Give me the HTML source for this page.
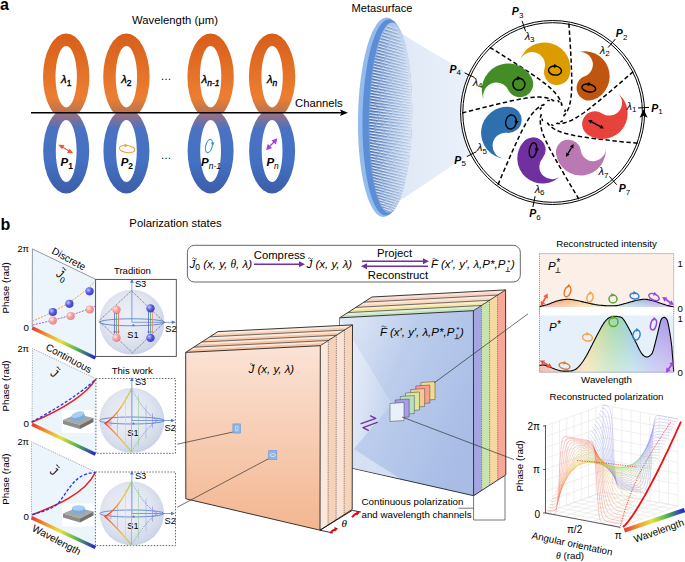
<!DOCTYPE html>
<html><head><meta charset="utf-8"><style>
html,body{margin:0;padding:0;background:#fff;width:685px;height:562px;overflow:hidden}
svg{display:block}
</style></head><body>
<svg width="685" height="562" viewBox="0 0 685 562">
<rect width="685" height="562" fill="#fff"/>

<defs>
 <linearGradient id="gOr" x1="0" y1="33" x2="0" y2="114" gradientUnits="userSpaceOnUse">
  <stop offset="0" stop-color="#d75e19"/><stop offset="0.8" stop-color="#ec7e31"/><stop offset="1" stop-color="#b77252"/>
 </linearGradient>
 <linearGradient id="gBl" x1="0" y1="112" x2="0" y2="195" gradientUnits="userSpaceOnUse">
  <stop offset="0" stop-color="#a6707a"/><stop offset="0.2" stop-color="#4a72c2"/><stop offset="0.6" stop-color="#4471c3"/><stop offset="1" stop-color="#3b5ca6"/>
 </linearGradient>
 <clipPath id="cTop"><rect x="0" y="0" width="685" height="113"/></clipPath>
 <clipPath id="cBot"><rect x="0" y="113" width="685" height="100"/></clipPath>
 <linearGradient id="gBeam" x1="400" y1="0" x2="470" y2="0" gradientUnits="userSpaceOnUse">
  <stop offset="0" stop-color="#dfe9f6"/><stop offset="1" stop-color="#ebf1fa"/>
 </linearGradient>
 <linearGradient id="gMeta" x1="367" y1="0" x2="411" y2="0" gradientUnits="userSpaceOnUse">
  <stop offset="0" stop-color="#6f98d6"/><stop offset="0.45" stop-color="#a6c1e8"/><stop offset="1" stop-color="#d8e4f4"/>
 </linearGradient>
 <linearGradient id="gRain" x1="0" y1="0" x2="1" y2="0">
  <stop offset="0" stop-color="#e8382c"/><stop offset="0.25" stop-color="#f0a030"/><stop offset="0.45" stop-color="#e8e040"/><stop offset="0.7" stop-color="#58b848"/><stop offset="1" stop-color="#2020d0"/>
 </linearGradient>
 <linearGradient id="gPanel" x1="0" y1="0" x2="1" y2="1">
  <stop offset="0" stop-color="#eef5fc"/><stop offset="1" stop-color="#e8f1fb"/>
 </linearGradient>
 <radialGradient id="gSph" cx="0.45" cy="0.42" r="0.58">
  <stop offset="0" stop-color="#eef0f6"/><stop offset="0.6" stop-color="#e2e6f0"/><stop offset="0.9" stop-color="#d2d9ea"/><stop offset="1" stop-color="#c9d2e8"/>
 </radialGradient>
 <linearGradient id="gOrSlab" x1="0" y1="0" x2="0" y2="1">
  <stop offset="0" stop-color="#fbe3d6"/><stop offset="1" stop-color="#f3b690"/>
 </linearGradient>
 <linearGradient id="gBlSlab" x1="0" y1="0" x2="1" y2="0.6">
  <stop offset="0" stop-color="#e4ebf8"/><stop offset="0.45" stop-color="#bccdec"/><stop offset="1" stop-color="#a8bce6"/>
 </linearGradient>
 <linearGradient id="gMW" x1="367" y1="0" x2="411" y2="0" gradientUnits="userSpaceOnUse">
  <stop offset="0" stop-color="#fff" stop-opacity="0.85"/><stop offset="0.5" stop-color="#fff" stop-opacity="0.55"/><stop offset="1" stop-color="#fff" stop-opacity="0.3"/>
 </linearGradient>
 <linearGradient id="gMG" x1="367" y1="0" x2="411" y2="0" gradientUnits="userSpaceOnUse">
  <stop offset="0" stop-color="#34466e" stop-opacity="0.85"/><stop offset="0.5" stop-color="#5a6e98" stop-opacity="0.5"/><stop offset="1" stop-color="#8090b0" stop-opacity="0.25"/>
 </linearGradient>
 <linearGradient id="gWedge" x1="340" y1="0" x2="392" y2="0" gradientUnits="userSpaceOnUse">
  <stop offset="0" stop-color="#eef2fb" stop-opacity="0.9"/><stop offset="1" stop-color="#e4eaf7" stop-opacity="0.2"/>
 </linearGradient>
 <linearGradient id="gSphL" x1="0" y1="0" x2="0" y2="1">
  <stop offset="0" stop-color="#b0d060"/><stop offset="0.25" stop-color="#f0c040"/><stop offset="0.42" stop-color="#f08030"/><stop offset="0.52" stop-color="#f02820"/><stop offset="0.65" stop-color="#f08050"/><stop offset="0.85" stop-color="#f0c050"/><stop offset="1" stop-color="#a8d070"/>
 </linearGradient>
 <linearGradient id="gSphR" x1="0" y1="0" x2="0" y2="1">
  <stop offset="0" stop-color="#90d090"/><stop offset="0.5" stop-color="#6060e0"/><stop offset="1" stop-color="#90d090"/>
 </linearGradient>
 <radialGradient id="gBall" cx="0.35" cy="0.35" r="0.7">
  <stop offset="0" stop-color="#c8c8ff"/><stop offset="0.5" stop-color="#5a5ae6"/><stop offset="1" stop-color="#3a3ac0"/>
 </radialGradient>
 <radialGradient id="gBallP" cx="0.35" cy="0.35" r="0.7">
  <stop offset="0" stop-color="#ffe8e8"/><stop offset="0.5" stop-color="#f5a0a0"/><stop offset="1" stop-color="#e88080"/>
 </radialGradient>
 <linearGradient id="gSpec" x1="539" y1="0" x2="674" y2="0" gradientUnits="userSpaceOnUse">
  <stop offset="0" stop-color="#f06050"/><stop offset="0.2" stop-color="#f5a060"/><stop offset="0.35" stop-color="#f0d070"/><stop offset="0.55" stop-color="#8ed090"/><stop offset="0.7" stop-color="#80c0d8"/><stop offset="0.85" stop-color="#9090e8"/><stop offset="1" stop-color="#a070e0"/>
 </linearGradient>
 <linearGradient id="gSpecFade" x1="0" y1="0" x2="0" y2="1">
  <stop offset="0" stop-color="#fff" stop-opacity="0"/><stop offset="1" stop-color="#fff" stop-opacity="0.55"/>
 </linearGradient>
</defs>
<text x="0" y="9.5" font-family="Liberation Sans, sans-serif" font-size="16" font-weight="bold">a</text>
<text x="0.5" y="229.7" font-family="Liberation Sans, sans-serif" font-size="16" font-weight="bold">b</text>
<text x="175" y="24" font-family="Liberation Sans, sans-serif" font-size="11.3" text-anchor="middle">Wavelength (μm)</text>
<text x="175.5" y="227.3" font-family="Liberation Sans, sans-serif" font-size="11.3" text-anchor="middle">Polarization states</text>
<text x="382" y="12" font-family="Liberation Sans, sans-serif" font-size="11.1" text-anchor="middle">Metasurface</text>
<path d="M43.0,76.7 a23.2,43.2 0 1,0 46.4,0 a23.2,43.2 0 1,0 -46.4,0 Z M55.5,76.7 a10.7,30.7 0 1,1 21.4,0 a10.7,30.7 0 1,1 -21.4,0 Z" fill="url(#gOr)" fill-rule="evenodd" clip-path="url(#cTop)"/>
<path d="M43.2,151.0 a23.0,42.5 0 1,0 46.0,0 a23.0,42.5 0 1,0 -46.0,0 Z M55.800000000000004,151.0 a10.4,31.0 0 1,1 20.8,0 a10.4,31.0 0 1,1 -20.8,0 Z" fill="url(#gBl)" fill-rule="evenodd" clip-path="url(#cBot)"/>
<path d="M103.2,76.7 a23.2,43.2 0 1,0 46.4,0 a23.2,43.2 0 1,0 -46.4,0 Z M115.7,76.7 a10.7,30.7 0 1,1 21.4,0 a10.7,30.7 0 1,1 -21.4,0 Z" fill="url(#gOr)" fill-rule="evenodd" clip-path="url(#cTop)"/>
<path d="M103.4,151.0 a23.0,42.5 0 1,0 46.0,0 a23.0,42.5 0 1,0 -46.0,0 Z M116.0,151.0 a10.4,31.0 0 1,1 20.8,0 a10.4,31.0 0 1,1 -20.8,0 Z" fill="url(#gBl)" fill-rule="evenodd" clip-path="url(#cBot)"/>
<path d="M187.4,76.7 a23.2,43.2 0 1,0 46.4,0 a23.2,43.2 0 1,0 -46.4,0 Z M199.9,76.7 a10.7,30.7 0 1,1 21.4,0 a10.7,30.7 0 1,1 -21.4,0 Z" fill="url(#gOr)" fill-rule="evenodd" clip-path="url(#cTop)"/>
<path d="M187.6,151.0 a23.0,42.5 0 1,0 46.0,0 a23.0,42.5 0 1,0 -46.0,0 Z M200.2,151.0 a10.4,31.0 0 1,1 20.8,0 a10.4,31.0 0 1,1 -20.8,0 Z" fill="url(#gBl)" fill-rule="evenodd" clip-path="url(#cBot)"/>
<path d="M248.90000000000003,76.7 a23.2,43.2 0 1,0 46.4,0 a23.2,43.2 0 1,0 -46.4,0 Z M261.40000000000003,76.7 a10.7,30.7 0 1,1 21.4,0 a10.7,30.7 0 1,1 -21.4,0 Z" fill="url(#gOr)" fill-rule="evenodd" clip-path="url(#cTop)"/>
<path d="M249.10000000000002,151.0 a23.0,42.5 0 1,0 46.0,0 a23.0,42.5 0 1,0 -46.0,0 Z M261.70000000000005,151.0 a10.4,31.0 0 1,1 20.8,0 a10.4,31.0 0 1,1 -20.8,0 Z" fill="url(#gBl)" fill-rule="evenodd" clip-path="url(#cBot)"/>
<line x1="31" y1="112.8" x2="343" y2="112.8" stroke="#000" stroke-width="1.4"/>
<path d="M348,112.8 L340,109.5 L341.5,112.8 L340,116.1 Z" fill="#000"/>
<text x="295" y="106.6" font-family="Liberation Sans, sans-serif" font-size="11.3">Channels</text>
<text x="66.2" y="82.5" font-family="Liberation Sans, sans-serif" font-style="italic" font-weight="normal" font-size="11.5" text-anchor="middle" stroke="#000" stroke-width="0.35">λ<tspan font-size="8.5" font-weight="normal" font-style="normal" dy="3">1</tspan></text>
<text x="66.7" y="166.3" font-family="Liberation Sans, sans-serif" font-style="italic" font-weight="bold" font-size="11.5" text-anchor="middle">P<tspan font-size="8.5" font-weight="bold" font-style="normal" dy="3">1</tspan></text>
<text x="126.4" y="82.5" font-family="Liberation Sans, sans-serif" font-style="italic" font-weight="normal" font-size="11.5" text-anchor="middle" stroke="#000" stroke-width="0.35">λ<tspan font-size="8.5" font-weight="normal" font-style="normal" dy="3">2</tspan></text>
<text x="126.9" y="166.3" font-family="Liberation Sans, sans-serif" font-style="italic" font-weight="bold" font-size="11.5" text-anchor="middle">P<tspan font-size="8.5" font-weight="bold" font-style="normal" dy="3">2</tspan></text>
<text x="210.6" y="82.5" font-family="Liberation Sans, sans-serif" font-style="italic" font-weight="normal" font-size="11.5" text-anchor="middle" stroke="#000" stroke-width="0.35">λ<tspan font-size="8.5" font-weight="normal" font-style="italic" dy="3">n-1</tspan></text>
<text x="211.1" y="166.3" font-family="Liberation Sans, sans-serif" font-style="italic" font-weight="bold" font-size="11.5" text-anchor="middle">P<tspan font-size="8.5" font-weight="normal" font-style="italic" dy="3">n-1</tspan></text>
<text x="272.1" y="82.5" font-family="Liberation Sans, sans-serif" font-style="italic" font-weight="normal" font-size="11.5" text-anchor="middle" stroke="#000" stroke-width="0.35">λ<tspan font-size="8.5" font-weight="normal" font-style="italic" dy="3">n</tspan></text>
<text x="272.6" y="166.3" font-family="Liberation Sans, sans-serif" font-style="italic" font-weight="bold" font-size="11.5" text-anchor="middle">P<tspan font-size="8.5" font-weight="normal" font-style="italic" dy="3">n</tspan></text>
<text x="166" y="80" font-family="Liberation Sans, sans-serif" font-size="11" text-anchor="middle">…</text>
<text x="166" y="159" font-family="Liberation Sans, sans-serif" font-size="11" text-anchor="middle">…</text>
<g stroke="#ea5a3c" stroke-width="1.2" fill="#ea5a3c"><line x1="61.5" y1="146.5" x2="70" y2="151.5"/><path d="M59.5,145.3 l4,0.2 l-1.6,2.7z"/><path d="M72,152.7 l-4,-0.2 l1.6,-2.7z"/></g>
<g fill="none" stroke="#f0a040" stroke-width="1.1"><ellipse cx="127.1" cy="149" rx="7.8" ry="3.6" transform="rotate(8 127.1 149)"/></g><path d="M124.5,143.6 l3.6,1.9 l-3.4,2z" fill="#f0a040"/>
<g fill="none" stroke="#3a8fd8" stroke-width="1.1"><ellipse cx="209" cy="146" rx="3.2" ry="6.8" transform="rotate(15 209 146)"/></g><path d="M210.8,142.5 l3.8,0 l-1.8,3.6z" fill="#3a8fd8"/>
<g stroke="#a040e0" stroke-width="1.2" fill="#a040e0"><line x1="269" y1="147" x2="274.5" y2="141.5"/><path d="M276.5,139.3 l-1,4 l-2.9,-2.6z"/><path d="M267,149.2 l1,-4 l2.9,2.6z"/></g>
<path d="M396,30 C420,45 445,60 470,74 L470,154 C445,170 420,188 396,203 Z" fill="url(#gBeam)"/>
<g transform="translate(1.5,0) rotate(1 384 117)">
<ellipse cx="383.5" cy="117.3" rx="27" ry="99.8" fill="#93bbeb"/>
<ellipse cx="385.8" cy="117.3" rx="24.8" ry="98.2" fill="#5c8ed7"/>
<ellipse cx="389" cy="117.5" rx="21.8" ry="95" fill="url(#gMeta)"/>
<clipPath id="cMeta"><ellipse cx="389" cy="117.5" rx="21.8" ry="95"/></clipPath>
<g clip-path="url(#cMeta)"><line x1="384.0" y1="25.9" x2="389.4" y2="27.6" stroke="url(#gMW)" stroke-width="1.0"/><line x1="384.0" y1="27.0" x2="389.4" y2="28.7" stroke="url(#gMG)" stroke-width="0.8"/><line x1="390.7" y1="28.0" x2="393.8" y2="28.9" stroke="url(#gMW)" stroke-width="1.0"/><line x1="390.7" y1="29.1" x2="393.8" y2="30.0" stroke="url(#gMG)" stroke-width="0.8"/><line x1="382.0" y1="28.8" x2="389.7" y2="31.2" stroke="url(#gMW)" stroke-width="1.0"/><line x1="382.0" y1="29.9" x2="389.7" y2="32.3" stroke="url(#gMG)" stroke-width="0.8"/><line x1="390.4" y1="31.4" x2="394.5" y2="32.6" stroke="url(#gMW)" stroke-width="1.0"/><line x1="390.4" y1="32.5" x2="394.5" y2="33.7" stroke="url(#gMG)" stroke-width="0.8"/><line x1="380.4" y1="31.7" x2="386.0" y2="33.4" stroke="url(#gMW)" stroke-width="1.0"/><line x1="380.4" y1="32.8" x2="386.0" y2="34.5" stroke="url(#gMG)" stroke-width="0.8"/><line x1="386.9" y1="33.6" x2="396.9" y2="36.6" stroke="url(#gMW)" stroke-width="1.0"/><line x1="386.9" y1="34.7" x2="396.9" y2="37.7" stroke="url(#gMG)" stroke-width="0.8"/><line x1="379.2" y1="34.6" x2="388.2" y2="37.2" stroke="url(#gMW)" stroke-width="1.0"/><line x1="379.2" y1="35.7" x2="388.2" y2="38.3" stroke="url(#gMG)" stroke-width="0.8"/><line x1="389.3" y1="37.6" x2="397.2" y2="39.9" stroke="url(#gMW)" stroke-width="1.0"/><line x1="389.3" y1="38.7" x2="397.2" y2="41.0" stroke="url(#gMG)" stroke-width="0.8"/><line x1="378.0" y1="37.5" x2="385.9" y2="39.7" stroke="url(#gMW)" stroke-width="1.0"/><line x1="378.0" y1="38.6" x2="385.9" y2="40.8" stroke="url(#gMG)" stroke-width="0.8"/><line x1="387.5" y1="40.2" x2="394.6" y2="42.2" stroke="url(#gMW)" stroke-width="1.0"/><line x1="387.5" y1="41.3" x2="394.6" y2="43.3" stroke="url(#gMG)" stroke-width="0.8"/><line x1="396.1" y1="42.7" x2="399.8" y2="43.7" stroke="url(#gMW)" stroke-width="1.0"/><line x1="396.1" y1="43.8" x2="399.8" y2="44.8" stroke="url(#gMG)" stroke-width="0.8"/><line x1="377.1" y1="40.4" x2="385.6" y2="42.8" stroke="url(#gMW)" stroke-width="1.0"/><line x1="377.1" y1="41.5" x2="385.6" y2="43.9" stroke="url(#gMG)" stroke-width="0.8"/><line x1="386.9" y1="43.1" x2="392.7" y2="44.8" stroke="url(#gMW)" stroke-width="1.0"/><line x1="386.9" y1="44.2" x2="392.7" y2="45.9" stroke="url(#gMG)" stroke-width="0.8"/><line x1="393.4" y1="44.9" x2="400.7" y2="47.0" stroke="url(#gMW)" stroke-width="1.0"/><line x1="393.4" y1="46.0" x2="400.7" y2="48.1" stroke="url(#gMG)" stroke-width="0.8"/><line x1="376.2" y1="43.3" x2="384.5" y2="45.6" stroke="url(#gMW)" stroke-width="1.0"/><line x1="376.2" y1="44.4" x2="384.5" y2="46.7" stroke="url(#gMG)" stroke-width="0.8"/><line x1="386.2" y1="46.0" x2="394.4" y2="48.3" stroke="url(#gMW)" stroke-width="1.0"/><line x1="386.2" y1="47.1" x2="394.4" y2="49.4" stroke="url(#gMG)" stroke-width="0.8"/><line x1="396.1" y1="48.7" x2="401.6" y2="50.2" stroke="url(#gMW)" stroke-width="1.0"/><line x1="396.1" y1="49.8" x2="401.6" y2="51.3" stroke="url(#gMG)" stroke-width="0.8"/><line x1="375.4" y1="46.2" x2="382.1" y2="48.0" stroke="url(#gMW)" stroke-width="1.0"/><line x1="375.4" y1="47.3" x2="382.1" y2="49.1" stroke="url(#gMG)" stroke-width="0.8"/><line x1="383.8" y1="48.4" x2="393.1" y2="50.9" stroke="url(#gMW)" stroke-width="1.0"/><line x1="383.8" y1="49.5" x2="393.1" y2="52.0" stroke="url(#gMG)" stroke-width="0.8"/><line x1="393.8" y1="51.1" x2="398.6" y2="52.3" stroke="url(#gMW)" stroke-width="1.0"/><line x1="393.8" y1="52.2" x2="398.6" y2="53.4" stroke="url(#gMG)" stroke-width="0.8"/><line x1="399.5" y1="52.6" x2="402.4" y2="53.4" stroke="url(#gMW)" stroke-width="1.0"/><line x1="399.5" y1="53.7" x2="402.4" y2="54.5" stroke="url(#gMG)" stroke-width="0.8"/><line x1="374.7" y1="49.1" x2="382.4" y2="51.1" stroke="url(#gMW)" stroke-width="1.0"/><line x1="374.7" y1="50.2" x2="382.4" y2="52.2" stroke="url(#gMG)" stroke-width="0.8"/><line x1="383.4" y1="51.4" x2="390.4" y2="53.2" stroke="url(#gMW)" stroke-width="1.0"/><line x1="383.4" y1="52.5" x2="390.4" y2="54.3" stroke="url(#gMG)" stroke-width="0.8"/><line x1="391.5" y1="53.4" x2="397.6" y2="55.0" stroke="url(#gMW)" stroke-width="1.0"/><line x1="391.5" y1="54.5" x2="397.6" y2="56.1" stroke="url(#gMG)" stroke-width="0.8"/><line x1="398.9" y1="55.4" x2="403.1" y2="56.5" stroke="url(#gMW)" stroke-width="1.0"/><line x1="398.9" y1="56.5" x2="403.1" y2="57.6" stroke="url(#gMG)" stroke-width="0.8"/><line x1="374.0" y1="52.0" x2="382.1" y2="54.0" stroke="url(#gMW)" stroke-width="1.0"/><line x1="374.0" y1="53.1" x2="382.1" y2="55.1" stroke="url(#gMG)" stroke-width="0.8"/><line x1="383.8" y1="54.5" x2="393.0" y2="56.8" stroke="url(#gMW)" stroke-width="1.0"/><line x1="383.8" y1="55.6" x2="393.0" y2="57.9" stroke="url(#gMG)" stroke-width="0.8"/><line x1="394.7" y1="57.2" x2="402.8" y2="59.2" stroke="url(#gMW)" stroke-width="1.0"/><line x1="394.7" y1="58.3" x2="402.8" y2="60.3" stroke="url(#gMG)" stroke-width="0.8"/><line x1="373.4" y1="54.9" x2="382.6" y2="57.1" stroke="url(#gMW)" stroke-width="1.0"/><line x1="373.4" y1="56.0" x2="382.6" y2="58.2" stroke="url(#gMG)" stroke-width="0.8"/><line x1="384.3" y1="57.6" x2="393.8" y2="59.9" stroke="url(#gMW)" stroke-width="1.0"/><line x1="384.3" y1="58.7" x2="393.8" y2="61.0" stroke="url(#gMG)" stroke-width="0.8"/><line x1="395.0" y1="60.2" x2="403.3" y2="62.2" stroke="url(#gMW)" stroke-width="1.0"/><line x1="395.0" y1="61.3" x2="403.3" y2="63.3" stroke="url(#gMG)" stroke-width="0.8"/><line x1="372.8" y1="57.8" x2="381.8" y2="59.9" stroke="url(#gMW)" stroke-width="1.0"/><line x1="372.8" y1="58.9" x2="381.8" y2="61.0" stroke="url(#gMG)" stroke-width="0.8"/><line x1="383.1" y1="60.2" x2="388.8" y2="61.6" stroke="url(#gMW)" stroke-width="1.0"/><line x1="383.1" y1="61.3" x2="388.8" y2="62.7" stroke="url(#gMG)" stroke-width="0.8"/><line x1="389.5" y1="61.8" x2="398.6" y2="63.9" stroke="url(#gMW)" stroke-width="1.0"/><line x1="389.5" y1="62.9" x2="398.6" y2="65.0" stroke="url(#gMG)" stroke-width="0.8"/><line x1="400.4" y1="64.4" x2="404.9" y2="65.4" stroke="url(#gMW)" stroke-width="1.0"/><line x1="400.4" y1="65.5" x2="404.9" y2="66.5" stroke="url(#gMG)" stroke-width="0.8"/><line x1="372.3" y1="60.7" x2="378.8" y2="62.2" stroke="url(#gMW)" stroke-width="1.0"/><line x1="372.3" y1="61.8" x2="378.8" y2="63.3" stroke="url(#gMG)" stroke-width="0.8"/><line x1="379.6" y1="62.4" x2="385.3" y2="63.7" stroke="url(#gMW)" stroke-width="1.0"/><line x1="379.6" y1="63.5" x2="385.3" y2="64.8" stroke="url(#gMG)" stroke-width="0.8"/><line x1="386.9" y1="64.1" x2="396.1" y2="66.2" stroke="url(#gMW)" stroke-width="1.0"/><line x1="386.9" y1="65.2" x2="396.1" y2="67.3" stroke="url(#gMG)" stroke-width="0.8"/><line x1="396.7" y1="66.4" x2="404.4" y2="68.1" stroke="url(#gMW)" stroke-width="1.0"/><line x1="396.7" y1="67.5" x2="404.4" y2="69.2" stroke="url(#gMG)" stroke-width="0.8"/><line x1="371.8" y1="63.6" x2="380.2" y2="65.5" stroke="url(#gMW)" stroke-width="1.0"/><line x1="371.8" y1="64.7" x2="380.2" y2="66.6" stroke="url(#gMG)" stroke-width="0.8"/><line x1="381.2" y1="65.7" x2="390.4" y2="67.8" stroke="url(#gMW)" stroke-width="1.0"/><line x1="381.2" y1="66.8" x2="390.4" y2="68.9" stroke="url(#gMG)" stroke-width="0.8"/><line x1="392.2" y1="68.2" x2="399.3" y2="69.8" stroke="url(#gMW)" stroke-width="1.0"/><line x1="392.2" y1="69.3" x2="399.3" y2="70.9" stroke="url(#gMG)" stroke-width="0.8"/><line x1="401.0" y1="70.2" x2="406.0" y2="71.3" stroke="url(#gMW)" stroke-width="1.0"/><line x1="401.0" y1="71.3" x2="406.0" y2="72.4" stroke="url(#gMG)" stroke-width="0.8"/><line x1="371.4" y1="66.5" x2="379.0" y2="68.2" stroke="url(#gMW)" stroke-width="1.0"/><line x1="371.4" y1="67.6" x2="379.0" y2="69.3" stroke="url(#gMG)" stroke-width="0.8"/><line x1="379.6" y1="68.3" x2="384.8" y2="69.4" stroke="url(#gMW)" stroke-width="1.0"/><line x1="379.6" y1="69.4" x2="384.8" y2="70.5" stroke="url(#gMG)" stroke-width="0.8"/><line x1="385.9" y1="69.7" x2="393.6" y2="71.3" stroke="url(#gMW)" stroke-width="1.0"/><line x1="385.9" y1="70.8" x2="393.6" y2="72.4" stroke="url(#gMG)" stroke-width="0.8"/><line x1="394.4" y1="71.5" x2="398.6" y2="72.4" stroke="url(#gMW)" stroke-width="1.0"/><line x1="394.4" y1="72.6" x2="398.6" y2="73.5" stroke="url(#gMG)" stroke-width="0.8"/><line x1="400.3" y1="72.8" x2="406.1" y2="74.1" stroke="url(#gMW)" stroke-width="1.0"/><line x1="400.3" y1="73.9" x2="406.1" y2="75.2" stroke="url(#gMG)" stroke-width="0.8"/><line x1="371.0" y1="69.4" x2="380.4" y2="71.4" stroke="url(#gMW)" stroke-width="1.0"/><line x1="371.0" y1="70.5" x2="380.4" y2="72.5" stroke="url(#gMG)" stroke-width="0.8"/><line x1="381.4" y1="71.6" x2="388.2" y2="73.0" stroke="url(#gMW)" stroke-width="1.0"/><line x1="381.4" y1="72.7" x2="388.2" y2="74.1" stroke="url(#gMG)" stroke-width="0.8"/><line x1="389.4" y1="73.3" x2="397.3" y2="75.0" stroke="url(#gMW)" stroke-width="1.0"/><line x1="389.4" y1="74.4" x2="397.3" y2="76.1" stroke="url(#gMG)" stroke-width="0.8"/><line x1="398.6" y1="75.2" x2="406.0" y2="76.8" stroke="url(#gMW)" stroke-width="1.0"/><line x1="398.6" y1="76.3" x2="406.0" y2="77.9" stroke="url(#gMG)" stroke-width="0.8"/><line x1="370.6" y1="72.3" x2="380.3" y2="74.3" stroke="url(#gMW)" stroke-width="1.0"/><line x1="370.6" y1="73.4" x2="380.3" y2="75.4" stroke="url(#gMG)" stroke-width="0.8"/><line x1="381.5" y1="74.5" x2="388.1" y2="75.9" stroke="url(#gMW)" stroke-width="1.0"/><line x1="381.5" y1="75.6" x2="388.1" y2="77.0" stroke="url(#gMG)" stroke-width="0.8"/><line x1="389.5" y1="76.2" x2="395.0" y2="77.3" stroke="url(#gMW)" stroke-width="1.0"/><line x1="389.5" y1="77.3" x2="395.0" y2="78.4" stroke="url(#gMG)" stroke-width="0.8"/><line x1="395.9" y1="77.5" x2="405.8" y2="79.5" stroke="url(#gMW)" stroke-width="1.0"/><line x1="395.9" y1="78.6" x2="405.8" y2="80.6" stroke="url(#gMG)" stroke-width="0.8"/><line x1="370.3" y1="75.2" x2="377.6" y2="76.6" stroke="url(#gMW)" stroke-width="1.0"/><line x1="370.3" y1="76.3" x2="377.6" y2="77.7" stroke="url(#gMG)" stroke-width="0.8"/><line x1="378.2" y1="76.8" x2="384.7" y2="78.0" stroke="url(#gMW)" stroke-width="1.0"/><line x1="378.2" y1="77.9" x2="384.7" y2="79.1" stroke="url(#gMG)" stroke-width="0.8"/><line x1="386.0" y1="78.3" x2="390.1" y2="79.1" stroke="url(#gMW)" stroke-width="1.0"/><line x1="386.0" y1="79.4" x2="390.1" y2="80.2" stroke="url(#gMG)" stroke-width="0.8"/><line x1="391.4" y1="79.4" x2="399.2" y2="80.9" stroke="url(#gMW)" stroke-width="1.0"/><line x1="391.4" y1="80.5" x2="399.2" y2="82.0" stroke="url(#gMG)" stroke-width="0.8"/><line x1="399.9" y1="81.1" x2="407.5" y2="82.6" stroke="url(#gMW)" stroke-width="1.0"/><line x1="399.9" y1="82.2" x2="407.5" y2="83.7" stroke="url(#gMG)" stroke-width="0.8"/><line x1="370.0" y1="78.1" x2="378.0" y2="79.6" stroke="url(#gMW)" stroke-width="1.0"/><line x1="370.0" y1="79.2" x2="378.0" y2="80.7" stroke="url(#gMG)" stroke-width="0.8"/><line x1="379.1" y1="79.8" x2="387.3" y2="81.4" stroke="url(#gMW)" stroke-width="1.0"/><line x1="379.1" y1="80.9" x2="387.3" y2="82.5" stroke="url(#gMG)" stroke-width="0.8"/><line x1="388.8" y1="81.7" x2="392.9" y2="82.5" stroke="url(#gMW)" stroke-width="1.0"/><line x1="388.8" y1="82.8" x2="392.9" y2="83.6" stroke="url(#gMG)" stroke-width="0.8"/><line x1="393.6" y1="82.6" x2="401.7" y2="84.2" stroke="url(#gMW)" stroke-width="1.0"/><line x1="393.6" y1="83.7" x2="401.7" y2="85.3" stroke="url(#gMG)" stroke-width="0.8"/><line x1="403.4" y1="84.5" x2="407.8" y2="85.3" stroke="url(#gMW)" stroke-width="1.0"/><line x1="403.4" y1="85.6" x2="407.8" y2="86.4" stroke="url(#gMG)" stroke-width="0.8"/><line x1="369.7" y1="81.0" x2="377.2" y2="82.4" stroke="url(#gMW)" stroke-width="1.0"/><line x1="369.7" y1="82.1" x2="377.2" y2="83.5" stroke="url(#gMG)" stroke-width="0.8"/><line x1="378.2" y1="82.6" x2="384.4" y2="83.7" stroke="url(#gMW)" stroke-width="1.0"/><line x1="378.2" y1="83.7" x2="384.4" y2="84.8" stroke="url(#gMG)" stroke-width="0.8"/><line x1="385.4" y1="83.9" x2="391.6" y2="85.0" stroke="url(#gMW)" stroke-width="1.0"/><line x1="385.4" y1="85.0" x2="391.6" y2="86.1" stroke="url(#gMG)" stroke-width="0.8"/><line x1="392.9" y1="85.3" x2="398.7" y2="86.4" stroke="url(#gMW)" stroke-width="1.0"/><line x1="392.9" y1="86.4" x2="398.7" y2="87.5" stroke="url(#gMG)" stroke-width="0.8"/><line x1="399.8" y1="86.6" x2="408.1" y2="88.1" stroke="url(#gMW)" stroke-width="1.0"/><line x1="399.8" y1="87.7" x2="408.1" y2="89.2" stroke="url(#gMG)" stroke-width="0.8"/><line x1="369.4" y1="83.9" x2="376.8" y2="85.2" stroke="url(#gMW)" stroke-width="1.0"/><line x1="369.4" y1="85.0" x2="376.8" y2="86.3" stroke="url(#gMG)" stroke-width="0.8"/><line x1="378.3" y1="85.5" x2="384.2" y2="86.5" stroke="url(#gMW)" stroke-width="1.0"/><line x1="378.3" y1="86.6" x2="384.2" y2="87.6" stroke="url(#gMG)" stroke-width="0.8"/><line x1="385.0" y1="86.7" x2="393.9" y2="88.2" stroke="url(#gMW)" stroke-width="1.0"/><line x1="385.0" y1="87.8" x2="393.9" y2="89.3" stroke="url(#gMG)" stroke-width="0.8"/><line x1="394.7" y1="88.4" x2="399.9" y2="89.3" stroke="url(#gMW)" stroke-width="1.0"/><line x1="394.7" y1="89.5" x2="399.9" y2="90.4" stroke="url(#gMG)" stroke-width="0.8"/><line x1="401.0" y1="89.5" x2="408.4" y2="90.8" stroke="url(#gMW)" stroke-width="1.0"/><line x1="401.0" y1="90.6" x2="408.4" y2="91.9" stroke="url(#gMG)" stroke-width="0.8"/><line x1="369.2" y1="86.8" x2="375.1" y2="87.8" stroke="url(#gMW)" stroke-width="1.0"/><line x1="369.2" y1="87.9" x2="375.1" y2="88.9" stroke="url(#gMG)" stroke-width="0.8"/><line x1="376.1" y1="88.0" x2="385.1" y2="89.5" stroke="url(#gMW)" stroke-width="1.0"/><line x1="376.1" y1="89.1" x2="385.1" y2="90.6" stroke="url(#gMG)" stroke-width="0.8"/><line x1="386.2" y1="89.7" x2="395.4" y2="91.3" stroke="url(#gMW)" stroke-width="1.0"/><line x1="386.2" y1="90.8" x2="395.4" y2="92.4" stroke="url(#gMG)" stroke-width="0.8"/><line x1="396.2" y1="91.4" x2="402.2" y2="92.4" stroke="url(#gMW)" stroke-width="1.0"/><line x1="396.2" y1="92.5" x2="402.2" y2="93.5" stroke="url(#gMG)" stroke-width="0.8"/><line x1="403.6" y1="92.7" x2="408.6" y2="93.6" stroke="url(#gMW)" stroke-width="1.0"/><line x1="403.6" y1="93.8" x2="408.6" y2="94.7" stroke="url(#gMG)" stroke-width="0.8"/><line x1="369.0" y1="89.7" x2="374.3" y2="90.6" stroke="url(#gMW)" stroke-width="1.0"/><line x1="369.0" y1="90.8" x2="374.3" y2="91.7" stroke="url(#gMG)" stroke-width="0.8"/><line x1="375.0" y1="90.7" x2="382.2" y2="91.9" stroke="url(#gMW)" stroke-width="1.0"/><line x1="375.0" y1="91.8" x2="382.2" y2="93.0" stroke="url(#gMG)" stroke-width="0.8"/><line x1="383.1" y1="92.0" x2="391.9" y2="93.5" stroke="url(#gMW)" stroke-width="1.0"/><line x1="383.1" y1="93.1" x2="391.9" y2="94.6" stroke="url(#gMG)" stroke-width="0.8"/><line x1="393.5" y1="93.7" x2="398.6" y2="94.6" stroke="url(#gMW)" stroke-width="1.0"/><line x1="393.5" y1="94.8" x2="398.6" y2="95.7" stroke="url(#gMG)" stroke-width="0.8"/><line x1="399.5" y1="94.7" x2="408.4" y2="96.2" stroke="url(#gMW)" stroke-width="1.0"/><line x1="399.5" y1="95.8" x2="408.4" y2="97.3" stroke="url(#gMG)" stroke-width="0.8"/><line x1="368.8" y1="92.6" x2="377.6" y2="94.0" stroke="url(#gMW)" stroke-width="1.0"/><line x1="368.8" y1="93.7" x2="377.6" y2="95.1" stroke="url(#gMG)" stroke-width="0.8"/><line x1="378.6" y1="94.2" x2="383.4" y2="94.9" stroke="url(#gMW)" stroke-width="1.0"/><line x1="378.6" y1="95.3" x2="383.4" y2="96.0" stroke="url(#gMG)" stroke-width="0.8"/><line x1="384.3" y1="95.1" x2="393.1" y2="96.4" stroke="url(#gMW)" stroke-width="1.0"/><line x1="384.3" y1="96.2" x2="393.1" y2="97.5" stroke="url(#gMG)" stroke-width="0.8"/><line x1="394.0" y1="96.6" x2="400.1" y2="97.5" stroke="url(#gMW)" stroke-width="1.0"/><line x1="394.0" y1="97.7" x2="400.1" y2="98.6" stroke="url(#gMG)" stroke-width="0.8"/><line x1="401.2" y1="97.7" x2="407.7" y2="98.7" stroke="url(#gMW)" stroke-width="1.0"/><line x1="401.2" y1="98.8" x2="407.7" y2="99.8" stroke="url(#gMG)" stroke-width="0.8"/><line x1="368.6" y1="95.5" x2="378.1" y2="96.9" stroke="url(#gMW)" stroke-width="1.0"/><line x1="368.6" y1="96.6" x2="378.1" y2="98.0" stroke="url(#gMG)" stroke-width="0.8"/><line x1="378.9" y1="97.1" x2="382.9" y2="97.7" stroke="url(#gMW)" stroke-width="1.0"/><line x1="378.9" y1="98.2" x2="382.9" y2="98.8" stroke="url(#gMG)" stroke-width="0.8"/><line x1="384.7" y1="97.9" x2="393.9" y2="99.3" stroke="url(#gMW)" stroke-width="1.0"/><line x1="384.7" y1="99.0" x2="393.9" y2="100.4" stroke="url(#gMG)" stroke-width="0.8"/><line x1="395.7" y1="99.6" x2="402.3" y2="100.6" stroke="url(#gMW)" stroke-width="1.0"/><line x1="395.7" y1="100.7" x2="402.3" y2="101.7" stroke="url(#gMG)" stroke-width="0.8"/><line x1="404.1" y1="100.9" x2="409.2" y2="101.6" stroke="url(#gMW)" stroke-width="1.0"/><line x1="404.1" y1="102.0" x2="409.2" y2="102.7" stroke="url(#gMG)" stroke-width="0.8"/><line x1="368.4" y1="98.4" x2="376.9" y2="99.6" stroke="url(#gMW)" stroke-width="1.0"/><line x1="368.4" y1="99.5" x2="376.9" y2="100.7" stroke="url(#gMG)" stroke-width="0.8"/><line x1="378.5" y1="99.9" x2="386.5" y2="101.0" stroke="url(#gMW)" stroke-width="1.0"/><line x1="378.5" y1="101.0" x2="386.5" y2="102.1" stroke="url(#gMG)" stroke-width="0.8"/><line x1="387.7" y1="101.2" x2="393.5" y2="102.0" stroke="url(#gMW)" stroke-width="1.0"/><line x1="387.7" y1="102.3" x2="393.5" y2="103.1" stroke="url(#gMG)" stroke-width="0.8"/><line x1="394.5" y1="102.2" x2="399.8" y2="102.9" stroke="url(#gMW)" stroke-width="1.0"/><line x1="394.5" y1="103.3" x2="399.8" y2="104.0" stroke="url(#gMG)" stroke-width="0.8"/><line x1="400.5" y1="103.0" x2="408.0" y2="104.1" stroke="url(#gMW)" stroke-width="1.0"/><line x1="400.5" y1="104.1" x2="408.0" y2="105.2" stroke="url(#gMG)" stroke-width="0.8"/><line x1="368.3" y1="101.3" x2="377.2" y2="102.5" stroke="url(#gMW)" stroke-width="1.0"/><line x1="368.3" y1="102.4" x2="377.2" y2="103.6" stroke="url(#gMG)" stroke-width="0.8"/><line x1="377.8" y1="102.6" x2="387.3" y2="103.9" stroke="url(#gMW)" stroke-width="1.0"/><line x1="377.8" y1="103.7" x2="387.3" y2="105.0" stroke="url(#gMG)" stroke-width="0.8"/><line x1="388.7" y1="104.1" x2="398.2" y2="105.4" stroke="url(#gMW)" stroke-width="1.0"/><line x1="388.7" y1="105.2" x2="398.2" y2="106.5" stroke="url(#gMG)" stroke-width="0.8"/><line x1="399.9" y1="105.6" x2="409.3" y2="106.9" stroke="url(#gMW)" stroke-width="1.0"/><line x1="399.9" y1="106.7" x2="409.3" y2="108.0" stroke="url(#gMG)" stroke-width="0.8"/><line x1="368.2" y1="104.2" x2="372.3" y2="104.7" stroke="url(#gMW)" stroke-width="1.0"/><line x1="368.2" y1="105.3" x2="372.3" y2="105.8" stroke="url(#gMG)" stroke-width="0.8"/><line x1="373.8" y1="104.9" x2="378.8" y2="105.6" stroke="url(#gMW)" stroke-width="1.0"/><line x1="373.8" y1="106.0" x2="378.8" y2="106.7" stroke="url(#gMG)" stroke-width="0.8"/><line x1="379.8" y1="105.7" x2="387.8" y2="106.8" stroke="url(#gMW)" stroke-width="1.0"/><line x1="379.8" y1="106.8" x2="387.8" y2="107.9" stroke="url(#gMG)" stroke-width="0.8"/><line x1="389.0" y1="106.9" x2="395.5" y2="107.8" stroke="url(#gMW)" stroke-width="1.0"/><line x1="389.0" y1="108.0" x2="395.5" y2="108.9" stroke="url(#gMG)" stroke-width="0.8"/><line x1="397.2" y1="108.0" x2="404.9" y2="109.0" stroke="url(#gMW)" stroke-width="1.0"/><line x1="397.2" y1="109.1" x2="404.9" y2="110.1" stroke="url(#gMG)" stroke-width="0.8"/><line x1="405.9" y1="109.1" x2="409.6" y2="109.6" stroke="url(#gMW)" stroke-width="1.0"/><line x1="405.9" y1="110.2" x2="409.6" y2="110.7" stroke="url(#gMG)" stroke-width="0.8"/><line x1="368.1" y1="107.1" x2="375.0" y2="108.0" stroke="url(#gMW)" stroke-width="1.0"/><line x1="368.1" y1="108.2" x2="375.0" y2="109.1" stroke="url(#gMG)" stroke-width="0.8"/><line x1="376.5" y1="108.1" x2="382.6" y2="108.9" stroke="url(#gMW)" stroke-width="1.0"/><line x1="376.5" y1="109.2" x2="382.6" y2="110.0" stroke="url(#gMG)" stroke-width="0.8"/><line x1="383.5" y1="109.0" x2="390.7" y2="109.9" stroke="url(#gMW)" stroke-width="1.0"/><line x1="383.5" y1="110.1" x2="390.7" y2="111.0" stroke="url(#gMG)" stroke-width="0.8"/><line x1="392.3" y1="110.1" x2="397.3" y2="110.7" stroke="url(#gMW)" stroke-width="1.0"/><line x1="392.3" y1="111.2" x2="397.3" y2="111.8" stroke="url(#gMG)" stroke-width="0.8"/><line x1="398.8" y1="110.9" x2="408.4" y2="112.1" stroke="url(#gMW)" stroke-width="1.0"/><line x1="398.8" y1="112.0" x2="408.4" y2="113.2" stroke="url(#gMG)" stroke-width="0.8"/><line x1="368.1" y1="110.0" x2="377.0" y2="111.0" stroke="url(#gMW)" stroke-width="1.0"/><line x1="368.1" y1="111.1" x2="377.0" y2="112.1" stroke="url(#gMG)" stroke-width="0.8"/><line x1="377.6" y1="111.1" x2="385.4" y2="112.0" stroke="url(#gMW)" stroke-width="1.0"/><line x1="377.6" y1="112.2" x2="385.4" y2="113.1" stroke="url(#gMG)" stroke-width="0.8"/><line x1="387.0" y1="112.2" x2="391.3" y2="112.7" stroke="url(#gMW)" stroke-width="1.0"/><line x1="387.0" y1="113.3" x2="391.3" y2="113.8" stroke="url(#gMG)" stroke-width="0.8"/><line x1="392.3" y1="112.8" x2="397.9" y2="113.5" stroke="url(#gMW)" stroke-width="1.0"/><line x1="392.3" y1="113.9" x2="397.9" y2="114.6" stroke="url(#gMG)" stroke-width="0.8"/><line x1="399.1" y1="113.6" x2="405.6" y2="114.4" stroke="url(#gMW)" stroke-width="1.0"/><line x1="399.1" y1="114.7" x2="405.6" y2="115.5" stroke="url(#gMG)" stroke-width="0.8"/><line x1="406.8" y1="114.5" x2="409.7" y2="114.9" stroke="url(#gMW)" stroke-width="1.0"/><line x1="406.8" y1="115.6" x2="409.7" y2="116.0" stroke="url(#gMG)" stroke-width="0.8"/><line x1="368.0" y1="112.9" x2="372.4" y2="113.4" stroke="url(#gMW)" stroke-width="1.0"/><line x1="368.0" y1="114.0" x2="372.4" y2="114.5" stroke="url(#gMG)" stroke-width="0.8"/><line x1="373.1" y1="113.5" x2="377.9" y2="114.0" stroke="url(#gMW)" stroke-width="1.0"/><line x1="373.1" y1="114.6" x2="377.9" y2="115.1" stroke="url(#gMG)" stroke-width="0.8"/><line x1="378.5" y1="114.1" x2="388.4" y2="115.2" stroke="url(#gMW)" stroke-width="1.0"/><line x1="378.5" y1="115.2" x2="388.4" y2="116.3" stroke="url(#gMG)" stroke-width="0.8"/><line x1="390.0" y1="115.3" x2="394.5" y2="115.8" stroke="url(#gMW)" stroke-width="1.0"/><line x1="390.0" y1="116.4" x2="394.5" y2="116.9" stroke="url(#gMG)" stroke-width="0.8"/><line x1="395.7" y1="116.0" x2="401.6" y2="116.6" stroke="url(#gMW)" stroke-width="1.0"/><line x1="395.7" y1="117.1" x2="401.6" y2="117.7" stroke="url(#gMG)" stroke-width="0.8"/><line x1="402.6" y1="116.7" x2="408.7" y2="117.4" stroke="url(#gMW)" stroke-width="1.0"/><line x1="402.6" y1="117.8" x2="408.7" y2="118.5" stroke="url(#gMG)" stroke-width="0.8"/><line x1="368.0" y1="115.8" x2="375.5" y2="116.6" stroke="url(#gMW)" stroke-width="1.0"/><line x1="368.0" y1="116.9" x2="375.5" y2="117.7" stroke="url(#gMG)" stroke-width="0.8"/><line x1="376.6" y1="116.7" x2="381.7" y2="117.2" stroke="url(#gMW)" stroke-width="1.0"/><line x1="376.6" y1="117.8" x2="381.7" y2="118.3" stroke="url(#gMG)" stroke-width="0.8"/><line x1="382.7" y1="117.3" x2="387.4" y2="117.8" stroke="url(#gMW)" stroke-width="1.0"/><line x1="382.7" y1="118.4" x2="387.4" y2="118.9" stroke="url(#gMG)" stroke-width="0.8"/><line x1="388.7" y1="118.0" x2="397.0" y2="118.8" stroke="url(#gMW)" stroke-width="1.0"/><line x1="388.7" y1="119.1" x2="397.0" y2="119.9" stroke="url(#gMG)" stroke-width="0.8"/><line x1="398.1" y1="118.9" x2="402.5" y2="119.4" stroke="url(#gMW)" stroke-width="1.0"/><line x1="398.1" y1="120.0" x2="402.5" y2="120.5" stroke="url(#gMG)" stroke-width="0.8"/><line x1="403.4" y1="119.5" x2="409.6" y2="120.1" stroke="url(#gMW)" stroke-width="1.0"/><line x1="403.4" y1="120.6" x2="409.6" y2="121.2" stroke="url(#gMG)" stroke-width="0.8"/><line x1="368.0" y1="118.7" x2="376.7" y2="119.6" stroke="url(#gMW)" stroke-width="1.0"/><line x1="368.0" y1="119.8" x2="376.7" y2="120.7" stroke="url(#gMG)" stroke-width="0.8"/><line x1="377.8" y1="119.7" x2="386.6" y2="120.6" stroke="url(#gMW)" stroke-width="1.0"/><line x1="377.8" y1="120.8" x2="386.6" y2="121.7" stroke="url(#gMG)" stroke-width="0.8"/><line x1="387.9" y1="120.7" x2="394.5" y2="121.4" stroke="url(#gMW)" stroke-width="1.0"/><line x1="387.9" y1="121.8" x2="394.5" y2="122.5" stroke="url(#gMG)" stroke-width="0.8"/><line x1="395.5" y1="121.5" x2="402.5" y2="122.2" stroke="url(#gMW)" stroke-width="1.0"/><line x1="395.5" y1="122.6" x2="402.5" y2="123.3" stroke="url(#gMG)" stroke-width="0.8"/><line x1="404.0" y1="122.4" x2="409.8" y2="123.0" stroke="url(#gMW)" stroke-width="1.0"/><line x1="404.0" y1="123.5" x2="409.8" y2="124.1" stroke="url(#gMG)" stroke-width="0.8"/><line x1="368.0" y1="121.6" x2="374.8" y2="122.3" stroke="url(#gMW)" stroke-width="1.0"/><line x1="368.0" y1="122.7" x2="374.8" y2="123.4" stroke="url(#gMG)" stroke-width="0.8"/><line x1="375.7" y1="122.4" x2="382.9" y2="123.2" stroke="url(#gMW)" stroke-width="1.0"/><line x1="375.7" y1="123.5" x2="382.9" y2="124.3" stroke="url(#gMG)" stroke-width="0.8"/><line x1="384.3" y1="123.4" x2="388.8" y2="123.9" stroke="url(#gMW)" stroke-width="1.0"/><line x1="384.3" y1="124.5" x2="388.8" y2="125.0" stroke="url(#gMG)" stroke-width="0.8"/><line x1="389.9" y1="124.0" x2="396.4" y2="124.7" stroke="url(#gMW)" stroke-width="1.0"/><line x1="389.9" y1="125.1" x2="396.4" y2="125.8" stroke="url(#gMG)" stroke-width="0.8"/><line x1="398.1" y1="124.9" x2="407.7" y2="125.9" stroke="url(#gMW)" stroke-width="1.0"/><line x1="398.1" y1="126.0" x2="407.7" y2="127.0" stroke="url(#gMG)" stroke-width="0.8"/><line x1="408.7" y1="126.1" x2="409.8" y2="126.2" stroke="url(#gMW)" stroke-width="1.0"/><line x1="408.7" y1="127.2" x2="409.8" y2="127.3" stroke="url(#gMG)" stroke-width="0.8"/><line x1="368.1" y1="124.5" x2="373.6" y2="125.1" stroke="url(#gMW)" stroke-width="1.0"/><line x1="368.1" y1="125.6" x2="373.6" y2="126.2" stroke="url(#gMG)" stroke-width="0.8"/><line x1="374.8" y1="125.3" x2="379.5" y2="125.8" stroke="url(#gMW)" stroke-width="1.0"/><line x1="374.8" y1="126.4" x2="379.5" y2="126.9" stroke="url(#gMG)" stroke-width="0.8"/><line x1="381.1" y1="126.0" x2="389.1" y2="126.9" stroke="url(#gMW)" stroke-width="1.0"/><line x1="381.1" y1="127.1" x2="389.1" y2="128.0" stroke="url(#gMG)" stroke-width="0.8"/><line x1="390.7" y1="127.1" x2="399.5" y2="128.2" stroke="url(#gMW)" stroke-width="1.0"/><line x1="390.7" y1="128.2" x2="399.5" y2="129.3" stroke="url(#gMG)" stroke-width="0.8"/><line x1="400.9" y1="128.3" x2="409.3" y2="129.3" stroke="url(#gMW)" stroke-width="1.0"/><line x1="400.9" y1="129.4" x2="409.3" y2="130.4" stroke="url(#gMG)" stroke-width="0.8"/><line x1="368.1" y1="127.4" x2="372.7" y2="128.0" stroke="url(#gMW)" stroke-width="1.0"/><line x1="368.1" y1="128.5" x2="372.7" y2="129.1" stroke="url(#gMG)" stroke-width="0.8"/><line x1="374.0" y1="128.1" x2="378.1" y2="128.6" stroke="url(#gMW)" stroke-width="1.0"/><line x1="374.0" y1="129.2" x2="378.1" y2="129.7" stroke="url(#gMG)" stroke-width="0.8"/><line x1="378.8" y1="128.7" x2="387.5" y2="129.8" stroke="url(#gMW)" stroke-width="1.0"/><line x1="378.8" y1="129.8" x2="387.5" y2="130.9" stroke="url(#gMG)" stroke-width="0.8"/><line x1="388.1" y1="129.9" x2="392.7" y2="130.4" stroke="url(#gMW)" stroke-width="1.0"/><line x1="388.1" y1="131.0" x2="392.7" y2="131.5" stroke="url(#gMG)" stroke-width="0.8"/><line x1="393.4" y1="130.5" x2="402.7" y2="131.7" stroke="url(#gMW)" stroke-width="1.0"/><line x1="393.4" y1="131.6" x2="402.7" y2="132.8" stroke="url(#gMG)" stroke-width="0.8"/><line x1="403.5" y1="131.8" x2="407.7" y2="132.3" stroke="url(#gMW)" stroke-width="1.0"/><line x1="403.5" y1="132.9" x2="407.7" y2="133.4" stroke="url(#gMG)" stroke-width="0.8"/><line x1="368.2" y1="130.3" x2="372.9" y2="130.9" stroke="url(#gMW)" stroke-width="1.0"/><line x1="368.2" y1="131.4" x2="372.9" y2="132.0" stroke="url(#gMG)" stroke-width="0.8"/><line x1="374.5" y1="131.1" x2="382.6" y2="132.2" stroke="url(#gMW)" stroke-width="1.0"/><line x1="374.5" y1="132.2" x2="382.6" y2="133.3" stroke="url(#gMG)" stroke-width="0.8"/><line x1="384.2" y1="132.4" x2="393.9" y2="133.6" stroke="url(#gMW)" stroke-width="1.0"/><line x1="384.2" y1="133.5" x2="393.9" y2="134.7" stroke="url(#gMG)" stroke-width="0.8"/><line x1="395.2" y1="133.8" x2="404.0" y2="134.9" stroke="url(#gMW)" stroke-width="1.0"/><line x1="395.2" y1="134.9" x2="404.0" y2="136.0" stroke="url(#gMG)" stroke-width="0.8"/><line x1="404.6" y1="135.0" x2="409.6" y2="135.7" stroke="url(#gMW)" stroke-width="1.0"/><line x1="404.6" y1="136.1" x2="409.6" y2="136.8" stroke="url(#gMG)" stroke-width="0.8"/><line x1="368.3" y1="133.2" x2="376.6" y2="134.3" stroke="url(#gMW)" stroke-width="1.0"/><line x1="368.3" y1="134.3" x2="376.6" y2="135.4" stroke="url(#gMG)" stroke-width="0.8"/><line x1="377.3" y1="134.4" x2="385.8" y2="135.6" stroke="url(#gMW)" stroke-width="1.0"/><line x1="377.3" y1="135.5" x2="385.8" y2="136.7" stroke="url(#gMG)" stroke-width="0.8"/><line x1="387.5" y1="135.8" x2="391.9" y2="136.4" stroke="url(#gMW)" stroke-width="1.0"/><line x1="387.5" y1="136.9" x2="391.9" y2="137.5" stroke="url(#gMG)" stroke-width="0.8"/><line x1="392.9" y1="136.6" x2="400.3" y2="137.6" stroke="url(#gMW)" stroke-width="1.0"/><line x1="392.9" y1="137.7" x2="400.3" y2="138.7" stroke="url(#gMG)" stroke-width="0.8"/><line x1="401.9" y1="137.8" x2="407.3" y2="138.5" stroke="url(#gMW)" stroke-width="1.0"/><line x1="401.9" y1="138.9" x2="407.3" y2="139.6" stroke="url(#gMG)" stroke-width="0.8"/><line x1="408.1" y1="138.6" x2="409.5" y2="138.8" stroke="url(#gMW)" stroke-width="1.0"/><line x1="408.1" y1="139.7" x2="409.5" y2="139.9" stroke="url(#gMG)" stroke-width="0.8"/><line x1="368.4" y1="136.1" x2="376.9" y2="137.3" stroke="url(#gMW)" stroke-width="1.0"/><line x1="368.4" y1="137.2" x2="376.9" y2="138.4" stroke="url(#gMG)" stroke-width="0.8"/><line x1="378.0" y1="137.5" x2="384.2" y2="138.4" stroke="url(#gMW)" stroke-width="1.0"/><line x1="378.0" y1="138.6" x2="384.2" y2="139.5" stroke="url(#gMG)" stroke-width="0.8"/><line x1="385.3" y1="138.5" x2="391.4" y2="139.4" stroke="url(#gMW)" stroke-width="1.0"/><line x1="385.3" y1="139.6" x2="391.4" y2="140.5" stroke="url(#gMG)" stroke-width="0.8"/><line x1="392.5" y1="139.5" x2="397.0" y2="140.2" stroke="url(#gMW)" stroke-width="1.0"/><line x1="392.5" y1="140.6" x2="397.0" y2="141.3" stroke="url(#gMG)" stroke-width="0.8"/><line x1="398.2" y1="140.4" x2="408.0" y2="141.8" stroke="url(#gMW)" stroke-width="1.0"/><line x1="398.2" y1="141.5" x2="408.0" y2="142.9" stroke="url(#gMG)" stroke-width="0.8"/><line x1="368.6" y1="139.0" x2="377.1" y2="140.3" stroke="url(#gMW)" stroke-width="1.0"/><line x1="368.6" y1="140.1" x2="377.1" y2="141.4" stroke="url(#gMG)" stroke-width="0.8"/><line x1="377.8" y1="140.4" x2="386.0" y2="141.6" stroke="url(#gMW)" stroke-width="1.0"/><line x1="377.8" y1="141.5" x2="386.0" y2="142.7" stroke="url(#gMG)" stroke-width="0.8"/><line x1="387.5" y1="141.8" x2="395.5" y2="143.0" stroke="url(#gMW)" stroke-width="1.0"/><line x1="387.5" y1="142.9" x2="395.5" y2="144.1" stroke="url(#gMG)" stroke-width="0.8"/><line x1="396.8" y1="143.2" x2="403.7" y2="144.3" stroke="url(#gMW)" stroke-width="1.0"/><line x1="396.8" y1="144.3" x2="403.7" y2="145.4" stroke="url(#gMG)" stroke-width="0.8"/><line x1="405.0" y1="144.5" x2="409.2" y2="145.1" stroke="url(#gMW)" stroke-width="1.0"/><line x1="405.0" y1="145.6" x2="409.2" y2="146.2" stroke="url(#gMG)" stroke-width="0.8"/><line x1="368.7" y1="141.9" x2="373.3" y2="142.6" stroke="url(#gMW)" stroke-width="1.0"/><line x1="368.7" y1="143.0" x2="373.3" y2="143.7" stroke="url(#gMG)" stroke-width="0.8"/><line x1="374.8" y1="142.9" x2="384.3" y2="144.3" stroke="url(#gMW)" stroke-width="1.0"/><line x1="374.8" y1="144.0" x2="384.3" y2="145.4" stroke="url(#gMG)" stroke-width="0.8"/><line x1="385.5" y1="144.5" x2="392.2" y2="145.6" stroke="url(#gMW)" stroke-width="1.0"/><line x1="385.5" y1="145.6" x2="392.2" y2="146.7" stroke="url(#gMG)" stroke-width="0.8"/><line x1="393.6" y1="145.8" x2="398.8" y2="146.6" stroke="url(#gMW)" stroke-width="1.0"/><line x1="393.6" y1="146.9" x2="398.8" y2="147.7" stroke="url(#gMG)" stroke-width="0.8"/><line x1="399.7" y1="146.7" x2="404.9" y2="147.6" stroke="url(#gMW)" stroke-width="1.0"/><line x1="399.7" y1="147.8" x2="404.9" y2="148.7" stroke="url(#gMG)" stroke-width="0.8"/><line x1="406.2" y1="147.8" x2="409.1" y2="148.2" stroke="url(#gMW)" stroke-width="1.0"/><line x1="406.2" y1="148.9" x2="409.1" y2="149.3" stroke="url(#gMG)" stroke-width="0.8"/><line x1="368.9" y1="144.8" x2="377.1" y2="146.1" stroke="url(#gMW)" stroke-width="1.0"/><line x1="368.9" y1="145.9" x2="377.1" y2="147.2" stroke="url(#gMG)" stroke-width="0.8"/><line x1="378.8" y1="146.4" x2="384.6" y2="147.4" stroke="url(#gMW)" stroke-width="1.0"/><line x1="378.8" y1="147.5" x2="384.6" y2="148.5" stroke="url(#gMG)" stroke-width="0.8"/><line x1="386.0" y1="147.6" x2="392.5" y2="148.7" stroke="url(#gMW)" stroke-width="1.0"/><line x1="386.0" y1="148.7" x2="392.5" y2="149.8" stroke="url(#gMG)" stroke-width="0.8"/><line x1="394.1" y1="148.9" x2="401.6" y2="150.1" stroke="url(#gMW)" stroke-width="1.0"/><line x1="394.1" y1="150.0" x2="401.6" y2="151.2" stroke="url(#gMG)" stroke-width="0.8"/><line x1="402.6" y1="150.3" x2="407.9" y2="151.2" stroke="url(#gMW)" stroke-width="1.0"/><line x1="402.6" y1="151.4" x2="407.9" y2="152.3" stroke="url(#gMG)" stroke-width="0.8"/><line x1="369.1" y1="147.7" x2="376.0" y2="148.9" stroke="url(#gMW)" stroke-width="1.0"/><line x1="369.1" y1="148.8" x2="376.0" y2="150.0" stroke="url(#gMG)" stroke-width="0.8"/><line x1="377.1" y1="149.0" x2="382.1" y2="149.9" stroke="url(#gMW)" stroke-width="1.0"/><line x1="377.1" y1="150.1" x2="382.1" y2="151.0" stroke="url(#gMG)" stroke-width="0.8"/><line x1="383.1" y1="150.1" x2="389.1" y2="151.1" stroke="url(#gMW)" stroke-width="1.0"/><line x1="383.1" y1="151.2" x2="389.1" y2="152.2" stroke="url(#gMG)" stroke-width="0.8"/><line x1="390.6" y1="151.3" x2="395.5" y2="152.2" stroke="url(#gMW)" stroke-width="1.0"/><line x1="390.6" y1="152.4" x2="395.5" y2="153.3" stroke="url(#gMG)" stroke-width="0.8"/><line x1="397.2" y1="152.5" x2="404.1" y2="153.6" stroke="url(#gMW)" stroke-width="1.0"/><line x1="397.2" y1="153.6" x2="404.1" y2="154.7" stroke="url(#gMG)" stroke-width="0.8"/><line x1="405.4" y1="153.9" x2="408.7" y2="154.4" stroke="url(#gMW)" stroke-width="1.0"/><line x1="405.4" y1="155.0" x2="408.7" y2="155.5" stroke="url(#gMG)" stroke-width="0.8"/><line x1="369.4" y1="150.6" x2="378.3" y2="152.2" stroke="url(#gMW)" stroke-width="1.0"/><line x1="369.4" y1="151.7" x2="378.3" y2="153.3" stroke="url(#gMG)" stroke-width="0.8"/><line x1="379.6" y1="152.4" x2="386.5" y2="153.6" stroke="url(#gMW)" stroke-width="1.0"/><line x1="379.6" y1="153.5" x2="386.5" y2="154.7" stroke="url(#gMG)" stroke-width="0.8"/><line x1="387.9" y1="153.9" x2="397.1" y2="155.5" stroke="url(#gMW)" stroke-width="1.0"/><line x1="387.9" y1="155.0" x2="397.1" y2="156.6" stroke="url(#gMG)" stroke-width="0.8"/><line x1="398.1" y1="155.7" x2="406.5" y2="157.2" stroke="url(#gMW)" stroke-width="1.0"/><line x1="398.1" y1="156.8" x2="406.5" y2="158.3" stroke="url(#gMG)" stroke-width="0.8"/><line x1="369.6" y1="153.5" x2="376.4" y2="154.7" stroke="url(#gMW)" stroke-width="1.0"/><line x1="369.6" y1="154.6" x2="376.4" y2="155.8" stroke="url(#gMG)" stroke-width="0.8"/><line x1="377.3" y1="154.9" x2="382.7" y2="155.9" stroke="url(#gMW)" stroke-width="1.0"/><line x1="377.3" y1="156.0" x2="382.7" y2="157.0" stroke="url(#gMG)" stroke-width="0.8"/><line x1="384.2" y1="156.2" x2="392.2" y2="157.6" stroke="url(#gMW)" stroke-width="1.0"/><line x1="384.2" y1="157.3" x2="392.2" y2="158.7" stroke="url(#gMG)" stroke-width="0.8"/><line x1="394.0" y1="158.0" x2="403.1" y2="159.6" stroke="url(#gMW)" stroke-width="1.0"/><line x1="394.0" y1="159.1" x2="403.1" y2="160.7" stroke="url(#gMG)" stroke-width="0.8"/><line x1="404.0" y1="159.8" x2="408.2" y2="160.6" stroke="url(#gMW)" stroke-width="1.0"/><line x1="404.0" y1="160.9" x2="408.2" y2="161.7" stroke="url(#gMG)" stroke-width="0.8"/><line x1="369.9" y1="156.4" x2="375.0" y2="157.4" stroke="url(#gMW)" stroke-width="1.0"/><line x1="369.9" y1="157.5" x2="375.0" y2="158.5" stroke="url(#gMG)" stroke-width="0.8"/><line x1="376.5" y1="157.6" x2="385.6" y2="159.4" stroke="url(#gMW)" stroke-width="1.0"/><line x1="376.5" y1="158.7" x2="385.6" y2="160.5" stroke="url(#gMG)" stroke-width="0.8"/><line x1="387.3" y1="159.7" x2="392.8" y2="160.8" stroke="url(#gMW)" stroke-width="1.0"/><line x1="387.3" y1="160.8" x2="392.8" y2="161.9" stroke="url(#gMG)" stroke-width="0.8"/><line x1="394.5" y1="161.1" x2="400.4" y2="162.2" stroke="url(#gMW)" stroke-width="1.0"/><line x1="394.5" y1="162.2" x2="400.4" y2="163.3" stroke="url(#gMG)" stroke-width="0.8"/><line x1="401.5" y1="162.4" x2="407.9" y2="163.6" stroke="url(#gMW)" stroke-width="1.0"/><line x1="401.5" y1="163.5" x2="407.9" y2="164.7" stroke="url(#gMG)" stroke-width="0.8"/><line x1="370.2" y1="159.3" x2="374.8" y2="160.2" stroke="url(#gMW)" stroke-width="1.0"/><line x1="370.2" y1="160.4" x2="374.8" y2="161.3" stroke="url(#gMG)" stroke-width="0.8"/><line x1="376.4" y1="160.5" x2="382.1" y2="161.6" stroke="url(#gMW)" stroke-width="1.0"/><line x1="376.4" y1="161.6" x2="382.1" y2="162.7" stroke="url(#gMG)" stroke-width="0.8"/><line x1="383.2" y1="161.8" x2="390.6" y2="163.3" stroke="url(#gMW)" stroke-width="1.0"/><line x1="383.2" y1="162.9" x2="390.6" y2="164.4" stroke="url(#gMG)" stroke-width="0.8"/><line x1="392.1" y1="163.6" x2="396.1" y2="164.4" stroke="url(#gMW)" stroke-width="1.0"/><line x1="392.1" y1="164.7" x2="396.1" y2="165.5" stroke="url(#gMG)" stroke-width="0.8"/><line x1="397.1" y1="164.6" x2="403.7" y2="165.9" stroke="url(#gMW)" stroke-width="1.0"/><line x1="397.1" y1="165.7" x2="403.7" y2="167.0" stroke="url(#gMG)" stroke-width="0.8"/><line x1="404.9" y1="166.1" x2="407.6" y2="166.7" stroke="url(#gMW)" stroke-width="1.0"/><line x1="404.9" y1="167.2" x2="407.6" y2="167.8" stroke="url(#gMG)" stroke-width="0.8"/><line x1="370.6" y1="162.2" x2="380.3" y2="164.2" stroke="url(#gMW)" stroke-width="1.0"/><line x1="370.6" y1="163.3" x2="380.3" y2="165.3" stroke="url(#gMG)" stroke-width="0.8"/><line x1="381.4" y1="164.4" x2="388.6" y2="165.9" stroke="url(#gMW)" stroke-width="1.0"/><line x1="381.4" y1="165.5" x2="388.6" y2="167.0" stroke="url(#gMG)" stroke-width="0.8"/><line x1="389.4" y1="166.0" x2="395.0" y2="167.2" stroke="url(#gMW)" stroke-width="1.0"/><line x1="389.4" y1="167.1" x2="395.0" y2="168.3" stroke="url(#gMG)" stroke-width="0.8"/><line x1="396.4" y1="167.5" x2="401.1" y2="168.4" stroke="url(#gMW)" stroke-width="1.0"/><line x1="396.4" y1="168.6" x2="401.1" y2="169.5" stroke="url(#gMG)" stroke-width="0.8"/><line x1="402.8" y1="168.8" x2="407.2" y2="169.7" stroke="url(#gMW)" stroke-width="1.0"/><line x1="402.8" y1="169.9" x2="407.2" y2="170.8" stroke="url(#gMG)" stroke-width="0.8"/><line x1="370.9" y1="165.1" x2="380.6" y2="167.1" stroke="url(#gMW)" stroke-width="1.0"/><line x1="370.9" y1="166.2" x2="380.6" y2="168.2" stroke="url(#gMG)" stroke-width="0.8"/><line x1="381.6" y1="167.3" x2="390.3" y2="169.2" stroke="url(#gMW)" stroke-width="1.0"/><line x1="381.6" y1="168.4" x2="390.3" y2="170.3" stroke="url(#gMG)" stroke-width="0.8"/><line x1="391.8" y1="169.5" x2="397.5" y2="170.7" stroke="url(#gMW)" stroke-width="1.0"/><line x1="391.8" y1="170.6" x2="397.5" y2="171.8" stroke="url(#gMG)" stroke-width="0.8"/><line x1="399.0" y1="171.0" x2="406.9" y2="172.7" stroke="url(#gMW)" stroke-width="1.0"/><line x1="399.0" y1="172.1" x2="406.9" y2="173.8" stroke="url(#gMG)" stroke-width="0.8"/><line x1="371.3" y1="168.0" x2="376.9" y2="169.2" stroke="url(#gMW)" stroke-width="1.0"/><line x1="371.3" y1="169.1" x2="376.9" y2="170.3" stroke="url(#gMG)" stroke-width="0.8"/><line x1="378.4" y1="169.5" x2="388.2" y2="171.7" stroke="url(#gMW)" stroke-width="1.0"/><line x1="378.4" y1="170.6" x2="388.2" y2="172.8" stroke="url(#gMG)" stroke-width="0.8"/><line x1="389.6" y1="172.0" x2="396.8" y2="173.5" stroke="url(#gMW)" stroke-width="1.0"/><line x1="389.6" y1="173.1" x2="396.8" y2="174.6" stroke="url(#gMG)" stroke-width="0.8"/><line x1="397.6" y1="173.7" x2="404.5" y2="175.2" stroke="url(#gMW)" stroke-width="1.0"/><line x1="397.6" y1="174.8" x2="404.5" y2="176.3" stroke="url(#gMG)" stroke-width="0.8"/><line x1="371.8" y1="170.9" x2="380.1" y2="172.8" stroke="url(#gMW)" stroke-width="1.0"/><line x1="371.8" y1="172.0" x2="380.1" y2="173.9" stroke="url(#gMG)" stroke-width="0.8"/><line x1="381.5" y1="173.1" x2="388.9" y2="174.7" stroke="url(#gMW)" stroke-width="1.0"/><line x1="381.5" y1="174.2" x2="388.9" y2="175.8" stroke="url(#gMG)" stroke-width="0.8"/><line x1="389.7" y1="174.9" x2="397.6" y2="176.7" stroke="url(#gMW)" stroke-width="1.0"/><line x1="389.7" y1="176.0" x2="397.6" y2="177.8" stroke="url(#gMG)" stroke-width="0.8"/><line x1="398.9" y1="177.0" x2="404.0" y2="178.1" stroke="url(#gMW)" stroke-width="1.0"/><line x1="398.9" y1="178.1" x2="404.0" y2="179.2" stroke="url(#gMG)" stroke-width="0.8"/><line x1="372.2" y1="173.8" x2="380.2" y2="175.6" stroke="url(#gMW)" stroke-width="1.0"/><line x1="372.2" y1="174.9" x2="380.2" y2="176.7" stroke="url(#gMG)" stroke-width="0.8"/><line x1="380.9" y1="175.8" x2="390.5" y2="178.0" stroke="url(#gMW)" stroke-width="1.0"/><line x1="380.9" y1="176.9" x2="390.5" y2="179.1" stroke="url(#gMG)" stroke-width="0.8"/><line x1="391.3" y1="178.2" x2="397.3" y2="179.6" stroke="url(#gMW)" stroke-width="1.0"/><line x1="391.3" y1="179.3" x2="397.3" y2="180.7" stroke="url(#gMG)" stroke-width="0.8"/><line x1="398.7" y1="179.9" x2="405.6" y2="181.5" stroke="url(#gMW)" stroke-width="1.0"/><line x1="398.7" y1="181.0" x2="405.6" y2="182.6" stroke="url(#gMG)" stroke-width="0.8"/><line x1="372.8" y1="176.7" x2="380.6" y2="178.6" stroke="url(#gMW)" stroke-width="1.0"/><line x1="372.8" y1="177.8" x2="380.6" y2="179.7" stroke="url(#gMG)" stroke-width="0.8"/><line x1="381.8" y1="178.8" x2="387.7" y2="180.2" stroke="url(#gMW)" stroke-width="1.0"/><line x1="381.8" y1="179.9" x2="387.7" y2="181.3" stroke="url(#gMG)" stroke-width="0.8"/><line x1="388.5" y1="180.4" x2="392.9" y2="181.5" stroke="url(#gMW)" stroke-width="1.0"/><line x1="388.5" y1="181.5" x2="392.9" y2="182.6" stroke="url(#gMG)" stroke-width="0.8"/><line x1="394.3" y1="181.8" x2="402.9" y2="183.8" stroke="url(#gMW)" stroke-width="1.0"/><line x1="394.3" y1="182.9" x2="402.9" y2="184.9" stroke="url(#gMG)" stroke-width="0.8"/><line x1="373.3" y1="179.6" x2="381.7" y2="181.7" stroke="url(#gMW)" stroke-width="1.0"/><line x1="373.3" y1="180.7" x2="381.7" y2="182.8" stroke="url(#gMG)" stroke-width="0.8"/><line x1="382.8" y1="181.9" x2="388.4" y2="183.3" stroke="url(#gMW)" stroke-width="1.0"/><line x1="382.8" y1="183.0" x2="388.4" y2="184.4" stroke="url(#gMG)" stroke-width="0.8"/><line x1="389.4" y1="183.5" x2="398.7" y2="185.8" stroke="url(#gMW)" stroke-width="1.0"/><line x1="389.4" y1="184.6" x2="398.7" y2="186.9" stroke="url(#gMG)" stroke-width="0.8"/><line x1="399.3" y1="185.9" x2="404.5" y2="187.2" stroke="url(#gMW)" stroke-width="1.0"/><line x1="399.3" y1="187.0" x2="404.5" y2="188.3" stroke="url(#gMG)" stroke-width="0.8"/><line x1="373.9" y1="182.5" x2="382.5" y2="184.7" stroke="url(#gMW)" stroke-width="1.0"/><line x1="373.9" y1="183.6" x2="382.5" y2="185.8" stroke="url(#gMG)" stroke-width="0.8"/><line x1="383.5" y1="184.9" x2="389.5" y2="186.4" stroke="url(#gMW)" stroke-width="1.0"/><line x1="383.5" y1="186.0" x2="389.5" y2="187.5" stroke="url(#gMG)" stroke-width="0.8"/><line x1="390.6" y1="186.7" x2="397.9" y2="188.5" stroke="url(#gMW)" stroke-width="1.0"/><line x1="390.6" y1="187.8" x2="397.9" y2="189.6" stroke="url(#gMG)" stroke-width="0.8"/><line x1="399.4" y1="188.9" x2="403.9" y2="190.0" stroke="url(#gMW)" stroke-width="1.0"/><line x1="399.4" y1="190.0" x2="403.9" y2="191.1" stroke="url(#gMG)" stroke-width="0.8"/><line x1="374.6" y1="185.4" x2="379.2" y2="186.6" stroke="url(#gMW)" stroke-width="1.0"/><line x1="374.6" y1="186.5" x2="379.2" y2="187.7" stroke="url(#gMG)" stroke-width="0.8"/><line x1="380.2" y1="186.8" x2="384.7" y2="188.0" stroke="url(#gMW)" stroke-width="1.0"/><line x1="380.2" y1="187.9" x2="384.7" y2="189.1" stroke="url(#gMG)" stroke-width="0.8"/><line x1="385.5" y1="188.2" x2="394.2" y2="190.4" stroke="url(#gMW)" stroke-width="1.0"/><line x1="385.5" y1="189.3" x2="394.2" y2="191.5" stroke="url(#gMG)" stroke-width="0.8"/><line x1="395.6" y1="190.8" x2="400.7" y2="192.1" stroke="url(#gMW)" stroke-width="1.0"/><line x1="395.6" y1="191.9" x2="400.7" y2="193.2" stroke="url(#gMG)" stroke-width="0.8"/><line x1="401.6" y1="192.3" x2="403.2" y2="192.8" stroke="url(#gMW)" stroke-width="1.0"/><line x1="401.6" y1="193.4" x2="403.2" y2="193.9" stroke="url(#gMG)" stroke-width="0.8"/><line x1="375.3" y1="188.3" x2="384.2" y2="190.6" stroke="url(#gMW)" stroke-width="1.0"/><line x1="375.3" y1="189.4" x2="384.2" y2="191.7" stroke="url(#gMG)" stroke-width="0.8"/><line x1="385.7" y1="191.0" x2="393.2" y2="193.0" stroke="url(#gMW)" stroke-width="1.0"/><line x1="385.7" y1="192.1" x2="393.2" y2="194.1" stroke="url(#gMG)" stroke-width="0.8"/><line x1="394.0" y1="193.2" x2="400.4" y2="194.9" stroke="url(#gMW)" stroke-width="1.0"/><line x1="394.0" y1="194.3" x2="400.4" y2="196.0" stroke="url(#gMG)" stroke-width="0.8"/><line x1="401.2" y1="195.1" x2="402.5" y2="195.5" stroke="url(#gMW)" stroke-width="1.0"/><line x1="401.2" y1="196.2" x2="402.5" y2="196.6" stroke="url(#gMG)" stroke-width="0.8"/><line x1="376.0" y1="191.2" x2="381.3" y2="192.6" stroke="url(#gMW)" stroke-width="1.0"/><line x1="376.0" y1="192.3" x2="381.3" y2="193.7" stroke="url(#gMG)" stroke-width="0.8"/><line x1="382.2" y1="192.9" x2="390.8" y2="195.2" stroke="url(#gMW)" stroke-width="1.0"/><line x1="382.2" y1="194.0" x2="390.8" y2="196.3" stroke="url(#gMG)" stroke-width="0.8"/><line x1="391.5" y1="195.4" x2="400.3" y2="197.8" stroke="url(#gMW)" stroke-width="1.0"/><line x1="391.5" y1="196.5" x2="400.3" y2="198.9" stroke="url(#gMG)" stroke-width="0.8"/><line x1="376.9" y1="194.1" x2="386.6" y2="196.8" stroke="url(#gMW)" stroke-width="1.0"/><line x1="376.9" y1="195.2" x2="386.6" y2="197.9" stroke="url(#gMG)" stroke-width="0.8"/><line x1="387.7" y1="197.1" x2="395.0" y2="199.1" stroke="url(#gMW)" stroke-width="1.0"/><line x1="387.7" y1="198.2" x2="395.0" y2="200.2" stroke="url(#gMG)" stroke-width="0.8"/><line x1="396.3" y1="199.5" x2="400.9" y2="200.8" stroke="url(#gMW)" stroke-width="1.0"/><line x1="396.3" y1="200.6" x2="400.9" y2="201.9" stroke="url(#gMG)" stroke-width="0.8"/><line x1="377.9" y1="197.0" x2="386.0" y2="199.3" stroke="url(#gMW)" stroke-width="1.0"/><line x1="377.9" y1="198.1" x2="386.0" y2="200.4" stroke="url(#gMG)" stroke-width="0.8"/><line x1="386.9" y1="199.6" x2="396.1" y2="202.2" stroke="url(#gMW)" stroke-width="1.0"/><line x1="386.9" y1="200.7" x2="396.1" y2="203.3" stroke="url(#gMG)" stroke-width="0.8"/><line x1="397.3" y1="202.5" x2="399.9" y2="203.3" stroke="url(#gMW)" stroke-width="1.0"/><line x1="397.3" y1="203.6" x2="399.9" y2="204.4" stroke="url(#gMG)" stroke-width="0.8"/><line x1="379.0" y1="199.9" x2="383.0" y2="201.1" stroke="url(#gMW)" stroke-width="1.0"/><line x1="379.0" y1="201.0" x2="383.0" y2="202.2" stroke="url(#gMG)" stroke-width="0.8"/><line x1="384.5" y1="201.5" x2="392.5" y2="203.8" stroke="url(#gMW)" stroke-width="1.0"/><line x1="384.5" y1="202.6" x2="392.5" y2="204.9" stroke="url(#gMG)" stroke-width="0.8"/><line x1="393.7" y1="204.2" x2="398.8" y2="205.7" stroke="url(#gMW)" stroke-width="1.0"/><line x1="393.7" y1="205.3" x2="398.8" y2="206.8" stroke="url(#gMG)" stroke-width="0.8"/><line x1="380.2" y1="202.8" x2="385.4" y2="204.3" stroke="url(#gMW)" stroke-width="1.0"/><line x1="380.2" y1="203.9" x2="385.4" y2="205.4" stroke="url(#gMG)" stroke-width="0.8"/><line x1="386.6" y1="204.7" x2="390.8" y2="206.0" stroke="url(#gMW)" stroke-width="1.0"/><line x1="386.6" y1="205.8" x2="390.8" y2="207.1" stroke="url(#gMG)" stroke-width="0.8"/><line x1="392.0" y1="206.3" x2="397.6" y2="208.0" stroke="url(#gMW)" stroke-width="1.0"/><line x1="392.0" y1="207.4" x2="397.6" y2="209.1" stroke="url(#gMG)" stroke-width="0.8"/><line x1="381.7" y1="205.7" x2="389.1" y2="208.0" stroke="url(#gMW)" stroke-width="1.0"/><line x1="381.7" y1="206.8" x2="389.1" y2="209.1" stroke="url(#gMG)" stroke-width="0.8"/><line x1="390.8" y1="208.5" x2="396.1" y2="210.1" stroke="url(#gMW)" stroke-width="1.0"/><line x1="390.8" y1="209.6" x2="396.1" y2="211.2" stroke="url(#gMG)" stroke-width="0.8"/><line x1="383.6" y1="208.6" x2="392.4" y2="211.3" stroke="url(#gMW)" stroke-width="1.0"/><line x1="383.6" y1="209.7" x2="392.4" y2="212.4" stroke="url(#gMG)" stroke-width="0.8"/></g>
</g>
<circle cx="552.6" cy="112.5" r="92" fill="#fff" stroke="#000" stroke-width="1"/>
<circle cx="552.6" cy="112.5" r="89.8" fill="none" stroke="#000" stroke-width="1"/>
<path d="M633.3,71.6 L625.0,78.8 L618.3,84.5 L612.9,89.2 L608.3,93.1 L604.4,96.3 L601.1,99.1 L598.1,101.6 L595.5,103.7 L593.1,105.6 L591.0,107.3 L589.1,108.8 L587.3,110.1 L585.7,111.4 L584.2,112.5 L582.7,113.5 L581.4,114.4 L580.2,115.2 L579.0,116.0 L577.9,116.7 L576.8,117.4 L575.8,118.0 L574.8,118.6 L573.9,119.1 L573.0,119.5 L572.1,120.0 L571.3,120.4 L570.4,120.8 L569.7,121.1 L568.9,121.4 L568.2,121.7 L567.5,122.0 L566.8,122.2 L566.1,122.4 L565.4,122.6 L564.8,122.8 L564.2,123.0 L563.6,123.1 L563.0,123.2 L562.4,123.3 L561.8,123.4 L561.3,123.5 L560.7,123.5 L560.2,123.6 L559.7,123.6 L559.2,123.6 L558.7,123.6 L558.2,123.6 L557.8,123.6 L557.3,123.6 L556.8,123.5 L562.8,120.8" fill="none" stroke="#000" stroke-width="1.5" stroke-dasharray="4.4,2.6" stroke-linejoin="round"/>
<path d="M568.9,23.5 L569.6,34.5 L570.2,43.3 L570.6,50.4 L570.9,56.4 L571.2,61.5 L571.3,65.9 L571.5,69.7 L571.6,73.1 L571.7,76.1 L571.7,78.8 L571.8,81.2 L571.8,83.4 L571.7,85.5 L571.7,87.4 L571.6,89.1 L571.6,90.7 L571.5,92.2 L571.4,93.6 L571.3,95.0 L571.1,96.2 L571.0,97.4 L570.9,98.5 L570.7,99.6 L570.5,100.6 L570.4,101.5 L570.2,102.4 L570.0,103.3 L569.8,104.1 L569.6,104.9 L569.4,105.7 L569.1,106.4 L568.9,107.1 L568.7,107.8 L568.4,108.4 L568.2,109.0 L567.9,109.6 L567.7,110.2 L567.4,110.7 L567.1,111.3 L566.9,111.8 L566.6,112.2 L566.3,112.7 L566.0,113.2 L565.7,113.6 L565.4,114.0 L565.1,114.4 L564.8,114.8 L564.5,115.1 L564.2,115.5 L563.9,115.8 L565.4,109.5" fill="none" stroke="#000" stroke-width="1.5" stroke-dasharray="4.4,2.6" stroke-linejoin="round"/>
<path d="M489.8,47.3 L499.2,53.1 L506.6,57.8 L512.7,61.7 L517.7,64.9 L522.0,67.7 L525.7,70.1 L528.9,72.2 L531.7,74.1 L534.1,75.7 L536.4,77.3 L538.4,78.7 L540.2,80.0 L541.8,81.2 L543.3,82.3 L544.7,83.4 L546.0,84.4 L547.2,85.3 L548.2,86.2 L549.3,87.1 L550.2,87.9 L551.1,88.7 L551.9,89.5 L552.7,90.3 L553.4,91.0 L554.1,91.7 L554.7,92.4 L555.3,93.0 L555.8,93.7 L556.4,94.3 L556.8,94.9 L557.3,95.5 L557.7,96.1 L558.1,96.7 L558.5,97.3 L558.9,97.8 L559.2,98.4 L559.5,98.9 L559.8,99.4 L560.1,100.0 L560.3,100.5 L560.6,101.0 L560.8,101.5 L561.0,102.0 L561.1,102.5 L561.3,102.9 L561.4,103.4 L561.6,103.9 L561.7,104.3 L561.8,104.8 L561.9,105.2 L557.6,100.3" fill="none" stroke="#000" stroke-width="1.5" stroke-dasharray="4.4,2.6" stroke-linejoin="round"/>
<path d="M462.1,113.0 L472.8,110.2 L481.3,108.1 L488.3,106.4 L494.1,104.9 L499.0,103.7 L503.3,102.7 L507.0,101.9 L510.3,101.1 L513.3,100.5 L515.9,100.0 L518.3,99.5 L520.5,99.1 L522.5,98.7 L524.4,98.4 L526.1,98.1 L527.7,97.9 L529.2,97.7 L530.6,97.5 L531.9,97.4 L533.2,97.3 L534.3,97.2 L535.5,97.2 L536.5,97.1 L537.6,97.1 L538.5,97.1 L539.5,97.1 L540.3,97.1 L541.2,97.2 L542.0,97.2 L542.8,97.3 L543.5,97.4 L544.3,97.5 L545.0,97.6 L545.7,97.7 L546.3,97.8 L546.9,98.0 L547.5,98.1 L548.1,98.3 L548.7,98.4 L549.2,98.6 L549.8,98.8 L550.3,99.0 L550.8,99.2 L551.2,99.4 L551.7,99.6 L552.1,99.8 L552.5,100.1 L553.0,100.3 L553.4,100.5 L553.7,100.8 L547.2,100.5" fill="none" stroke="#000" stroke-width="1.5" stroke-dasharray="4.4,2.6" stroke-linejoin="round"/>
<path d="M498.0,184.7 L502.3,174.5 L505.8,166.5 L508.6,159.9 L511.0,154.4 L513.1,149.7 L514.9,145.7 L516.5,142.3 L517.9,139.2 L519.2,136.5 L520.4,134.0 L521.4,131.8 L522.4,129.9 L523.4,128.0 L524.3,126.4 L525.1,124.8 L525.9,123.4 L526.6,122.1 L527.4,120.9 L528.0,119.8 L528.7,118.7 L529.4,117.7 L530.0,116.8 L530.6,115.9 L531.2,115.1 L531.8,114.3 L532.4,113.6 L532.9,112.9 L533.5,112.2 L534.0,111.6 L534.6,111.1 L535.1,110.5 L535.6,110.0 L536.1,109.5 L536.6,109.0 L537.1,108.6 L537.6,108.2 L538.1,107.8 L538.6,107.4 L539.1,107.1 L539.5,106.7 L540.0,106.4 L540.4,106.2 L540.9,105.9 L541.4,105.6 L541.8,105.4 L542.2,105.2 L542.7,105.0 L543.1,104.8 L543.5,104.6 L544.0,104.5 L539.8,109.5" fill="none" stroke="#000" stroke-width="1.5" stroke-dasharray="4.4,2.6" stroke-linejoin="round"/>
<path d="M578.9,199.1 L573.2,189.6 L568.8,182.1 L565.1,175.9 L562.1,170.7 L559.5,166.3 L557.3,162.5 L555.4,159.2 L553.8,156.3 L552.4,153.6 L551.1,151.2 L549.9,149.1 L548.9,147.1 L548.0,145.3 L547.2,143.6 L546.4,142.0 L545.7,140.5 L545.1,139.2 L544.6,137.9 L544.1,136.6 L543.6,135.5 L543.2,134.4 L542.8,133.3 L542.4,132.3 L542.1,131.3 L541.8,130.4 L541.6,129.5 L541.4,128.6 L541.2,127.8 L541.0,127.0 L540.8,126.2 L540.7,125.5 L540.6,124.8 L540.5,124.1 L540.4,123.4 L540.3,122.7 L540.3,122.1 L540.3,121.5 L540.3,120.9 L540.2,120.3 L540.3,119.7 L540.3,119.1 L540.3,118.6 L540.4,118.1 L540.4,117.6 L540.5,117.1 L540.6,116.6 L540.7,116.1 L540.8,115.6 L540.9,115.2 L541.0,114.8 L542.6,121.1" fill="none" stroke="#000" stroke-width="1.5" stroke-dasharray="4.4,2.6" stroke-linejoin="round"/>
<path d="M637.7,143.3 L626.7,142.2 L618.0,141.3 L610.9,140.5 L604.9,139.8 L599.9,139.2 L595.5,138.7 L591.7,138.2 L588.4,137.8 L585.4,137.3 L582.7,136.9 L580.3,136.6 L578.1,136.2 L576.1,135.8 L574.2,135.5 L572.5,135.1 L570.9,134.8 L569.5,134.5 L568.1,134.1 L566.8,133.8 L565.6,133.5 L564.5,133.1 L563.4,132.8 L562.4,132.5 L561.4,132.2 L560.5,131.8 L559.6,131.5 L558.8,131.2 L558.0,130.8 L557.3,130.5 L556.6,130.2 L555.9,129.8 L555.2,129.5 L554.6,129.1 L554.0,128.8 L553.4,128.4 L552.9,128.1 L552.4,127.7 L551.9,127.4 L551.4,127.0 L551.0,126.7 L550.5,126.3 L550.1,126.0 L549.7,125.6 L549.4,125.3 L549.0,124.9 L548.7,124.6 L548.4,124.2 L548.0,123.8 L547.8,123.5 L547.5,123.1 L553.5,125.6" fill="none" stroke="#000" stroke-width="1.5" stroke-dasharray="4.4,2.6" stroke-linejoin="round"/>
<path d="M0,-25.6 A25.6,25.6 0 0,1 25.6,0 A25.6,25.6 0 0,1 0,25.6 A12.8,12.8 0 0,1 0,0 A12.8,12.8 0 0,0 0,-25.6 Z" fill="#e8423c" transform="translate(602.1,113.4) rotate(33.9)"/>
<path d="M0,-25 A25,25 0 0,1 25,0 A25,25 0 0,1 0,25 A12.5,12.5 0 0,1 0,0 A12.5,12.5 0 0,0 0,-25 Z" fill="#c0550f" transform="translate(584.7,76.3) rotate(-20.3)"/>
<path d="M0,-26 A26,26 0 0,1 26,0 A26,26 0 0,1 0,26 A13.0,13.0 0 0,1 0,0 A13.0,13.0 0 0,0 0,-26 Z" fill="#dc9c00" transform="translate(544.5,68.5) rotate(-74.4)"/>
<path d="M0,-26.4 A26.4,26.4 0 0,1 26.4,0 A26.4,26.4 0 0,1 0,26.4 A13.2,13.2 0 0,1 0,0 A13.2,13.2 0 0,0 0,-26.4 Z" fill="#438c26" transform="translate(508.2,89.9) rotate(-116.7)"/>
<path d="M0,-26 A26,26 0 0,1 26,0 A26,26 0 0,1 0,26 A13.0,13.0 0 0,1 0,0 A13.0,13.0 0 0,0 0,-26 Z" fill="#2e70ae" transform="translate(507.1,132.8) rotate(-173.3)"/>
<path d="M0,-25.2 A25.2,25.2 0 0,1 25.2,0 A25.2,25.2 0 0,1 0,25.2 A12.6,12.6 0 0,1 0,0 A12.6,12.6 0 0,0 0,-25.2 Z" fill="#7030a0" transform="translate(542.5,158.3) rotate(131.4)"/>
<path d="M0,-25 A25,25 0 0,1 25,0 A25,25 0 0,1 0,25 A12.5,12.5 0 0,1 0,0 A12.5,12.5 0 0,0 0,-25 Z" fill="#bb79b3" transform="translate(580.8,150.4) rotate(81.8)"/>
<g fill="#000" stroke="none"><path d="M591.59,121.85 L600.41,126.55" stroke="#000" stroke-width="1.4"/><path d="M603.95,128.43 L599.48,128.31 L601.35,124.78 Z"/><path d="M588.05,119.97 L590.65,123.62 L592.52,120.09 Z"/></g>
<g transform="rotate(12 588.8 88)"><ellipse cx="588.8" cy="88" rx="7" ry="3.8" fill="none" stroke="#000" stroke-width="1.4"/><path d="M590.80,84.20 l-3.6,-2.2 l0,4.4 z" fill="#000"/></g>
<g transform="rotate(8 555 70.6)"><ellipse cx="555" cy="70.6" rx="6.5" ry="4.5" fill="none" stroke="#000" stroke-width="1.4"/><path d="M557.00,66.10 l-3.6,-2.2 l0,4.4 z" fill="#000"/></g>
<g transform="rotate(0 518.9 84.3)"><ellipse cx="518.9" cy="84.3" rx="6" ry="6" fill="none" stroke="#000" stroke-width="1.4"/><path d="M520.90,78.30 l-3.6,-2.2 l0,4.4 z" fill="#000"/></g>
<g transform="rotate(10 511 122)"><ellipse cx="511" cy="122" rx="5.3" ry="7" fill="none" stroke="#000" stroke-width="1.4"/><path d="M516.30,123.50 l-2.2,-3.6 l4.4,0 z" fill="#000"/></g>
<g transform="rotate(10 533 150.1)"><ellipse cx="533" cy="150.1" rx="3.6" ry="7.5" fill="none" stroke="#000" stroke-width="1.4"/><path d="M536.60,151.60 l-2.2,-3.6 l4.4,0 z" fill="#000"/></g>
<g fill="#000" stroke="none"><path d="M568.00,153.50 L571.60,147.50" stroke="#000" stroke-width="1.4"/><path d="M573.66,144.07 L573.32,148.53 L569.89,146.47 Z"/><path d="M565.94,156.93 L569.71,154.53 L566.28,152.47 Z"/></g>
<path d="M643.6,109.3 L639.6,117.8 L643.6,115.8 L647.6,117.8 Z" fill="#000"/>
<text x="656.9" y="111.5" font-family="Liberation Sans, sans-serif" font-style="italic" font-weight="bold" font-size="10.5" text-anchor="middle">P<tspan font-size="8" font-weight="normal" font-style="normal" dy="2.8">1</tspan></text>
<text x="621.6" y="36.8" font-family="Liberation Sans, sans-serif" font-style="italic" font-weight="bold" font-size="10.5" text-anchor="middle">P<tspan font-size="8" font-weight="normal" font-style="normal" dy="2.8">2</tspan></text>
<text x="517.6" y="14.8" font-family="Liberation Sans, sans-serif" font-style="italic" font-weight="bold" font-size="10.5" text-anchor="middle">P<tspan font-size="8" font-weight="normal" font-style="normal" dy="2.8">3</tspan></text>
<text x="455.2" y="72.6" font-family="Liberation Sans, sans-serif" font-style="italic" font-weight="bold" font-size="10.5" text-anchor="middle">P<tspan font-size="8" font-weight="normal" font-style="normal" dy="2.8">4</tspan></text>
<text x="460.1" y="163.5" font-family="Liberation Sans, sans-serif" font-style="italic" font-weight="bold" font-size="10.5" text-anchor="middle">P<tspan font-size="8" font-weight="normal" font-style="normal" dy="2.8">5</tspan></text>
<text x="535" y="217.3" font-family="Liberation Sans, sans-serif" font-style="italic" font-weight="bold" font-size="10.5" text-anchor="middle">P<tspan font-size="8" font-weight="normal" font-style="normal" dy="2.8">6</tspan></text>
<text x="624.4" y="191.8" font-family="Liberation Sans, sans-serif" font-style="italic" font-weight="bold" font-size="10.5" text-anchor="middle">P<tspan font-size="8" font-weight="normal" font-style="normal" dy="2.8">7</tspan></text>
<text x="631.4" y="109.8" font-family="Liberation Sans, sans-serif" font-style="italic" font-size="11" text-anchor="middle">λ<tspan font-size="8" font-style="normal" dy="2.6">1</tspan></text>
<text x="604.8" y="53.7" font-family="Liberation Sans, sans-serif" font-style="italic" font-size="11" text-anchor="middle">λ<tspan font-size="8" font-style="normal" dy="2.6">2</tspan></text>
<text x="529.6" y="39.6" font-family="Liberation Sans, sans-serif" font-style="italic" font-size="11" text-anchor="middle">λ<tspan font-size="8" font-style="normal" dy="2.6">3</tspan></text>
<text x="477.6" y="85.8" font-family="Liberation Sans, sans-serif" font-style="italic" font-size="11" text-anchor="middle">λ<tspan font-size="8" font-style="normal" dy="2.6">4</tspan></text>
<text x="482" y="151.4" font-family="Liberation Sans, sans-serif" font-style="italic" font-size="11" text-anchor="middle">λ<tspan font-size="8" font-style="normal" dy="2.6">5</tspan></text>
<text x="539.6" y="192.8" font-family="Liberation Sans, sans-serif" font-style="italic" font-size="11" text-anchor="middle">λ<tspan font-size="8" font-style="normal" dy="2.6">6</tspan></text>
<text x="603.4" y="175.3" font-family="Liberation Sans, sans-serif" font-style="italic" font-size="11" text-anchor="middle">λ<tspan font-size="8" font-style="normal" dy="2.6">7</tspan></text>
<line x1="638.0" y1="108.0" x2="649.0" y2="107.4" stroke="#000" stroke-width="1"/>
<line x1="608.1" y1="47.5" x2="615.3" y2="39.1" stroke="#000" stroke-width="1"/>
<line x1="525.6" y1="31.4" x2="522.1" y2="20.9" stroke="#000" stroke-width="1"/>
<line x1="474.6" y1="77.5" x2="464.6" y2="72.9" stroke="#000" stroke-width="1"/>
<line x1="476.6" y1="151.6" x2="466.8" y2="156.6" stroke="#000" stroke-width="1"/>
<line x1="535.1" y1="196.2" x2="532.9" y2="207.0" stroke="#000" stroke-width="1"/>
<line x1="609.4" y1="176.4" x2="616.7" y2="184.7" stroke="#000" stroke-width="1"/>
<path d="M32.4,248.9 L95.5,279.2 L95.5,357.2 L32.2,327.0 Z" fill="#edf5fc"/>
<path d="M32.2,327.0 L32.4,248.9 L95.5,279.2" fill="none" stroke="#7a7f88" stroke-width="0.8"/>
<rect x="0" y="-1.6" width="70.1" height="3.4" fill="url(#gRain)" transform="translate(32.2,327.8) rotate(25.51)"/>
<text x="29" y="252.20000000000002" font-family="Liberation Sans, sans-serif" font-size="9.3" text-anchor="end">2π</text>
<text x="29" y="330.5" font-family="Liberation Sans, sans-serif" font-size="9.8" text-anchor="end">0</text>
<text transform="translate(8.5,287.9) rotate(-90)" font-family="Liberation Sans, sans-serif" font-size="9.8" text-anchor="middle">Phase (rad)</text>
<rect x="95.6" y="279.4" width="80.70000000000002" height="77.0" fill="#fff" stroke="#444" stroke-width="0.9"/>
<circle cx="131.9" cy="322.3" r="32.5" fill="url(#gSph)"/>
<ellipse cx="131.9" cy="322.3" rx="32.5" ry="3.5" fill="none" stroke="#4a78c8" stroke-width="0.8"/>
<line x1="131.9" y1="322.3" x2="131.9" y2="281.8" stroke="#5a85d0" stroke-width="0.75"/>
<path d="M131.9,278.8 l-1.8,4 l3.6,0 z" fill="#4a78c8"/>
<line x1="131.9" y1="322.3" x2="173.3" y2="322.3" stroke="#5a85d0" stroke-width="0.75"/>
<path d="M175.8,322.3 l-4,-1.8 l0,3.6 z" fill="#4a78c8"/>
<circle cx="133.4" cy="325.3" r="1.1" fill="#4a78c8"/>
<text x="134.9" y="286.8" font-family="Liberation Sans, sans-serif" font-size="9.3">S3</text>
<text x="165.3" y="332.3" font-family="Liberation Sans, sans-serif" font-size="9.3">S2</text>
<text x="132.9" y="337.8" font-family="Liberation Sans, sans-serif" font-size="9.3" text-anchor="middle">S1</text>
<text x="132.4" y="274.4" font-family="Liberation Sans, sans-serif" font-size="9.6" text-anchor="middle">Tradition</text>
<text transform="translate(66.0,264.1) rotate(28.6)" x="0" y="-2.5" font-family="Liberation Sans, sans-serif" font-size="10" text-anchor="middle">Discrete</text>
<path d="M32.5,348.5 L95.5,378.5 L95.5,453.3 L32.0,423.5 Z" fill="#edf5fc"/>
<path d="M32.0,423.5 L32.5,348.5 L95.5,378.5" fill="none" stroke="#8a8f98" stroke-width="0.8" stroke-dasharray="1.2,1.2"/>
<rect x="0" y="-1.6" width="70.1" height="3.4" fill="url(#gRain)" transform="translate(32.0,424.3) rotate(25.14)"/>
<text x="29" y="351.8" font-family="Liberation Sans, sans-serif" font-size="9.3" text-anchor="end">2π</text>
<text x="29" y="427.0" font-family="Liberation Sans, sans-serif" font-size="9.8" text-anchor="end">0</text>
<text transform="translate(8.5,386.0) rotate(-90)" font-family="Liberation Sans, sans-serif" font-size="9.8" text-anchor="middle">Phase (rad)</text>
<rect x="95.9" y="378.5" width="79.5" height="74.80000000000001" fill="#fff" stroke="#555" stroke-width="0.9" stroke-dasharray="1.5,1.5"/>
<circle cx="131.9" cy="420.5" r="32.5" fill="url(#gSph)"/>
<ellipse cx="131.9" cy="420.5" rx="32.5" ry="3.5" fill="none" stroke="#4a78c8" stroke-width="0.8"/>
<line x1="131.9" y1="420.5" x2="131.9" y2="380.0" stroke="#5a85d0" stroke-width="0.75"/>
<path d="M131.9,377.0 l-1.8,4 l3.6,0 z" fill="#4a78c8"/>
<line x1="131.9" y1="420.5" x2="172.4" y2="420.5" stroke="#5a85d0" stroke-width="0.75"/>
<path d="M174.9,420.5 l-4,-1.8 l0,3.6 z" fill="#4a78c8"/>
<circle cx="133.4" cy="423.5" r="1.1" fill="#4a78c8"/>
<text x="134.9" y="385.0" font-family="Liberation Sans, sans-serif" font-size="9.3">S3</text>
<text x="164.4" y="430.5" font-family="Liberation Sans, sans-serif" font-size="9.3">S2</text>
<text x="132.9" y="436.0" font-family="Liberation Sans, sans-serif" font-size="9.3" text-anchor="middle">S1</text>
<text x="132.2" y="373.5" font-family="Liberation Sans, sans-serif" font-size="9.6" text-anchor="middle">This work</text>
<text transform="translate(66.0,363.5) rotate(28.5)" x="0" y="-2.5" font-family="Liberation Sans, sans-serif" font-size="10" text-anchor="middle">Continuous</text>
<path d="M31.5,441.8 L95.5,472.0 L95.5,546.6 L31.5,516.7 Z" fill="#edf5fc"/>
<path d="M31.5,516.7 L31.5,441.8 L95.5,472.0" fill="none" stroke="#8a8f98" stroke-width="0.8" stroke-dasharray="1.2,1.2"/>
<rect x="0" y="-1.6" width="70.6" height="3.4" fill="url(#gRain)" transform="translate(31.5,517.5) rotate(25.04)"/>
<text x="29" y="445.1" font-family="Liberation Sans, sans-serif" font-size="9.3" text-anchor="end">2π</text>
<text x="29" y="520.2" font-family="Liberation Sans, sans-serif" font-size="9.8" text-anchor="end">0</text>
<text transform="translate(8.5,479.2) rotate(-90)" font-family="Liberation Sans, sans-serif" font-size="9.8" text-anchor="middle">Phase (rad)</text>
<rect x="95.4" y="472.0" width="80.1" height="73.60000000000002" fill="#fff" stroke="#555" stroke-width="0.9" stroke-dasharray="1.5,1.5"/>
<circle cx="131.9" cy="513.5" r="32" fill="url(#gSph)"/>
<ellipse cx="131.9" cy="513.5" rx="32" ry="3.5" fill="none" stroke="#4a78c8" stroke-width="0.8"/>
<line x1="131.9" y1="513.5" x2="131.9" y2="473.5" stroke="#5a85d0" stroke-width="0.75"/>
<path d="M131.9,470.5 l-1.8,4 l3.6,0 z" fill="#4a78c8"/>
<line x1="131.9" y1="513.5" x2="172.5" y2="513.5" stroke="#5a85d0" stroke-width="0.75"/>
<path d="M175.0,513.5 l-4,-1.8 l0,3.6 z" fill="#4a78c8"/>
<circle cx="133.4" cy="516.5" r="1.1" fill="#4a78c8"/>
<text x="134.9" y="478.5" font-family="Liberation Sans, sans-serif" font-size="9.3">S3</text>
<text x="164.5" y="523.5" font-family="Liberation Sans, sans-serif" font-size="9.3">S2</text>
<text x="132.9" y="529.0" font-family="Liberation Sans, sans-serif" font-size="9.3" text-anchor="middle">S1</text>
<text transform="translate(60.0,533.2) rotate(28.0)" y="11" font-family="Liberation Sans, sans-serif" font-size="10.2" text-anchor="middle">Wavelength</text>
<g transform="translate(60,278.3) rotate(30)"><text font-family="Liberation Sans, sans-serif" font-style="italic" font-size="11.5" text-anchor="middle">J<tspan font-size="8" font-style="normal" dy="3">0</tspan></text><path d="M-3.2,-10.3 q1.1,-1.3 2.2,0 q1.1,1.3 2.2,0" fill="none" stroke="#000" stroke-width="0.7"/></g>
<g transform="translate(52.3,376.5) rotate(32)"><text font-family="Liberation Sans, sans-serif" font-style="italic" font-size="11.5" text-anchor="middle">J</text><path d="M-1.2,-10.3 q1.1,-1.3 2.2,0 q1.1,1.3 2.2,0" fill="none" stroke="#000" stroke-width="0.7"/></g>
<g transform="translate(51.6,474.4) rotate(32)"><text font-family="Liberation Sans, sans-serif" font-style="italic" font-size="11.5" text-anchor="middle">J</text><path d="M-1.2,-10.3 q1.1,-1.3 2.2,0 q1.1,1.3 2.2,0" fill="none" stroke="#000" stroke-width="0.7"/></g>
<rect x="62" y="410" width="32" height="23" fill="#fff"/><g transform="translate(62,410)"><path d="M1,10 L15,4 L31.5,8 L18,15 Z" fill="#a8a8a8"/><path d="M1,10 L18,15 L18,19 L1,14 Z" fill="#8c8c8c"/><path d="M18,15 L31.5,8 L31.5,12 L18,19 Z" fill="#707070"/><g transform="rotate(-20 16.5 7)"><rect x="10" y="4.5" width="13" height="3.5" fill="#7aaee0"/><ellipse cx="16.5" cy="8" rx="6.5" ry="2.8" fill="#7aaee0"/><ellipse cx="16.5" cy="4.5" rx="6.5" ry="2.8" fill="#a8cdf0"/></g></g>
<rect x="62" y="503.5" width="32" height="23" fill="#fff"/><g transform="translate(62,503.5)"><path d="M1,10 L15,4 L31.5,8 L18,15 Z" fill="#a8a8a8"/><path d="M1,10 L18,15 L18,19 L1,14 Z" fill="#8c8c8c"/><path d="M18,15 L31.5,8 L31.5,12 L18,19 Z" fill="#707070"/><g transform="rotate(0 16.5 7)"><rect x="10" y="4.5" width="13" height="3.5" fill="#7aaee0"/><ellipse cx="16.5" cy="8" rx="6.5" ry="2.8" fill="#7aaee0"/><ellipse cx="16.5" cy="4.5" rx="6.5" ry="2.8" fill="#a8cdf0"/></g></g>
<path d="M32.5,321 C50,314 75,302 95.5,281" fill="none" stroke="#f0a040" stroke-width="1" stroke-dasharray="2,1.2"/>
<path d="M32.5,325 C55,320 75,315 95.5,306" fill="none" stroke="#9a60e0" stroke-width="1" stroke-dasharray="2,1.2"/>
<circle cx="52.8" cy="312" r="4.1" fill="url(#gBall)"/>
<circle cx="69.4" cy="303.8" r="4.1" fill="url(#gBall)"/>
<circle cx="89.6" cy="291.3" r="4.1" fill="url(#gBall)"/>
<circle cx="52.8" cy="320.6" r="4.1" fill="url(#gBallP)"/>
<circle cx="70.6" cy="316" r="4.1" fill="url(#gBallP)"/>
<circle cx="89.8" cy="309.5" r="4.1" fill="url(#gBallP)"/>
<path d="M31.7,422.4 C55,412.5 85,396.5 95.8,379.1" fill="none" stroke="#f01818" stroke-width="1.5"/>
<path d="M31.7,422 C52,411 78,396 95.8,379.1" fill="none" stroke="#2030f0" stroke-width="1.3" stroke-dasharray="3,1.8"/>
<path d="M32.3,514.7 C55,506 85,494 95.3,472.5" fill="none" stroke="#f01818" stroke-width="1.5"/>
<path d="M32.3,514.7 C44,511 52,509 58,503.5 C66,494 72,480 84,475 C89,473 93,472.5 95.3,472.5" fill="none" stroke="#2030f0" stroke-width="1.3" stroke-dasharray="3,1.8"/>
<path d="M131.4,290.8 L98.9,320.8 L132.4,352.8 L164.4,322.3 Z" fill="none" stroke="#333" stroke-width="0.6" stroke-dasharray="1.2,1"/>
<circle cx="116.5" cy="309.7" r="4.2" fill="url(#gBallP)"/>
<circle cx="116.5" cy="337.9" r="4.2" fill="url(#gBallP)"/>
<circle cx="150.5" cy="308.4" r="4.2" fill="url(#gBall)"/>
<circle cx="150.5" cy="337.9" r="4.2" fill="url(#gBall)"/>
<line x1="114.5" y1="313" x2="114.5" y2="332" stroke="#6060e0" stroke-width="0.8"/><path d="M113.3,331.5 l1.2,2.5 l1.2,-2.5z" fill="#6060e0"/>
<line x1="116.5" y1="313" x2="116.5" y2="332" stroke="#40b060" stroke-width="0.8"/><path d="M115.3,331.5 l1.2,2.5 l1.2,-2.5z" fill="#40b060"/>
<line x1="118.5" y1="313" x2="118.5" y2="332" stroke="#e86060" stroke-width="0.8"/><path d="M117.3,331.5 l1.2,2.5 l1.2,-2.5z" fill="#e86060"/>
<line x1="148.5" y1="312" x2="148.5" y2="332" stroke="#6060e0" stroke-width="0.8"/><path d="M147.3,331.5 l1.2,2.5 l1.2,-2.5z" fill="#6060e0"/>
<line x1="150.5" y1="312" x2="150.5" y2="332" stroke="#40b060" stroke-width="0.8"/><path d="M149.3,331.5 l1.2,2.5 l1.2,-2.5z" fill="#40b060"/>
<line x1="152.5" y1="312" x2="152.5" y2="332" stroke="#e88080" stroke-width="0.8"/><path d="M151.3,331.5 l1.2,2.5 l1.2,-2.5z" fill="#e88080"/>
<path d="M131.5,388.8 Q118.0,416.3 105.0,423.3 Q117.0,434.3 131.5,451.8" fill="none" stroke="url(#gSphL)" stroke-width="1.3"/>
<path d="M106.0,423.3 l5,-2.5 l0,5 z" fill="none" stroke="#f06040" stroke-width="0.6" opacity="0.7"/>
<line x1="131.5" y1="388.8" x2="131.5" y2="451.8" stroke="#9ac878" stroke-width="0.9"/>
<line x1="125.5" y1="396.3" x2="125.5" y2="446.3" stroke="#f0d070" stroke-width="0.6"/>
<line x1="117.5" y1="410.8" x2="117.5" y2="436.3" stroke="#f0a050" stroke-width="0.6"/>
<path d="M131.5,388.8 Q145.5,414.3 157.5,420.3 Q145.5,428.3 131.5,451.8" fill="none" stroke="url(#gSphR)" stroke-width="1" stroke-dasharray="1.2,1.1"/>
<line x1="138.5" y1="395.3" x2="138.5" y2="446.3" stroke="#90d090" stroke-width="0.6"/>
<line x1="146.0" y1="405.3" x2="146.0" y2="438.3" stroke="#90b0e0" stroke-width="0.6"/>
<line x1="152.5" y1="413.3" x2="152.5" y2="428.3" stroke="#9080e0" stroke-width="0.6"/>
<path d="M131.5,482.0 Q118.0,509.5 105.0,516.5 Q117.0,527.5 131.5,545.0" fill="none" stroke="url(#gSphL)" stroke-width="1.3"/>
<path d="M106.0,516.5 l5,-2.5 l0,5 z" fill="none" stroke="#f06040" stroke-width="0.6" opacity="0.7"/>
<line x1="131.5" y1="482.0" x2="131.5" y2="545.0" stroke="#9ac878" stroke-width="0.9"/>
<line x1="125.5" y1="489.5" x2="125.5" y2="539.5" stroke="#f0d070" stroke-width="0.6"/>
<line x1="117.5" y1="504.0" x2="117.5" y2="529.5" stroke="#f0a050" stroke-width="0.6"/>
<path d="M131.5,482.0 Q145.5,507.5 157.5,513.5 Q145.5,521.5 131.5,545.0" fill="none" stroke="url(#gSphR)" stroke-width="1" stroke-dasharray="1.2,1.1"/>
<line x1="138.5" y1="488.5" x2="138.5" y2="539.5" stroke="#90d090" stroke-width="0.6"/>
<line x1="146.0" y1="498.5" x2="146.0" y2="531.5" stroke="#90b0e0" stroke-width="0.6"/>
<line x1="152.5" y1="506.5" x2="152.5" y2="521.5" stroke="#9080e0" stroke-width="0.6"/>
<rect x="187.4" y="245.3" width="332.9" height="36.7" rx="7" fill="#fff" stroke="#555" stroke-width="0.9"/>
<text x="189.5" y="267.6" font-family="Liberation Sans, sans-serif" font-style="italic" font-size="11.5">J<tspan font-size="8.5" font-style="normal" dy="2.5">0</tspan><tspan dy="-2.5"> (x, y, </tspan><tspan font-family="Liberation Serif, serif">θ</tspan>, λ)</text>
<path d="M192.3,258.5 q1.2,-1.4 2.4,0 q1.2,1.4 2.4,0" fill="none" stroke="#000" stroke-width="0.6"/>
<text x="279.5" y="259" font-family="Liberation Sans, sans-serif" font-size="11.3" text-anchor="middle">Compress</text>
<line x1="254" y1="264.2" x2="300" y2="264.2" stroke="#7030a0" stroke-width="1.6"/>
<path d="M305,264.2 l-6,-3 l0,6 z" fill="#7030a0"/>
<text x="306.5" y="267.6" font-family="Liberation Sans, sans-serif" font-style="italic" font-size="11.5">J (x, y, λ)</text>
<path d="M308,258.5 q1.2,-1.4 2.4,0 q1.2,1.4 2.4,0" fill="none" stroke="#000" stroke-width="0.6"/>
<text x="394.5" y="256.5" font-family="Liberation Sans, sans-serif" font-size="11.3" text-anchor="middle">Project</text>
<text x="398" y="279" font-family="Liberation Sans, sans-serif" font-size="11.3" text-anchor="middle">Reconstruct</text>
<line x1="362" y1="261.3" x2="424" y2="261.3" stroke="#7030a0" stroke-width="1.6"/>
<path d="M429,261.3 l-6,-3 l0,6 z" fill="#7030a0"/>
<line x1="366" y1="266.3" x2="428" y2="266.3" stroke="#7030a0" stroke-width="1.6"/>
<path d="M361,266.3 l6,-3 l0,6 z" fill="#7030a0"/>
<text x="431" y="268.3" font-family="Liberation Sans, sans-serif" font-style="italic" font-size="11.5">F (x′, y′, λ,P*,P</text>
<path d="M505.6,271.5 h4.6 M507.9,271.5 v-4.6" stroke="#000" stroke-width="0.7" fill="none"/>
<text x="507" y="264.5" font-family="Liberation Sans, sans-serif" font-style="italic" font-size="8">*</text>
<text x="511" y="268.3" font-family="Liberation Sans, sans-serif" font-style="italic" font-size="11.5">)</text>
<path d="M432.5,259 q1.2,-1.4 2.4,0 q1.2,1.4 2.4,0" fill="none" stroke="#000" stroke-width="0.6"/>
<path d="M339.70,317.80 L473.40,310.70 L477.83,307.84 L344.13,314.94 Z" fill="#c4e2c0"/><path d="M344.13,314.94 L477.83,307.84 L481.45,305.50 L347.75,312.60 Z" fill="#dcefd6"/><path d="M473.40,310.70 L473.60,495.70 L481.65,490.50 L481.45,305.50 Z" fill="#a4a6e2"/><path d="M347.75,312.60 L481.45,305.50 L485.88,302.64 L352.18,309.74 Z" fill="#f2e2a0"/><path d="M352.18,309.74 L485.88,302.64 L489.50,300.30 L355.80,307.40 Z" fill="#f8eec4"/><path d="M481.45,305.50 L481.65,490.50 L489.70,485.30 L489.50,300.30 Z" fill="#c8e4ae"/><path d="M355.80,307.40 L489.50,300.30 L493.93,297.44 L360.23,304.54 Z" fill="#f9d8bc"/><path d="M360.23,304.54 L493.93,297.44 L497.55,295.10 L363.85,302.20 Z" fill="#fce8d8"/><path d="M489.50,300.30 L489.70,485.30 L497.75,480.10 L497.55,295.10 Z" fill="#f7d8a0"/><path d="M363.85,302.20 L497.55,295.10 L501.98,292.24 L368.28,299.34 Z" fill="#f8cfc0"/><path d="M368.28,299.34 L501.98,292.24 L505.60,289.90 L371.90,297.00 Z" fill="#fbe2d8"/><path d="M497.55,295.10 L497.75,480.10 L505.80,474.90 L505.60,289.90 Z" fill="#f7a898"/><path d="M347.75,312.60 L481.45,305.50" fill="none" stroke="#333" stroke-width="0.7"/><path d="M481.45,305.50 L481.65,490.50" fill="none" stroke="#333" stroke-width="0.6" stroke-dasharray="1,0.8"/><path d="M355.80,307.40 L489.50,300.30" fill="none" stroke="#333" stroke-width="0.7"/><path d="M489.50,300.30 L489.70,485.30" fill="none" stroke="#333" stroke-width="0.6" stroke-dasharray="1,0.8"/><path d="M363.85,302.20 L497.55,295.10" fill="none" stroke="#333" stroke-width="0.7"/><path d="M497.55,295.10 L497.75,480.10" fill="none" stroke="#333" stroke-width="0.6" stroke-dasharray="1,0.8"/><path d="M339.70,317.80 L371.90,297.00 L505.60,289.90 L505.80,474.90 L473.60,495.70" fill="none" stroke="#222" stroke-width="0.9"/><path d="M473.40,310.70 L505.60,289.90" fill="none" stroke="#222" stroke-width="0.8"/><path d="M339.70,317.80 L473.40,310.70 L473.60,495.70 L339.70,465.40 Z" fill="url(#gBlSlab)" stroke="#222" stroke-width="0.9"/>
<path d="M339.7,317.8 L392,404 L339.7,465.4 Z" fill="url(#gWedge)"/>
<path d="M339.7,440 L339.7,465.4 L400,478.5 Z" fill="#e8eef9" opacity="0.6"/>
<text x="380" y="335.5" font-family="Liberation Sans, sans-serif" font-style="italic" font-size="11.5">F (x′, y′, λ,P*,P</text>
<path d="M454.6,338.7 h4.6 M456.9,338.7 v-4.6" stroke="#000" stroke-width="0.7" fill="none"/>
<text x="456" y="331.7" font-family="Liberation Sans, sans-serif" font-style="italic" font-size="8">*</text>
<text x="460" y="335.5" font-family="Liberation Sans, sans-serif" font-style="italic" font-size="11.5">)</text>
<path d="M381.5,326.5 q1.2,-1.4 2.4,0 q1.2,1.4 2.4,0" fill="none" stroke="#000" stroke-width="0.6"/>
<path d="M421.00,382.50 L435.00,381.50 L435.00,399.50 L421.00,400.50 Z" fill="#f5d98e" stroke="#444" stroke-width="0.5"/>
<path d="M415.83,386.00 L429.83,385.00 L429.83,403.00 L415.83,404.00 Z" fill="#f7a08c" stroke="#444" stroke-width="0.5"/>
<path d="M410.67,389.50 L424.67,388.50 L424.67,406.50 L410.67,407.50 Z" fill="#f7c890" stroke="#444" stroke-width="0.5"/>
<path d="M405.50,393.00 L419.50,392.00 L419.50,410.00 L405.50,411.00 Z" fill="#d8e6a0" stroke="#444" stroke-width="0.5"/>
<path d="M400.33,396.50 L414.33,395.50 L414.33,413.50 L400.33,414.50 Z" fill="#b8e0c0" stroke="#444" stroke-width="0.5"/>
<path d="M395.17,400.00 L409.17,399.00 L409.17,417.00 L395.17,418.00 Z" fill="#a89ce8" stroke="#444" stroke-width="0.5"/>
<path d="M390.00,403.50 L404.00,402.50 L404.00,420.50 L390.00,421.50 Z" fill="#e8f0fa" stroke="#444" stroke-width="0.5"/>
<path d="M473.6,495.7 L473.6,520 L505,520 L505,476" fill="none" stroke="#555" stroke-width="0.8"/>
<text x="361.5" y="505" font-family="Liberation Sans, sans-serif" font-size="9.75">Continuous polarization</text>
<text x="361.5" y="518" font-family="Liberation Sans, sans-serif" font-size="9.75">and wavelength channels</text>
<line x1="458.5" y1="508.2" x2="473.6" y2="508.2" stroke="#555" stroke-width="0.8"/>
<path d="M185.70,352.40 L320.30,345.70 L324.73,342.84 L190.13,349.54 Z" fill="#f6c4a2"/><path d="M190.13,349.54 L324.73,342.84 L328.35,340.50 L193.75,347.20 Z" fill="#fde6da"/><path d="M320.30,345.70 L320.00,530.20 L328.05,525.00 L328.35,340.50 Z" fill="#fce7dc"/><path d="M193.75,347.20 L328.35,340.50 L332.78,337.64 L198.18,344.34 Z" fill="#f6c6a4"/><path d="M198.18,344.34 L332.78,337.64 L336.40,335.30 L201.80,342.00 Z" fill="#fde8dc"/><path d="M328.35,340.50 L328.05,525.00 L336.10,519.80 L336.40,335.30 Z" fill="#f8d2b8"/><path d="M201.80,342.00 L336.40,335.30 L340.83,332.44 L206.23,339.14 Z" fill="#f7c9a8"/><path d="M206.23,339.14 L340.83,332.44 L344.45,330.10 L209.85,336.80 Z" fill="#fde9de"/><path d="M336.40,335.30 L336.10,519.80 L344.15,514.60 L344.45,330.10 Z" fill="#fbe2d4"/><path d="M209.85,336.80 L344.45,330.10 L348.88,327.24 L214.28,333.94 Z" fill="#f8cfb2"/><path d="M214.28,333.94 L348.88,327.24 L352.50,324.90 L217.90,331.60 Z" fill="#fdebe1"/><path d="M344.45,330.10 L344.15,514.60 L352.20,509.40 L352.50,324.90 Z" fill="#f8d4ba"/><path d="M193.75,347.20 L328.35,340.50" fill="none" stroke="#333" stroke-width="0.7"/><path d="M328.35,340.50 L328.05,525.00" fill="none" stroke="#333" stroke-width="0.6" stroke-dasharray="1,0.8"/><path d="M201.80,342.00 L336.40,335.30" fill="none" stroke="#333" stroke-width="0.7"/><path d="M336.40,335.30 L336.10,519.80" fill="none" stroke="#333" stroke-width="0.6" stroke-dasharray="1,0.8"/><path d="M209.85,336.80 L344.45,330.10" fill="none" stroke="#333" stroke-width="0.7"/><path d="M344.45,330.10 L344.15,514.60" fill="none" stroke="#333" stroke-width="0.6" stroke-dasharray="1,0.8"/><path d="M185.70,352.40 L217.90,331.60 L352.50,324.90 L352.20,509.40 L320.00,530.20" fill="none" stroke="#222" stroke-width="0.9"/><path d="M320.30,345.70 L352.50,324.90" fill="none" stroke="#222" stroke-width="0.8"/><path d="M185.70,352.40 L320.30,345.70 L320.00,530.20 L185.80,498.80 Z" fill="url(#gOrSlab)" stroke="#222" stroke-width="0.9"/>
<text x="248.5" y="373.3" font-family="Liberation Sans, sans-serif" font-style="italic" font-size="11.5">J (x, y, λ)</text>
<path d="M250,364.3 q1.2,-1.4 2.4,0 q1.2,1.4 2.4,0" fill="none" stroke="#000" stroke-width="0.6"/>
<line x1="177.3" y1="444.2" x2="233" y2="432" stroke="#333" stroke-width="0.7"/>
<line x1="177.3" y1="507.2" x2="268.8" y2="458.6" stroke="#333" stroke-width="0.7"/>
<rect x="232.9" y="423.9" width="7.6" height="9.2" fill="#8cb4e6" stroke="#6a98dc" stroke-width="0.6"/>
<ellipse cx="236.7" cy="428.5" rx="1.4" ry="2.6" fill="none" stroke="#e8f0ff" stroke-width="0.7"/>
<rect x="268.7" y="450.5" width="8.1" height="9.2" fill="#8cb4e6" stroke="#6a98dc" stroke-width="0.6"/>
<ellipse cx="272.8" cy="455.1" rx="2.6" ry="1.5" fill="none" stroke="#e8f0ff" stroke-width="0.7"/>
<path d="M320,530.2 L333,533 M352.3,510.4 L361,512 M320,530.2 L352.3,510.4" fill="none" stroke="#000" stroke-width="0.8"/>
<path d="M330.2,533.2 q2.2,-3.2 5,-3.6" fill="none" stroke="#e00" stroke-width="2"/>
<path d="M338.0,528.6 l-3.6,-1.6 l0.6,4.6 z" fill="#e00"/>
<path d="M352.1,517.2 q2.2,-3.2 5,-3.6" fill="none" stroke="#e00" stroke-width="2"/>
<path d="M359.90000000000003,512.6 l-3.6,-1.6 l0.6,4.6 z" fill="#e00"/>
<text x="344.3" y="527" font-family="Liberation Serif, serif" font-style="italic" font-size="11" text-anchor="middle">θ</text>
<g stroke="#7030a0" stroke-width="1.3" fill="none" stroke-linecap="round" stroke-linejoin="round"><path d="M361.1,423.7 L375.8,418.3 L370.5,415.9"/><path d="M377.2,422.4 L363,427.7 L368.3,430.4"/></g>
<line x1="434" y1="383" x2="528" y2="313.8" stroke="#333" stroke-width="0.7"/>
<line x1="402" y1="417" x2="514" y2="459.6" stroke="#333" stroke-width="0.7"/>
<rect x="539.5" y="253.6" width="134.2" height="53.6" fill="#fcefe8"/>
<rect x="539.5" y="315.2" width="134.2" height="57" fill="#e5f0fb"/>
<path d="M539.5,306.6 L540.2,306.4 L541.0,306.2 L542.1,305.9 L543.2,305.7 L544.5,305.3 L545.7,305.0 L547.0,304.7 L548.1,304.3 L549.2,303.9 L550.3,303.5 L551.4,303.1 L552.4,302.6 L553.5,302.2 L554.7,301.7 L555.8,301.3 L557.0,301.0 L558.2,300.7 L559.5,300.4 L560.8,300.1 L562.1,299.9 L563.4,299.7 L564.7,299.5 L566.0,299.4 L567.3,299.3 L568.5,299.3 L569.8,299.4 L571.0,299.5 L572.2,299.7 L573.4,299.8 L574.6,300.1 L575.8,300.3 L577.0,300.5 L578.2,300.7 L579.4,301.0 L580.7,301.3 L581.9,301.6 L583.1,301.9 L584.3,302.2 L585.5,302.4 L586.6,302.7 L587.7,302.9 L588.8,303.2 L589.8,303.4 L590.8,303.7 L591.8,303.9 L592.8,304.1 L593.9,304.3 L595.0,304.5 L596.1,304.7 L597.3,304.9 L598.5,305.0 L599.7,305.2 L600.9,305.3 L602.1,305.4 L603.4,305.5 L604.7,305.6 L606.1,305.7 L607.5,305.7 L609.0,305.8 L610.5,305.8 L611.9,305.8 L613.4,305.8 L614.7,305.7 L616.0,305.6 L617.2,305.5 L618.2,305.3 L619.3,305.1 L620.2,304.8 L621.2,304.6 L622.1,304.3 L623.0,304.1 L624.0,303.8 L625.0,303.5 L626.0,303.3 L627.0,303.0 L628.0,302.7 L629.0,302.4 L630.0,302.1 L630.9,301.8 L631.8,301.6 L632.6,301.4 L633.4,301.1 L634.2,300.9 L634.9,300.7 L635.7,300.5 L636.4,300.3 L637.2,300.2 L638.0,300.0 L638.9,299.9 L639.8,299.7 L640.7,299.6 L641.7,299.5 L642.6,299.4 L643.6,299.3 L644.5,299.3 L645.4,299.3 L646.3,299.4 L647.1,299.4 L647.9,299.6 L648.7,299.7 L649.5,299.9 L650.3,300.1 L651.2,300.3 L652.0,300.5 L652.9,300.7 L653.7,301.0 L654.6,301.2 L655.5,301.5 L656.4,301.8 L657.2,302.1 L658.1,302.4 L659.0,302.7 L659.9,303.0 L660.7,303.3 L661.6,303.6 L662.5,303.9 L663.3,304.2 L664.2,304.4 L665.1,304.7 L666.0,305.0 L667.0,305.3 L668.1,305.6 L669.2,305.9 L670.3,306.1 L671.3,306.4 L672.3,306.6 L673.1,306.8 L673.7,307.0 L673.7,307.2 L539.5,307.2 Z" fill="url(#gSpec)" opacity="0.75"/>
<path d="M539.5,306.6 L540.2,306.4 L541.0,306.2 L542.1,305.9 L543.2,305.7 L544.5,305.3 L545.7,305.0 L547.0,304.7 L548.1,304.3 L549.2,303.9 L550.3,303.5 L551.4,303.1 L552.4,302.6 L553.5,302.2 L554.7,301.7 L555.8,301.3 L557.0,301.0 L558.2,300.7 L559.5,300.4 L560.8,300.1 L562.1,299.9 L563.4,299.7 L564.7,299.5 L566.0,299.4 L567.3,299.3 L568.5,299.3 L569.8,299.4 L571.0,299.5 L572.2,299.7 L573.4,299.8 L574.6,300.1 L575.8,300.3 L577.0,300.5 L578.2,300.7 L579.4,301.0 L580.7,301.3 L581.9,301.6 L583.1,301.9 L584.3,302.2 L585.5,302.4 L586.6,302.7 L587.7,302.9 L588.8,303.2 L589.8,303.4 L590.8,303.7 L591.8,303.9 L592.8,304.1 L593.9,304.3 L595.0,304.5 L596.1,304.7 L597.3,304.9 L598.5,305.0 L599.7,305.2 L600.9,305.3 L602.1,305.4 L603.4,305.5 L604.7,305.6 L606.1,305.7 L607.5,305.7 L609.0,305.8 L610.5,305.8 L611.9,305.8 L613.4,305.8 L614.7,305.7 L616.0,305.6 L617.2,305.5 L618.2,305.3 L619.3,305.1 L620.2,304.8 L621.2,304.6 L622.1,304.3 L623.0,304.1 L624.0,303.8 L625.0,303.5 L626.0,303.3 L627.0,303.0 L628.0,302.7 L629.0,302.4 L630.0,302.1 L630.9,301.8 L631.8,301.6 L632.6,301.4 L633.4,301.1 L634.2,300.9 L634.9,300.7 L635.7,300.5 L636.4,300.3 L637.2,300.2 L638.0,300.0 L638.9,299.9 L639.8,299.7 L640.7,299.6 L641.7,299.5 L642.6,299.4 L643.6,299.3 L644.5,299.3 L645.4,299.3 L646.3,299.4 L647.1,299.4 L647.9,299.6 L648.7,299.7 L649.5,299.9 L650.3,300.1 L651.2,300.3 L652.0,300.5 L652.9,300.7 L653.7,301.0 L654.6,301.2 L655.5,301.5 L656.4,301.8 L657.2,302.1 L658.1,302.4 L659.0,302.7 L659.9,303.0 L660.7,303.3 L661.6,303.6 L662.5,303.9 L663.3,304.2 L664.2,304.4 L665.1,304.7 L666.0,305.0 L667.0,305.3 L668.1,305.6 L669.2,305.9 L670.3,306.1 L671.3,306.4 L672.3,306.6 L673.1,306.8 L673.7,307.0 L673.7,307.2 L539.5,307.2 Z" fill="url(#gSpecFade)" opacity="0.9"/>
<path d="M539.5,306.6 L540.2,306.4 L541.0,306.2 L542.1,305.9 L543.2,305.7 L544.5,305.3 L545.7,305.0 L547.0,304.7 L548.1,304.3 L549.2,303.9 L550.3,303.5 L551.4,303.1 L552.4,302.6 L553.5,302.2 L554.7,301.7 L555.8,301.3 L557.0,301.0 L558.2,300.7 L559.5,300.4 L560.8,300.1 L562.1,299.9 L563.4,299.7 L564.7,299.5 L566.0,299.4 L567.3,299.3 L568.5,299.3 L569.8,299.4 L571.0,299.5 L572.2,299.7 L573.4,299.8 L574.6,300.1 L575.8,300.3 L577.0,300.5 L578.2,300.7 L579.4,301.0 L580.7,301.3 L581.9,301.6 L583.1,301.9 L584.3,302.2 L585.5,302.4 L586.6,302.7 L587.7,302.9 L588.8,303.2 L589.8,303.4 L590.8,303.7 L591.8,303.9 L592.8,304.1 L593.9,304.3 L595.0,304.5 L596.1,304.7 L597.3,304.9 L598.5,305.0 L599.7,305.2 L600.9,305.3 L602.1,305.4 L603.4,305.5 L604.7,305.6 L606.1,305.7 L607.5,305.7 L609.0,305.8 L610.5,305.8 L611.9,305.8 L613.4,305.8 L614.7,305.7 L616.0,305.6 L617.2,305.5 L618.2,305.3 L619.3,305.1 L620.2,304.8 L621.2,304.6 L622.1,304.3 L623.0,304.1 L624.0,303.8 L625.0,303.5 L626.0,303.3 L627.0,303.0 L628.0,302.7 L629.0,302.4 L630.0,302.1 L630.9,301.8 L631.8,301.6 L632.6,301.4 L633.4,301.1 L634.2,300.9 L634.9,300.7 L635.7,300.5 L636.4,300.3 L637.2,300.2 L638.0,300.0 L638.9,299.9 L639.8,299.7 L640.7,299.6 L641.7,299.5 L642.6,299.4 L643.6,299.3 L644.5,299.3 L645.4,299.3 L646.3,299.4 L647.1,299.4 L647.9,299.6 L648.7,299.7 L649.5,299.9 L650.3,300.1 L651.2,300.3 L652.0,300.5 L652.9,300.7 L653.7,301.0 L654.6,301.2 L655.5,301.5 L656.4,301.8 L657.2,302.1 L658.1,302.4 L659.0,302.7 L659.9,303.0 L660.7,303.3 L661.6,303.6 L662.5,303.9 L663.3,304.2 L664.2,304.4 L665.1,304.7 L666.0,305.0 L667.0,305.3 L668.1,305.6 L669.2,305.9 L670.3,306.1 L671.3,306.4 L672.3,306.6 L673.1,306.8 L673.7,307.0" fill="none" stroke="#000" stroke-width="1.1"/>
<path d="M539.5,365.6 L539.8,365.5 L540.2,365.4 L540.6,365.3 L541.1,365.2 L541.7,365.0 L542.3,365.0 L542.9,364.9 L543.6,365.0 L544.3,365.1 L545.1,365.3 L546.0,365.6 L546.8,365.9 L547.7,366.2 L548.7,366.6 L549.5,366.9 L550.4,367.2 L551.2,367.5 L552.1,367.9 L552.9,368.2 L553.7,368.6 L554.5,368.9 L555.3,369.2 L556.2,369.5 L557.0,369.8 L557.8,370.0 L558.6,370.3 L559.4,370.5 L560.2,370.7 L561.0,370.9 L561.9,371.0 L562.9,371.1 L564.0,371.1 L565.2,371.1 L566.6,371.1 L568.0,371.1 L569.5,371.0 L571.0,370.9 L572.5,370.6 L574.0,370.1 L575.3,369.5 L576.5,368.7 L577.7,367.7 L578.8,366.6 L579.9,365.4 L581.0,364.0 L582.1,362.5 L583.2,361.0 L584.3,359.3 L585.4,357.5 L586.6,355.5 L587.7,353.4 L588.8,351.2 L590.0,349.0 L591.1,346.7 L592.3,344.5 L593.4,342.3 L594.6,340.1 L595.7,337.8 L596.9,335.5 L598.1,333.2 L599.3,331.0 L600.4,328.9 L601.4,327.0 L602.4,325.4 L603.3,324.0 L604.0,322.9 L604.7,321.9 L605.4,321.0 L606.0,320.3 L606.7,319.7 L607.3,319.1 L608.0,318.5 L608.7,318.0 L609.4,317.6 L610.2,317.2 L610.9,316.9 L611.6,316.7 L612.3,316.6 L613.0,316.4 L613.7,316.3 L614.3,316.2 L615.0,316.2 L615.6,316.2 L616.2,316.3 L616.8,316.4 L617.4,316.5 L617.9,316.7 L618.5,316.8 L619.0,316.9 L619.6,316.9 L620.0,317.0 L620.5,317.0 L621.0,317.2 L621.6,317.5 L622.1,317.9 L622.8,318.6 L623.5,319.5 L624.3,320.6 L625.1,321.8 L625.9,323.2 L626.8,324.7 L627.7,326.4 L628.6,328.1 L629.6,329.9 L630.7,331.9 L631.8,334.2 L633.0,336.7 L634.3,339.2 L635.5,341.8 L636.7,344.1 L637.7,346.2 L638.6,348.0 L639.3,349.4 L639.9,350.5 L640.4,351.5 L640.9,352.2 L641.3,352.9 L641.6,353.4 L642.0,354.0 L642.5,354.5 L643.0,355.0 L643.5,355.5 L644.0,355.9 L644.5,356.2 L645.0,356.5 L645.5,356.8 L646.0,356.9 L646.5,357.0 L647.0,357.0 L647.4,357.0 L647.9,356.9 L648.3,356.7 L648.7,356.5 L649.2,356.2 L649.6,355.9 L650.0,355.5 L650.4,355.1 L650.8,354.9 L651.1,354.6 L651.5,354.2 L651.9,353.7 L652.3,352.9 L652.8,351.8 L653.3,350.3 L653.9,348.2 L654.6,345.5 L655.4,342.4 L656.2,339.1 L657.0,335.8 L657.8,332.6 L658.4,329.8 L659.0,327.6 L659.4,325.9 L659.7,324.5 L660.0,323.4 L660.2,322.5 L660.4,321.8 L660.6,321.2 L660.8,320.6 L661.0,320.0 L661.3,319.4 L661.6,318.9 L661.9,318.5 L662.2,318.2 L662.5,317.9 L662.9,317.7 L663.2,317.5 L663.5,317.4 L663.8,317.3 L664.1,317.3 L664.5,317.4 L664.8,317.5 L665.1,317.7 L665.4,317.9 L665.7,318.2 L666.0,318.5 L666.3,318.8 L666.5,319.0 L666.7,319.3 L666.9,319.6 L667.2,320.1 L667.4,320.8 L667.7,321.7 L668.0,323.1 L668.4,324.8 L668.8,326.9 L669.2,329.3 L669.7,331.8 L670.1,334.6 L670.6,337.5 L671.0,340.5 L671.4,343.5 L671.8,346.8 L672.1,350.6 L672.4,354.7 L672.8,358.8 L673.1,362.7 L673.3,366.3 L673.5,369.3 L673.7,371.5 L673.7,372.2 L539.5,372.2 Z" fill="url(#gSpec)" opacity="0.75"/>
<path d="M539.5,365.6 L539.8,365.5 L540.2,365.4 L540.6,365.3 L541.1,365.2 L541.7,365.0 L542.3,365.0 L542.9,364.9 L543.6,365.0 L544.3,365.1 L545.1,365.3 L546.0,365.6 L546.8,365.9 L547.7,366.2 L548.7,366.6 L549.5,366.9 L550.4,367.2 L551.2,367.5 L552.1,367.9 L552.9,368.2 L553.7,368.6 L554.5,368.9 L555.3,369.2 L556.2,369.5 L557.0,369.8 L557.8,370.0 L558.6,370.3 L559.4,370.5 L560.2,370.7 L561.0,370.9 L561.9,371.0 L562.9,371.1 L564.0,371.1 L565.2,371.1 L566.6,371.1 L568.0,371.1 L569.5,371.0 L571.0,370.9 L572.5,370.6 L574.0,370.1 L575.3,369.5 L576.5,368.7 L577.7,367.7 L578.8,366.6 L579.9,365.4 L581.0,364.0 L582.1,362.5 L583.2,361.0 L584.3,359.3 L585.4,357.5 L586.6,355.5 L587.7,353.4 L588.8,351.2 L590.0,349.0 L591.1,346.7 L592.3,344.5 L593.4,342.3 L594.6,340.1 L595.7,337.8 L596.9,335.5 L598.1,333.2 L599.3,331.0 L600.4,328.9 L601.4,327.0 L602.4,325.4 L603.3,324.0 L604.0,322.9 L604.7,321.9 L605.4,321.0 L606.0,320.3 L606.7,319.7 L607.3,319.1 L608.0,318.5 L608.7,318.0 L609.4,317.6 L610.2,317.2 L610.9,316.9 L611.6,316.7 L612.3,316.6 L613.0,316.4 L613.7,316.3 L614.3,316.2 L615.0,316.2 L615.6,316.2 L616.2,316.3 L616.8,316.4 L617.4,316.5 L617.9,316.7 L618.5,316.8 L619.0,316.9 L619.6,316.9 L620.0,317.0 L620.5,317.0 L621.0,317.2 L621.6,317.5 L622.1,317.9 L622.8,318.6 L623.5,319.5 L624.3,320.6 L625.1,321.8 L625.9,323.2 L626.8,324.7 L627.7,326.4 L628.6,328.1 L629.6,329.9 L630.7,331.9 L631.8,334.2 L633.0,336.7 L634.3,339.2 L635.5,341.8 L636.7,344.1 L637.7,346.2 L638.6,348.0 L639.3,349.4 L639.9,350.5 L640.4,351.5 L640.9,352.2 L641.3,352.9 L641.6,353.4 L642.0,354.0 L642.5,354.5 L643.0,355.0 L643.5,355.5 L644.0,355.9 L644.5,356.2 L645.0,356.5 L645.5,356.8 L646.0,356.9 L646.5,357.0 L647.0,357.0 L647.4,357.0 L647.9,356.9 L648.3,356.7 L648.7,356.5 L649.2,356.2 L649.6,355.9 L650.0,355.5 L650.4,355.1 L650.8,354.9 L651.1,354.6 L651.5,354.2 L651.9,353.7 L652.3,352.9 L652.8,351.8 L653.3,350.3 L653.9,348.2 L654.6,345.5 L655.4,342.4 L656.2,339.1 L657.0,335.8 L657.8,332.6 L658.4,329.8 L659.0,327.6 L659.4,325.9 L659.7,324.5 L660.0,323.4 L660.2,322.5 L660.4,321.8 L660.6,321.2 L660.8,320.6 L661.0,320.0 L661.3,319.4 L661.6,318.9 L661.9,318.5 L662.2,318.2 L662.5,317.9 L662.9,317.7 L663.2,317.5 L663.5,317.4 L663.8,317.3 L664.1,317.3 L664.5,317.4 L664.8,317.5 L665.1,317.7 L665.4,317.9 L665.7,318.2 L666.0,318.5 L666.3,318.8 L666.5,319.0 L666.7,319.3 L666.9,319.6 L667.2,320.1 L667.4,320.8 L667.7,321.7 L668.0,323.1 L668.4,324.8 L668.8,326.9 L669.2,329.3 L669.7,331.8 L670.1,334.6 L670.6,337.5 L671.0,340.5 L671.4,343.5 L671.8,346.8 L672.1,350.6 L672.4,354.7 L672.8,358.8 L673.1,362.7 L673.3,366.3 L673.5,369.3 L673.7,371.5 L673.7,372.2 L539.5,372.2 Z" fill="url(#gSpecFade)" opacity="0.9"/>
<path d="M539.5,365.6 L539.8,365.5 L540.2,365.4 L540.6,365.3 L541.1,365.2 L541.7,365.0 L542.3,365.0 L542.9,364.9 L543.6,365.0 L544.3,365.1 L545.1,365.3 L546.0,365.6 L546.8,365.9 L547.7,366.2 L548.7,366.6 L549.5,366.9 L550.4,367.2 L551.2,367.5 L552.1,367.9 L552.9,368.2 L553.7,368.6 L554.5,368.9 L555.3,369.2 L556.2,369.5 L557.0,369.8 L557.8,370.0 L558.6,370.3 L559.4,370.5 L560.2,370.7 L561.0,370.9 L561.9,371.0 L562.9,371.1 L564.0,371.1 L565.2,371.1 L566.6,371.1 L568.0,371.1 L569.5,371.0 L571.0,370.9 L572.5,370.6 L574.0,370.1 L575.3,369.5 L576.5,368.7 L577.7,367.7 L578.8,366.6 L579.9,365.4 L581.0,364.0 L582.1,362.5 L583.2,361.0 L584.3,359.3 L585.4,357.5 L586.6,355.5 L587.7,353.4 L588.8,351.2 L590.0,349.0 L591.1,346.7 L592.3,344.5 L593.4,342.3 L594.6,340.1 L595.7,337.8 L596.9,335.5 L598.1,333.2 L599.3,331.0 L600.4,328.9 L601.4,327.0 L602.4,325.4 L603.3,324.0 L604.0,322.9 L604.7,321.9 L605.4,321.0 L606.0,320.3 L606.7,319.7 L607.3,319.1 L608.0,318.5 L608.7,318.0 L609.4,317.6 L610.2,317.2 L610.9,316.9 L611.6,316.7 L612.3,316.6 L613.0,316.4 L613.7,316.3 L614.3,316.2 L615.0,316.2 L615.6,316.2 L616.2,316.3 L616.8,316.4 L617.4,316.5 L617.9,316.7 L618.5,316.8 L619.0,316.9 L619.6,316.9 L620.0,317.0 L620.5,317.0 L621.0,317.2 L621.6,317.5 L622.1,317.9 L622.8,318.6 L623.5,319.5 L624.3,320.6 L625.1,321.8 L625.9,323.2 L626.8,324.7 L627.7,326.4 L628.6,328.1 L629.6,329.9 L630.7,331.9 L631.8,334.2 L633.0,336.7 L634.3,339.2 L635.5,341.8 L636.7,344.1 L637.7,346.2 L638.6,348.0 L639.3,349.4 L639.9,350.5 L640.4,351.5 L640.9,352.2 L641.3,352.9 L641.6,353.4 L642.0,354.0 L642.5,354.5 L643.0,355.0 L643.5,355.5 L644.0,355.9 L644.5,356.2 L645.0,356.5 L645.5,356.8 L646.0,356.9 L646.5,357.0 L647.0,357.0 L647.4,357.0 L647.9,356.9 L648.3,356.7 L648.7,356.5 L649.2,356.2 L649.6,355.9 L650.0,355.5 L650.4,355.1 L650.8,354.9 L651.1,354.6 L651.5,354.2 L651.9,353.7 L652.3,352.9 L652.8,351.8 L653.3,350.3 L653.9,348.2 L654.6,345.5 L655.4,342.4 L656.2,339.1 L657.0,335.8 L657.8,332.6 L658.4,329.8 L659.0,327.6 L659.4,325.9 L659.7,324.5 L660.0,323.4 L660.2,322.5 L660.4,321.8 L660.6,321.2 L660.8,320.6 L661.0,320.0 L661.3,319.4 L661.6,318.9 L661.9,318.5 L662.2,318.2 L662.5,317.9 L662.9,317.7 L663.2,317.5 L663.5,317.4 L663.8,317.3 L664.1,317.3 L664.5,317.4 L664.8,317.5 L665.1,317.7 L665.4,317.9 L665.7,318.2 L666.0,318.5 L666.3,318.8 L666.5,319.0 L666.7,319.3 L666.9,319.6 L667.2,320.1 L667.4,320.8 L667.7,321.7 L668.0,323.1 L668.4,324.8 L668.8,326.9 L669.2,329.3 L669.7,331.8 L670.1,334.6 L670.6,337.5 L671.0,340.5 L671.4,343.5 L671.8,346.8 L672.1,350.6 L672.4,354.7 L672.8,358.8 L673.1,362.7 L673.3,366.3 L673.5,369.3 L673.7,371.5" fill="none" stroke="#000" stroke-width="1.1"/>
<rect x="539.5" y="253.6" width="134.2" height="118.6" fill="none" stroke="#6070a0" stroke-width="0.8" stroke-dasharray="1,1"/>
<rect x="539.5" y="307.2" width="134.2" height="8" fill="#fff"/>
<line x1="539.5" y1="307.2" x2="539.5" y2="315.2" stroke="#6070a0" stroke-width="0.8" stroke-dasharray="1,1"/>
<line x1="673.7" y1="307.2" x2="673.7" y2="315.2" stroke="#6070a0" stroke-width="0.8" stroke-dasharray="1,1"/>
<text x="606.5" y="247" font-family="Liberation Sans, sans-serif" font-size="9.7" text-anchor="middle">Reconstructed intensity</text>
<text x="606.5" y="383" font-family="Liberation Sans, sans-serif" font-size="9.7" text-anchor="middle">Wavelength</text>
<text x="677.5" y="267" font-family="Liberation Sans, sans-serif" font-size="9.7">1</text>
<text x="677.5" y="312" font-family="Liberation Sans, sans-serif" font-size="9.7">0</text>
<text x="677.5" y="322" font-family="Liberation Sans, sans-serif" font-size="9.7">1</text>
<text x="677.5" y="375.5" font-family="Liberation Sans, sans-serif" font-size="9.7">0</text>
<text x="548" y="269.5" font-family="Liberation Sans, sans-serif" font-style="italic" font-size="11.5">P</text>
<path d="M555.5,272.5 h5 M558,272.5 v-5" stroke="#000" stroke-width="0.7" fill="none"/>
<text x="556" y="266" font-family="Liberation Sans, sans-serif" font-style="italic" font-size="10">*</text>
<text x="549" y="331" font-family="Liberation Sans, sans-serif" font-style="italic" font-size="11.5">P<tspan font-size="10" dy="-3.5">*</tspan></text>
<g fill="#f05840" stroke="none"><path d="M543.09,301.89 L545.51,297.51" stroke="#f05840" stroke-width="1.7"/><path d="M547.69,293.58 L547.79,298.77 L543.24,296.25 Z"/><path d="M540.91,305.82 L545.36,303.15 L540.81,300.63 Z"/></g>
<g transform="rotate(20 567.5 291.5)"><ellipse cx="567.5" cy="291.5" rx="3" ry="5.5" fill="none" stroke="#e07a30" stroke-width="1.5"/><path d="M569.00,286.00 l-3.2,-2 l0,4 z" fill="#e07a30"/></g>
<g transform="rotate(15 590 297.5)"><ellipse cx="590" cy="297.5" rx="3" ry="4.5" fill="none" stroke="#f0a848" stroke-width="1.5"/><path d="M591.50,293.00 l-3.2,-2 l0,4 z" fill="#f0a848"/></g>
<g transform="rotate(0 613 299)"><ellipse cx="613" cy="299" rx="4" ry="4" fill="none" stroke="#58a838" stroke-width="1.5"/><path d="M614.50,295.00 l-3.2,-2 l0,4 z" fill="#58a838"/></g>
<g transform="rotate(10 634.5 296)"><ellipse cx="634.5" cy="296" rx="4.5" ry="3" fill="none" stroke="#2f80d0" stroke-width="1.5"/><path d="M636.00,293.00 l-3.2,-2 l0,4 z" fill="#2f80d0"/></g>
<g transform="rotate(25 654 297)"><ellipse cx="654" cy="297" rx="5.5" ry="3" fill="none" stroke="#9848d8" stroke-width="1.5"/><path d="M655.50,294.00 l-3.2,-2 l0,4 z" fill="#9848d8"/></g>
<g fill="#a040e0" stroke="none"><path d="M665.95,299.57 L670.05,302.43" stroke="#a040e0" stroke-width="1.7"/><path d="M673.73,305.02 L668.56,304.56 L671.54,300.30 Z"/><path d="M662.27,296.98 L664.46,301.70 L667.44,297.44 Z"/></g>
<g fill="#e8503c" stroke="none"><path d="M543.83,362.75 L548.17,365.25" stroke="#e8503c" stroke-width="1.7"/><path d="M552.06,367.50 L546.87,367.50 L549.47,363.00 Z"/><path d="M539.94,360.50 L542.53,365.00 L545.13,360.50 Z"/></g>
<g transform="rotate(15 564.5 366)"><ellipse cx="564.5" cy="366" rx="5.5" ry="3" fill="none" stroke="#e07a30" stroke-width="1.5"/><path d="M566.00,363.00 l-3.2,-2 l0,4 z" fill="#e07a30"/></g>
<g transform="rotate(10 587.5 337.5)"><ellipse cx="587.5" cy="337.5" rx="5" ry="3.5" fill="none" stroke="#f0a848" stroke-width="1.5"/><path d="M589.00,334.00 l-3.2,-2 l0,4 z" fill="#f0a848"/></g>
<g transform="rotate(0 613.5 322)"><ellipse cx="613.5" cy="322" rx="4.5" ry="4.5" fill="none" stroke="#58a838" stroke-width="1.5"/><path d="M615.00,317.50 l-3.2,-2 l0,4 z" fill="#58a838"/></g>
<g transform="rotate(15 636.5 335)"><ellipse cx="636.5" cy="335" rx="3.5" ry="5" fill="none" stroke="#2f80d0" stroke-width="1.5"/><path d="M638.00,330.00 l-3.2,-2 l0,4 z" fill="#2f80d0"/></g>
<g transform="rotate(15 653.5 324.5)"><ellipse cx="653.5" cy="324.5" rx="2.8" ry="5.5" fill="none" stroke="#9848d8" stroke-width="1.5"/><path d="M655.00,319.00 l-3.2,-2 l0,4 z" fill="#9848d8"/></g>
<g fill="#a040e0" stroke="none"><path d="M668.57,369.05 L671.43,364.95" stroke="#a040e0" stroke-width="1.7"/><path d="M674.02,361.27 L673.56,366.44 L669.30,363.46 Z"/><path d="M665.98,372.73 L670.70,370.54 L666.44,367.56 Z"/></g>
<text x="606.5" y="400" font-family="Liberation Sans, sans-serif" font-size="9.65" text-anchor="middle">Reconstructed polarization</text>
<path d="M603.0,492.0 L603.0,405.0 M612.4,493.8 L612.4,406.8 M621.8,495.5 L621.8,408.5 M631.1,497.2 L631.1,410.2 M640.5,499.0 L640.5,412.0 M649.9,500.8 L649.9,413.8 M659.2,502.5 L659.2,415.5 M668.6,504.2 L668.6,417.2 M678.0,506.0 L678.0,419.0 M545.0,513.0 L603.0,492.0 L678.0,506.0 M545.0,502.1 L603.0,481.1 L678.0,495.1 M545.0,491.2 L603.0,470.2 L678.0,484.2 M545.0,480.4 L603.0,459.4 L678.0,473.4 M545.0,469.5 L603.0,448.5 L678.0,462.5 M545.0,458.6 L603.0,437.6 L678.0,451.6 M545.0,447.8 L603.0,426.8 L678.0,440.8 M545.0,436.9 L603.0,415.9 L678.0,429.9 M545.0,426.0 L603.0,405.0 L678.0,419.0 M545.0,513.0 L545.0,426.0 M545.0,513.0 L620.0,527.0 M552.2,510.4 L552.2,423.4 M552.2,510.4 L627.2,524.4 M559.5,507.8 L559.5,420.8 M559.5,507.8 L634.5,521.8 M566.8,505.1 L566.8,418.1 M566.8,505.1 L641.8,519.1 M574.0,502.5 L574.0,415.5 M574.0,502.5 L649.0,516.5 M581.2,499.9 L581.2,412.9 M581.2,499.9 L656.2,513.9 M588.5,497.2 L588.5,410.2 M588.5,497.2 L663.5,511.2 M595.8,494.6 L595.8,407.6 M595.8,494.6 L670.8,508.6 M603.0,492.0 L603.0,405.0 M603.0,492.0 L678.0,506.0 M545.0,513.0 L603.0,492.0 M554.4,514.8 L612.4,493.8 M563.8,516.5 L621.8,495.5 M573.1,518.2 L631.1,497.2 M582.5,520.0 L640.5,499.0 M591.9,521.8 L649.9,500.8 M601.2,523.5 L659.2,502.5 M610.6,525.2 L668.6,504.2 M620.0,527.0 L678.0,506.0" fill="none" stroke="#e0e0e0" stroke-width="0.5"/>
<path d="M603.0,405.0 L604.2,405.2 L605.5,405.5 L606.8,405.8 L608.0,406.4 L609.2,407.5 L610.5,410.8 L611.8,419.4 L613.0,437.7 L614.2,461.1 L615.5,477.4 L616.8,484.6 L618.0,487.2 L619.2,488.2 L620.5,488.6 L621.8,488.9 L623.0,489.2 L624.2,489.4 L625.5,489.7 L626.8,489.9 L628.0,490.1 L629.2,490.4 L630.5,490.6 L631.8,490.8 L633.0,491.1 L634.2,491.3 L635.5,491.5 L636.8,491.8 L638.0,492.0 L639.2,492.2 L640.5,492.5 L641.8,492.7 L643.0,492.9 L644.2,493.1 L645.5,493.2 L646.8,493.0 L648.0,491.7 L649.2,487.3 L650.5,475.6 L651.8,454.3 L653.0,433.1 L654.2,421.4 L655.5,417.0 L656.8,415.7 L658.0,415.5 L659.2,415.6 L660.5,415.8 L661.8,416.0 L663.0,416.2 L664.2,416.4 L665.5,416.7 L666.8,416.9 L668.0,417.1 L669.2,417.4 L670.5,417.6 L671.8,417.8 L673.0,418.1 L674.2,418.3 L675.5,418.5 L676.8,418.8 L678.0,419.0" fill="none" stroke="#786ee6" stroke-width="0.45" opacity="0.62"/><path d="M601.5,407.8 L602.8,408.1 L604.0,408.5 L605.3,409.2 L606.5,410.4 L607.8,412.7 L609.0,417.5 L610.3,426.4 L611.5,440.2 L612.8,456.4 L614.0,470.0 L615.3,478.7 L616.5,483.3 L617.8,485.5 L619.0,486.7 L620.3,487.3 L621.5,487.7 L622.8,488.0 L624.0,488.3 L625.3,488.5 L626.5,488.8 L627.8,489.0 L629.0,489.2 L630.3,489.5 L631.5,489.7 L632.8,490.0 L634.0,490.2 L635.3,490.4 L636.5,490.6 L637.8,490.9 L639.0,491.1 L640.3,491.3 L641.5,491.4 L642.8,491.4 L644.0,491.0 L645.3,489.9 L646.5,487.2 L647.8,481.4 L649.0,470.9 L650.3,456.0 L651.5,440.8 L652.8,429.7 L654.0,423.4 L655.3,420.4 L656.5,419.2 L657.8,418.8 L659.0,418.7 L660.3,418.8 L661.5,419.0 L662.8,419.2 L664.0,419.4 L665.3,419.7 L666.5,419.9 L667.8,420.1 L669.0,420.4 L670.3,420.6 L671.5,420.8 L672.8,421.1 L674.0,421.3 L675.3,421.5 L676.5,421.8" fill="none" stroke="#7670e6" stroke-width="0.45" opacity="0.62"/><path d="M600.0,410.8 L601.3,411.3 L602.5,412.0 L603.8,413.0 L605.0,414.9 L606.3,418.0 L607.5,423.2 L608.8,431.3 L610.0,442.0 L611.3,454.0 L612.5,465.0 L613.8,473.3 L615.0,478.8 L616.3,482.1 L617.5,484.1 L618.8,485.2 L620.0,486.0 L621.3,486.5 L622.5,486.8 L623.8,487.1 L625.0,487.4 L626.3,487.6 L627.5,487.9 L628.8,488.1 L630.0,488.4 L631.3,488.6 L632.5,488.8 L633.8,489.0 L635.0,489.2 L636.3,489.4 L637.5,489.6 L638.8,489.7 L640.0,489.6 L641.3,489.2 L642.5,488.3 L643.8,486.5 L645.0,483.0 L646.3,477.1 L647.5,468.3 L648.8,457.2 L650.0,445.8 L651.3,436.3 L652.5,429.8 L653.8,425.8 L655.0,423.6 L656.3,422.5 L657.5,422.0 L658.8,421.9 L660.0,421.9 L661.3,422.1 L662.5,422.3 L663.8,422.5 L665.0,422.7 L666.3,422.9 L667.5,423.1 L668.8,423.4 L670.0,423.6 L671.3,423.8 L672.5,424.1 L673.8,424.3 L675.0,424.5" fill="none" stroke="#7573e6" stroke-width="0.45" opacity="0.62"/><path d="M598.5,414.0 L599.8,414.6 L601.0,415.6 L602.3,417.1 L603.5,419.4 L604.8,422.9 L606.0,428.0 L607.3,434.9 L608.5,443.5 L609.8,452.8 L611.0,461.7 L612.3,469.1 L613.5,474.7 L614.8,478.5 L616.0,481.1 L617.3,482.8 L618.5,483.9 L619.8,484.6 L621.0,485.2 L622.3,485.6 L623.5,485.9 L624.8,486.2 L626.0,486.5 L627.3,486.7 L628.5,487.0 L629.8,487.2 L631.0,487.4 L632.3,487.6 L633.5,487.8 L634.8,487.9 L636.0,487.9 L637.3,487.8 L638.5,487.5 L639.8,486.8 L641.0,485.4 L642.3,483.1 L643.5,479.4 L644.8,474.0 L646.0,466.7 L647.3,458.1 L648.5,449.3 L649.8,441.5 L651.0,435.4 L652.3,431.1 L653.5,428.3 L654.8,426.6 L656.0,425.7 L657.3,425.3 L658.5,425.1 L659.8,425.1 L661.0,425.2 L662.3,425.3 L663.5,425.5 L664.8,425.7 L666.0,425.9 L667.3,426.2 L668.5,426.4 L669.8,426.6 L671.0,426.8 L672.3,427.1 L673.5,427.3" fill="none" stroke="#7475e6" stroke-width="0.45" opacity="0.62"/><path d="M597.1,417.3 L598.3,418.2 L599.6,419.4 L600.8,421.2 L602.1,423.7 L603.3,427.2 L604.6,431.9 L605.8,437.8 L607.1,444.8 L608.3,452.3 L609.6,459.6 L610.8,466.0 L612.1,471.2 L613.3,475.2 L614.6,478.0 L615.8,480.1 L617.1,481.6 L618.3,482.6 L619.6,483.3 L620.8,483.9 L622.1,484.3 L623.3,484.7 L624.6,485.0 L625.8,485.3 L627.1,485.5 L628.3,485.7 L629.6,485.9 L630.8,486.1 L632.1,486.2 L633.3,486.2 L634.6,486.1 L635.8,485.8 L637.1,485.2 L638.3,484.2 L639.6,482.6 L640.8,480.1 L642.1,476.6 L643.3,471.8 L644.6,465.8 L645.8,459.0 L647.1,452.0 L648.3,445.5 L649.6,440.1 L650.8,435.9 L652.1,432.9 L653.3,430.9 L654.6,429.6 L655.8,428.9 L657.1,428.4 L658.3,428.3 L659.6,428.2 L660.8,428.3 L662.1,428.4 L663.3,428.6 L664.6,428.8 L665.8,429.0 L667.1,429.2 L668.3,429.4 L669.6,429.6 L670.8,429.9 L672.1,430.1" fill="none" stroke="#7278e6" stroke-width="0.45" opacity="0.62"/><path d="M595.6,420.7 L596.8,421.7 L598.1,423.2 L599.3,425.1 L600.6,427.6 L601.8,431.0 L603.1,435.2 L604.3,440.3 L605.6,446.0 L606.8,452.1 L608.1,458.1 L609.3,463.6 L610.6,468.4 L611.8,472.2 L613.1,475.2 L614.3,477.4 L615.6,479.1 L616.8,480.4 L618.1,481.3 L619.3,482.1 L620.6,482.6 L621.8,483.1 L623.1,483.4 L624.3,483.7 L625.6,484.0 L626.8,484.2 L628.1,484.4 L629.3,484.5 L630.6,484.5 L631.8,484.4 L633.1,484.2 L634.3,483.7 L635.6,483.0 L636.8,481.8 L638.1,480.1 L639.3,477.6 L640.6,474.3 L641.8,470.2 L643.1,465.2 L644.3,459.7 L645.6,454.0 L646.8,448.7 L648.1,444.0 L649.3,440.2 L650.6,437.2 L651.8,435.1 L653.1,433.6 L654.3,432.6 L655.6,431.9 L656.8,431.6 L658.1,431.4 L659.3,431.3 L660.6,431.4 L661.8,431.5 L663.1,431.6 L664.3,431.8 L665.6,432.0 L666.8,432.2 L668.1,432.4 L669.3,432.6 L670.6,432.9" fill="none" stroke="#717ae6" stroke-width="0.45" opacity="0.62"/><path d="M594.1,424.0 L595.3,425.2 L596.6,426.8 L597.8,428.7 L599.1,431.2 L600.3,434.3 L601.6,438.0 L602.8,442.4 L604.1,447.2 L605.3,452.2 L606.6,457.3 L607.8,462.0 L609.1,466.1 L610.3,469.7 L611.6,472.6 L612.8,474.9 L614.1,476.8 L615.3,478.2 L616.6,479.3 L617.8,480.1 L619.1,480.8 L620.3,481.3 L621.6,481.8 L622.8,482.1 L624.1,482.4 L625.3,482.6 L626.6,482.7 L627.8,482.8 L629.1,482.7 L630.3,482.6 L631.6,482.2 L632.8,481.7 L634.1,480.8 L635.3,479.6 L636.6,477.8 L637.8,475.5 L639.1,472.6 L640.3,469.0 L641.6,464.9 L642.8,460.4 L644.1,455.8 L645.3,451.3 L646.6,447.3 L647.8,443.9 L649.1,441.1 L650.3,439.0 L651.6,437.4 L652.8,436.2 L654.1,435.4 L655.3,434.9 L656.6,434.6 L657.8,434.5 L659.1,434.4 L660.3,434.5 L661.6,434.6 L662.8,434.7 L664.1,434.9 L665.3,435.0 L666.6,435.2 L667.8,435.4 L669.1,435.7" fill="none" stroke="#707de6" stroke-width="0.45" opacity="0.62"/><path d="M592.6,427.4 L593.8,428.6 L595.1,430.2 L596.3,432.1 L597.6,434.4 L598.8,437.2 L600.1,440.5 L601.3,444.2 L602.6,448.3 L603.8,452.5 L605.1,456.7 L606.3,460.7 L607.6,464.4 L608.8,467.6 L610.1,470.4 L611.3,472.7 L612.6,474.5 L613.8,476.0 L615.1,477.2 L616.3,478.2 L617.6,478.9 L618.8,479.5 L620.1,480.0 L621.3,480.4 L622.6,480.7 L623.8,480.9 L625.1,481.0 L626.3,481.0 L627.6,480.9 L628.8,480.7 L630.1,480.3 L631.3,479.7 L632.6,478.8 L633.8,477.5 L635.1,475.9 L636.3,473.8 L637.6,471.2 L638.8,468.1 L640.1,464.7 L641.3,461.0 L642.6,457.2 L643.8,453.6 L645.1,450.2 L646.3,447.2 L647.6,444.7 L648.8,442.6 L650.1,441.0 L651.3,439.8 L652.6,438.9 L653.8,438.3 L655.1,437.9 L656.3,437.6 L657.6,437.5 L658.8,437.5 L660.1,437.5 L661.3,437.6 L662.6,437.7 L663.8,437.9 L665.1,438.1 L666.3,438.3 L667.6,438.5" fill="none" stroke="#6f7fe6" stroke-width="0.45" opacity="0.62"/><path d="M591.1,430.6 L592.4,431.9 L593.6,433.4 L594.9,435.2 L596.1,437.4 L597.4,439.9 L598.6,442.8 L599.9,445.9 L601.1,449.4 L602.4,452.9 L603.6,456.5 L604.9,459.9 L606.1,463.1 L607.4,466.0 L608.6,468.5 L609.9,470.7 L611.1,472.5 L612.4,474.0 L613.6,475.2 L614.9,476.2 L616.1,477.0 L617.4,477.7 L618.6,478.2 L619.9,478.6 L621.1,478.9 L622.4,479.1 L623.6,479.3 L624.9,479.3 L626.1,479.1 L627.4,478.9 L628.6,478.4 L629.9,477.8 L631.1,476.9 L632.4,475.7 L633.6,474.2 L634.9,472.3 L636.1,470.1 L637.4,467.5 L638.6,464.7 L639.9,461.6 L641.1,458.5 L642.4,455.5 L643.6,452.6 L644.9,450.1 L646.1,447.8 L647.4,445.9 L648.6,444.4 L649.9,443.2 L651.1,442.3 L652.4,441.6 L653.6,441.2 L654.9,440.8 L656.1,440.6 L657.4,440.6 L658.6,440.5 L659.9,440.6 L661.1,440.7 L662.4,440.8 L663.6,440.9 L664.9,441.1 L666.1,441.3" fill="none" stroke="#6e83e2" stroke-width="0.45" opacity="0.62"/><path d="M589.6,433.7 L590.9,435.0 L592.1,436.4 L593.4,438.1 L594.6,440.1 L595.9,442.3 L597.1,444.8 L598.4,447.5 L599.6,450.4 L600.9,453.4 L602.1,456.4 L603.4,459.3 L604.6,462.1 L605.9,464.6 L607.1,466.9 L608.4,468.9 L609.6,470.6 L610.9,472.1 L612.1,473.3 L613.4,474.3 L614.6,475.2 L615.9,475.9 L617.1,476.4 L618.4,476.8 L619.6,477.2 L620.9,477.4 L622.1,477.5 L623.4,477.5 L624.6,477.3 L625.9,477.1 L627.1,476.6 L628.4,476.0 L629.6,475.2 L630.9,474.1 L632.1,472.7 L633.4,471.1 L634.6,469.2 L635.9,467.1 L637.1,464.7 L638.4,462.2 L639.6,459.7 L640.9,457.2 L642.1,454.8 L643.4,452.6 L644.6,450.7 L645.9,449.0 L647.1,447.6 L648.4,446.4 L649.6,445.5 L650.9,444.9 L652.1,444.3 L653.4,444.0 L654.6,443.7 L655.9,443.6 L657.1,443.6 L658.4,443.6 L659.6,443.6 L660.9,443.7 L662.1,443.8 L663.4,444.0 L664.6,444.1" fill="none" stroke="#6f8cd1" stroke-width="0.45" opacity="0.62"/><path d="M588.1,436.7 L589.4,437.9 L590.6,439.2 L591.9,440.8 L593.1,442.5 L594.4,444.5 L595.6,446.7 L596.9,449.0 L598.1,451.4 L599.4,454.0 L600.6,456.5 L601.9,459.0 L603.1,461.4 L604.4,463.6 L605.6,465.6 L606.9,467.4 L608.1,469.0 L609.4,470.4 L610.6,471.6 L611.9,472.5 L613.1,473.4 L614.4,474.1 L615.6,474.6 L616.9,475.1 L618.1,475.4 L619.4,475.6 L620.6,475.7 L621.9,475.7 L623.1,475.6 L624.4,475.4 L625.6,475.0 L626.9,474.4 L628.1,473.6 L629.4,472.7 L630.6,471.5 L631.9,470.1 L633.1,468.5 L634.4,466.8 L635.6,464.8 L636.9,462.8 L638.1,460.7 L639.4,458.7 L640.6,456.7 L641.9,454.9 L643.1,453.2 L644.4,451.7 L645.6,450.5 L646.9,449.5 L648.1,448.6 L649.4,448.0 L650.6,447.4 L651.9,447.1 L653.1,446.8 L654.4,446.6 L655.6,446.6 L656.9,446.5 L658.1,446.6 L659.4,446.6 L660.6,446.7 L661.9,446.9 L663.1,447.0" fill="none" stroke="#7095c1" stroke-width="0.45" opacity="0.62"/><path d="M586.6,439.5 L587.9,440.6 L589.1,441.9 L590.4,443.3 L591.6,444.8 L592.9,446.5 L594.1,448.4 L595.4,450.4 L596.6,452.5 L597.9,454.6 L599.1,456.7 L600.4,458.8 L601.6,460.9 L602.9,462.8 L604.1,464.5 L605.4,466.1 L606.6,467.6 L607.9,468.8 L609.1,469.9 L610.4,470.9 L611.6,471.7 L612.9,472.4 L614.1,472.9 L615.4,473.4 L616.6,473.7 L617.9,473.9 L619.1,474.1 L620.4,474.1 L621.6,474.0 L622.9,473.8 L624.1,473.4 L625.4,472.9 L626.6,472.3 L627.9,471.5 L629.1,470.5 L630.4,469.3 L631.6,468.0 L632.9,466.6 L634.1,465.0 L635.4,463.3 L636.6,461.7 L637.9,460.0 L639.1,458.4 L640.4,456.9 L641.6,455.5 L642.9,454.3 L644.1,453.2 L645.4,452.3 L646.6,451.5 L647.9,450.9 L649.1,450.4 L650.4,450.1 L651.6,449.8 L652.9,449.6 L654.1,449.5 L655.4,449.5 L656.6,449.5 L657.9,449.5 L659.1,449.6 L660.4,449.7 L661.6,449.9" fill="none" stroke="#729eb0" stroke-width="0.45" opacity="0.62"/><path d="M585.2,442.2 L586.4,443.2 L587.7,444.4 L588.9,445.6 L590.2,447.0 L591.4,448.4 L592.7,450.0 L593.9,451.7 L595.2,453.4 L596.4,455.2 L597.7,457.0 L598.9,458.8 L600.2,460.5 L601.4,462.2 L602.7,463.7 L603.9,465.1 L605.2,466.4 L606.4,467.5 L607.7,468.5 L608.9,469.4 L610.2,470.2 L611.4,470.8 L612.7,471.3 L613.9,471.8 L615.2,472.1 L616.4,472.3 L617.7,472.5 L618.9,472.5 L620.2,472.5 L621.4,472.3 L622.7,472.0 L623.9,471.6 L625.2,471.1 L626.4,470.4 L627.7,469.6 L628.9,468.7 L630.2,467.6 L631.4,466.4 L632.7,465.2 L633.9,463.9 L635.2,462.6 L636.4,461.2 L637.7,460.0 L638.9,458.7 L640.2,457.6 L641.4,456.6 L642.7,455.7 L643.9,454.9 L645.2,454.3 L646.4,453.7 L647.7,453.3 L648.9,453.0 L650.2,452.7 L651.4,452.5 L652.7,452.4 L653.9,452.4 L655.2,452.4 L656.4,452.4 L657.7,452.5 L658.9,452.6 L660.2,452.7" fill="none" stroke="#73a79f" stroke-width="0.45" opacity="0.62"/><path d="M583.7,444.8 L584.9,445.7 L586.2,446.7 L587.4,447.8 L588.7,449.0 L589.9,450.2 L591.2,451.6 L592.4,453.0 L593.7,454.4 L594.9,455.9 L596.2,457.4 L597.4,458.9 L598.7,460.3 L599.9,461.7 L601.2,463.0 L602.4,464.2 L603.7,465.3 L604.9,466.4 L606.2,467.3 L607.4,468.1 L608.7,468.8 L609.9,469.4 L611.2,469.9 L612.4,470.3 L613.7,470.6 L614.9,470.9 L616.2,471.0 L617.4,471.1 L618.7,471.1 L619.9,470.9 L621.2,470.7 L622.4,470.4 L623.7,470.0 L624.9,469.5 L626.2,468.9 L627.4,468.1 L628.7,467.3 L629.9,466.4 L631.2,465.4 L632.4,464.4 L633.7,463.4 L634.9,462.4 L636.2,461.4 L637.4,460.4 L638.7,459.5 L639.9,458.7 L641.2,458.0 L642.4,457.4 L643.7,456.8 L644.9,456.4 L646.2,456.0 L647.4,455.7 L648.7,455.5 L649.9,455.4 L651.2,455.3 L652.4,455.2 L653.7,455.2 L654.9,455.3 L656.2,455.3 L657.4,455.4 L658.7,455.6" fill="none" stroke="#74b08f" stroke-width="0.45" opacity="0.62"/><path d="M582.2,447.3 L583.4,448.1 L584.7,448.9 L585.9,449.9 L587.2,450.9 L588.4,451.9 L589.7,453.0 L590.9,454.2 L592.2,455.4 L593.4,456.6 L594.7,457.9 L595.9,459.1 L597.2,460.3 L598.4,461.4 L599.7,462.5 L600.9,463.6 L602.2,464.5 L603.4,465.4 L604.7,466.2 L605.9,466.9 L607.2,467.5 L608.4,468.1 L609.7,468.5 L610.9,468.9 L612.2,469.3 L613.4,469.5 L614.7,469.7 L615.9,469.8 L617.2,469.8 L618.4,469.7 L619.7,469.6 L620.9,469.4 L622.2,469.1 L623.4,468.7 L624.7,468.2 L625.9,467.7 L627.2,467.1 L628.4,466.4 L629.7,465.7 L630.9,465.0 L632.2,464.2 L633.4,463.5 L634.7,462.7 L635.9,462.0 L637.2,461.3 L638.4,460.7 L639.7,460.1 L640.9,459.6 L642.2,459.2 L643.4,458.9 L644.7,458.6 L645.9,458.4 L647.2,458.2 L648.4,458.1 L649.7,458.0 L650.9,458.0 L652.2,458.0 L653.4,458.1 L654.7,458.1 L655.9,458.2 L657.2,458.4" fill="none" stroke="#75b97e" stroke-width="0.45" opacity="0.62"/><path d="M580.7,449.6 L581.9,450.3 L583.2,451.0 L584.4,451.8 L585.7,452.7 L586.9,453.5 L588.2,454.5 L589.4,455.4 L590.7,456.4 L591.9,457.4 L593.2,458.4 L594.4,459.4 L595.7,460.4 L596.9,461.3 L598.2,462.2 L599.4,463.0 L600.7,463.8 L601.9,464.6 L603.2,465.3 L604.4,465.9 L605.7,466.4 L606.9,466.9 L608.2,467.4 L609.4,467.7 L610.7,468.0 L611.9,468.3 L613.2,468.5 L614.4,468.6 L615.7,468.7 L616.9,468.7 L618.2,468.6 L619.4,468.5 L620.7,468.3 L621.9,468.1 L623.2,467.8 L624.4,467.4 L625.7,467.0 L626.9,466.5 L628.2,466.0 L629.4,465.5 L630.7,465.0 L631.9,464.5 L633.2,463.9 L634.4,463.4 L635.7,463.0 L636.9,462.5 L638.2,462.1 L639.4,461.8 L640.7,461.5 L641.9,461.2 L643.2,461.0 L644.4,460.9 L645.7,460.8 L646.9,460.7 L648.2,460.7 L649.4,460.7 L650.7,460.7 L651.9,460.8 L653.2,460.9 L654.4,461.0 L655.7,461.1" fill="none" stroke="#77c26e" stroke-width="0.45" opacity="0.62"/><path d="M579.2,451.8 L580.5,452.4 L581.7,453.0 L583.0,453.7 L584.2,454.4 L585.5,455.1 L586.7,455.8 L588.0,456.6 L589.2,457.4 L590.5,458.2 L591.7,459.0 L593.0,459.7 L594.2,460.5 L595.5,461.3 L596.7,462.0 L598.0,462.7 L599.2,463.3 L600.5,464.0 L601.7,464.5 L603.0,465.1 L604.2,465.5 L605.5,466.0 L606.7,466.4 L608.0,466.7 L609.2,467.0 L610.5,467.2 L611.7,467.4 L613.0,467.6 L614.2,467.7 L615.5,467.8 L616.7,467.8 L618.0,467.8 L619.2,467.7 L620.5,467.6 L621.7,467.4 L623.0,467.2 L624.2,466.9 L625.5,466.7 L626.7,466.4 L628.0,466.1 L629.2,465.7 L630.5,465.4 L631.7,465.1 L633.0,464.8 L634.2,464.5 L635.5,464.2 L636.7,464.0 L638.0,463.8 L639.2,463.6 L640.5,463.5 L641.7,463.4 L643.0,463.3 L644.2,463.3 L645.5,463.3 L646.7,463.3 L648.0,463.3 L649.2,463.4 L650.5,463.5 L651.7,463.6 L653.0,463.7 L654.2,463.9" fill="none" stroke="#7ec861" stroke-width="0.45" opacity="0.62"/><path d="M577.7,454.0 L579.0,454.5 L580.2,455.0 L581.5,455.5 L582.7,456.0 L584.0,456.6 L585.2,457.2 L586.5,457.8 L587.7,458.4 L589.0,459.0 L590.2,459.6 L591.5,460.2 L592.7,460.8 L594.0,461.4 L595.2,461.9 L596.5,462.5 L597.7,463.0 L599.0,463.5 L600.2,464.0 L601.5,464.4 L602.7,464.8 L604.0,465.2 L605.2,465.5 L606.5,465.8 L607.7,466.1 L609.0,466.3 L610.2,466.6 L611.5,466.7 L612.7,466.9 L614.0,467.0 L615.2,467.1 L616.5,467.1 L617.7,467.2 L619.0,467.2 L620.2,467.1 L621.5,467.1 L622.7,467.0 L624.0,466.9 L625.2,466.8 L626.5,466.6 L627.7,466.5 L629.0,466.3 L630.2,466.2 L631.5,466.1 L632.7,465.9 L634.0,465.8 L635.2,465.7 L636.5,465.7 L637.7,465.6 L639.0,465.6 L640.2,465.6 L641.5,465.6 L642.7,465.6 L644.0,465.7 L645.2,465.8 L646.5,465.9 L647.7,466.0 L649.0,466.1 L650.2,466.2 L651.5,466.4 L652.7,466.5" fill="none" stroke="#8fca5a" stroke-width="0.45" opacity="0.62"/><path d="M576.2,456.0 L577.5,456.4 L578.7,456.8 L580.0,457.2 L581.2,457.6 L582.5,458.0 L583.7,458.5 L585.0,458.9 L586.2,459.4 L587.5,459.8 L588.7,460.2 L590.0,460.7 L591.2,461.1 L592.5,461.6 L593.7,462.0 L595.0,462.4 L596.2,462.8 L597.5,463.2 L598.7,463.5 L600.0,463.9 L601.2,464.2 L602.5,464.5 L603.7,464.8 L605.0,465.1 L606.2,465.4 L607.5,465.6 L608.7,465.8 L610.0,466.0 L611.2,466.2 L612.5,466.4 L613.7,466.6 L615.0,466.7 L616.2,466.8 L617.5,466.9 L618.7,467.0 L620.0,467.0 L621.2,467.1 L622.5,467.1 L623.7,467.2 L625.0,467.2 L626.2,467.2 L627.5,467.2 L628.7,467.3 L630.0,467.3 L631.2,467.3 L632.5,467.4 L633.7,467.4 L635.0,467.5 L636.2,467.5 L637.5,467.6 L638.7,467.7 L640.0,467.8 L641.2,467.9 L642.5,468.0 L643.7,468.2 L645.0,468.3 L646.2,468.5 L647.5,468.6 L648.7,468.8 L650.0,469.0 L651.2,469.2" fill="none" stroke="#a1cc53" stroke-width="0.45" opacity="0.62"/><path d="M574.7,458.0 L576.0,458.3 L577.2,458.6 L578.5,458.9 L579.7,459.2 L581.0,459.5 L582.2,459.8 L583.5,460.1 L584.7,460.4 L586.0,460.7 L587.2,461.0 L588.5,461.3 L589.7,461.6 L591.0,461.9 L592.2,462.1 L593.5,462.4 L594.7,462.7 L596.0,463.0 L597.2,463.3 L598.5,463.5 L599.7,463.8 L601.0,464.1 L602.2,464.3 L603.5,464.6 L604.7,464.8 L606.0,465.1 L607.2,465.3 L608.5,465.5 L609.7,465.7 L611.0,465.9 L612.2,466.1 L613.5,466.3 L614.7,466.5 L616.0,466.7 L617.2,466.9 L618.5,467.1 L619.7,467.3 L621.0,467.5 L622.2,467.6 L623.5,467.8 L624.7,468.0 L626.0,468.1 L627.2,468.3 L628.5,468.5 L629.7,468.6 L631.0,468.8 L632.2,469.0 L633.5,469.1 L634.7,469.3 L636.0,469.5 L637.2,469.7 L638.5,469.9 L639.7,470.1 L641.0,470.3 L642.2,470.5 L643.5,470.7 L644.7,470.9 L646.0,471.1 L647.2,471.3 L648.5,471.5 L649.7,471.7" fill="none" stroke="#b2cd4c" stroke-width="0.45" opacity="0.62"/><path d="M573.3,460.0 L574.5,460.2 L575.8,460.3 L577.0,460.5 L578.3,460.7 L579.5,460.9 L580.8,461.0 L582.0,461.2 L583.3,461.4 L584.5,461.5 L585.8,461.7 L587.0,461.9 L588.3,462.0 L589.5,462.2 L590.8,462.4 L592.0,462.6 L593.3,462.8 L594.5,462.9 L595.8,463.1 L597.0,463.3 L598.3,463.5 L599.5,463.7 L600.8,463.9 L602.0,464.2 L603.3,464.4 L604.5,464.6 L605.8,464.8 L607.0,465.1 L608.3,465.3 L609.5,465.6 L610.8,465.8 L612.0,466.1 L613.3,466.4 L614.5,466.7 L615.8,466.9 L617.0,467.2 L618.3,467.5 L619.5,467.8 L620.8,468.1 L622.0,468.4 L623.3,468.7 L624.5,469.0 L625.8,469.3 L627.0,469.6 L628.3,469.9 L629.5,470.2 L630.8,470.5 L632.0,470.8 L633.3,471.1 L634.5,471.4 L635.8,471.6 L637.0,471.9 L638.3,472.2 L639.5,472.5 L640.8,472.7 L642.0,473.0 L643.3,473.2 L644.5,473.5 L645.8,473.8 L647.0,474.0 L648.3,474.3" fill="none" stroke="#c3cf45" stroke-width="0.45" opacity="0.62"/><path d="M571.8,462.0 L573.0,462.1 L574.3,462.2 L575.5,462.2 L576.8,462.3 L578.0,462.3 L579.3,462.4 L580.5,462.4 L581.8,462.4 L583.0,462.5 L584.3,462.5 L585.5,462.5 L586.8,462.5 L588.0,462.6 L589.3,462.6 L590.5,462.6 L591.8,462.7 L593.0,462.8 L594.3,462.9 L595.5,463.0 L596.8,463.1 L598.0,463.3 L599.3,463.4 L600.5,463.6 L601.8,463.8 L603.0,464.1 L604.3,464.3 L605.5,464.5 L606.8,464.8 L608.0,465.1 L609.3,465.4 L610.5,465.8 L611.8,466.1 L613.0,466.5 L614.3,466.9 L615.5,467.3 L616.8,467.7 L618.0,468.1 L619.3,468.5 L620.5,469.0 L621.8,469.4 L623.0,469.9 L624.3,470.3 L625.5,470.7 L626.8,471.2 L628.0,471.6 L629.3,472.0 L630.5,472.4 L631.8,472.8 L633.0,473.2 L634.3,473.6 L635.5,474.0 L636.8,474.3 L638.0,474.7 L639.3,475.0 L640.5,475.3 L641.8,475.6 L643.0,476.0 L644.3,476.2 L645.5,476.5 L646.8,476.8" fill="none" stroke="#d4d13f" stroke-width="0.45" opacity="0.62"/><path d="M570.3,464.1 L571.5,464.1 L572.8,464.1 L574.0,464.0 L575.3,464.0 L576.5,463.9 L577.8,463.8 L579.0,463.7 L580.3,463.5 L581.5,463.4 L582.8,463.2 L584.0,463.1 L585.3,463.0 L586.5,462.8 L587.8,462.7 L589.0,462.6 L590.3,462.6 L591.5,462.5 L592.8,462.5 L594.0,462.6 L595.3,462.6 L596.5,462.7 L597.8,462.8 L599.0,462.9 L600.3,463.1 L601.5,463.3 L602.8,463.6 L604.0,463.8 L605.3,464.2 L606.5,464.5 L607.8,464.9 L609.0,465.3 L610.3,465.7 L611.5,466.2 L612.8,466.7 L614.0,467.2 L615.3,467.7 L616.5,468.3 L617.8,468.9 L619.0,469.5 L620.3,470.1 L621.5,470.7 L622.8,471.3 L624.0,471.9 L625.3,472.5 L626.5,473.1 L627.8,473.6 L629.0,474.2 L630.3,474.7 L631.5,475.2 L632.8,475.7 L634.0,476.1 L635.3,476.6 L636.5,477.0 L637.8,477.4 L639.0,477.8 L640.3,478.1 L641.5,478.5 L642.8,478.8 L644.0,479.1 L645.3,479.4" fill="none" stroke="#ddce3b" stroke-width="0.45" opacity="0.62"/><path d="M568.8,466.3 L570.0,466.2 L571.3,466.1 L572.5,465.9 L573.8,465.7 L575.0,465.5 L576.3,465.3 L577.5,465.0 L578.8,464.7 L580.0,464.3 L581.3,464.0 L582.5,463.7 L583.8,463.4 L585.0,463.1 L586.3,462.8 L587.5,462.6 L588.8,462.3 L590.0,462.2 L591.3,462.1 L592.5,462.0 L593.8,461.9 L595.0,461.9 L596.3,462.0 L597.5,462.1 L598.8,462.3 L600.0,462.4 L601.3,462.7 L602.5,463.0 L603.8,463.3 L605.0,463.7 L606.3,464.1 L607.5,464.6 L608.8,465.1 L610.0,465.7 L611.3,466.3 L612.5,467.0 L613.8,467.7 L615.0,468.4 L616.3,469.1 L617.5,469.9 L618.8,470.7 L620.0,471.5 L621.3,472.3 L622.5,473.1 L623.8,473.8 L625.0,474.6 L626.3,475.3 L627.5,476.0 L628.8,476.6 L630.0,477.2 L631.3,477.8 L632.5,478.4 L633.8,478.9 L635.0,479.4 L636.3,479.8 L637.5,480.3 L638.8,480.7 L640.0,481.0 L641.3,481.4 L642.5,481.8 L643.8,482.1" fill="none" stroke="#dfc839" stroke-width="0.45" opacity="0.62"/><path d="M567.3,468.7 L568.6,468.5 L569.8,468.3 L571.1,468.0 L572.3,467.6 L573.6,467.3 L574.8,466.8 L576.1,466.4 L577.3,465.9 L578.6,465.3 L579.8,464.8 L581.1,464.3 L582.3,463.8 L583.6,463.3 L584.8,462.8 L586.1,462.4 L587.3,462.0 L588.6,461.7 L589.8,461.4 L591.1,461.2 L592.3,461.1 L593.6,461.1 L594.8,461.0 L596.1,461.1 L597.3,461.2 L598.6,461.4 L599.8,461.6 L601.1,462.0 L602.3,462.3 L603.6,462.7 L604.8,463.2 L606.1,463.8 L607.3,464.4 L608.6,465.1 L609.8,465.8 L611.1,466.6 L612.3,467.5 L613.6,468.4 L614.8,469.3 L616.1,470.3 L617.3,471.3 L618.6,472.3 L619.8,473.3 L621.1,474.2 L622.3,475.2 L623.6,476.1 L624.8,477.0 L626.1,477.8 L627.3,478.6 L628.6,479.4 L629.8,480.1 L631.1,480.7 L632.3,481.3 L633.6,481.8 L634.8,482.4 L636.1,482.8 L637.3,483.3 L638.6,483.7 L639.8,484.1 L641.1,484.5 L642.3,484.8" fill="none" stroke="#e2c138" stroke-width="0.45" opacity="0.62"/><path d="M565.8,471.2 L567.1,470.9 L568.3,470.6 L569.6,470.1 L570.8,469.7 L572.1,469.1 L573.3,468.5 L574.6,467.9 L575.8,467.1 L577.1,466.4 L578.3,465.6 L579.6,464.9 L580.8,464.1 L582.1,463.4 L583.3,462.7 L584.6,462.1 L585.8,461.6 L587.1,461.1 L588.3,460.7 L589.6,460.4 L590.8,460.2 L592.1,460.0 L593.3,459.9 L594.6,460.0 L595.8,460.0 L597.1,460.2 L598.3,460.4 L599.6,460.8 L600.8,461.2 L602.1,461.6 L603.3,462.2 L604.6,462.8 L605.8,463.5 L607.1,464.3 L608.3,465.2 L609.6,466.1 L610.8,467.1 L612.1,468.2 L613.3,469.4 L614.6,470.6 L615.8,471.8 L617.1,473.0 L618.3,474.2 L619.6,475.4 L620.8,476.6 L622.1,477.7 L623.3,478.8 L624.6,479.8 L625.8,480.7 L627.1,481.6 L628.3,482.4 L629.6,483.1 L630.8,483.8 L632.1,484.4 L633.3,485.0 L634.6,485.5 L635.8,486.0 L637.1,486.4 L638.3,486.8 L639.6,487.2 L640.8,487.6" fill="none" stroke="#e5bb36" stroke-width="0.45" opacity="0.62"/><path d="M564.3,473.8 L565.6,473.4 L566.8,473.0 L568.1,472.5 L569.3,471.9 L570.6,471.1 L571.8,470.3 L573.1,469.5 L574.3,468.5 L575.6,467.5 L576.8,466.5 L578.1,465.5 L579.3,464.5 L580.6,463.5 L581.8,462.6 L583.1,461.8 L584.3,461.0 L585.6,460.4 L586.8,459.8 L588.1,459.4 L589.3,459.1 L590.6,458.8 L591.8,458.7 L593.1,458.7 L594.3,458.7 L595.6,458.9 L596.8,459.1 L598.1,459.4 L599.3,459.8 L600.6,460.3 L601.8,460.9 L603.1,461.6 L604.3,462.4 L605.6,463.3 L606.8,464.3 L608.1,465.4 L609.3,466.7 L610.6,468.0 L611.8,469.3 L613.1,470.8 L614.3,472.2 L615.6,473.7 L616.8,475.2 L618.1,476.7 L619.3,478.1 L620.6,479.4 L621.8,480.7 L623.1,481.9 L624.3,483.0 L625.6,484.0 L626.8,484.9 L628.1,485.7 L629.3,486.4 L630.6,487.1 L631.8,487.7 L633.1,488.2 L634.3,488.7 L635.6,489.2 L636.8,489.6 L638.1,490.0 L639.3,490.4" fill="none" stroke="#e7b435" stroke-width="0.45" opacity="0.62"/><path d="M562.8,476.5 L564.1,476.1 L565.3,475.6 L566.6,475.0 L567.8,474.2 L569.1,473.3 L570.3,472.3 L571.6,471.2 L572.8,470.0 L574.1,468.8 L575.3,467.4 L576.6,466.1 L577.8,464.8 L579.1,463.5 L580.3,462.4 L581.6,461.3 L582.8,460.3 L584.1,459.5 L585.3,458.8 L586.6,458.2 L587.8,457.8 L589.1,457.5 L590.3,457.3 L591.6,457.2 L592.8,457.3 L594.1,457.4 L595.3,457.6 L596.6,457.9 L597.8,458.4 L599.1,458.9 L600.3,459.5 L601.6,460.3 L602.8,461.2 L604.1,462.2 L605.3,463.3 L606.6,464.6 L607.8,466.0 L609.1,467.5 L610.3,469.2 L611.6,470.9 L612.8,472.7 L614.1,474.5 L615.3,476.2 L616.6,478.0 L617.8,479.7 L619.1,481.3 L620.3,482.7 L621.6,484.1 L622.8,485.3 L624.1,486.4 L625.3,487.4 L626.6,488.3 L627.8,489.1 L629.1,489.8 L630.3,490.5 L631.6,491.0 L632.8,491.5 L634.1,492.0 L635.3,492.4 L636.6,492.8 L637.8,493.2" fill="none" stroke="#eaae33" stroke-width="0.45" opacity="0.62"/><path d="M561.4,479.4 L562.6,478.9 L563.9,478.3 L565.1,477.6 L566.4,476.7 L567.6,475.7 L568.9,474.5 L570.1,473.2 L571.4,471.7 L572.6,470.1 L573.9,468.4 L575.1,466.8 L576.4,465.1 L577.6,463.5 L578.9,462.0 L580.1,460.7 L581.4,459.5 L582.6,458.5 L583.9,457.6 L585.1,457.0 L586.4,456.4 L587.6,456.0 L588.9,455.8 L590.1,455.7 L591.4,455.7 L592.6,455.8 L593.9,456.0 L595.1,456.3 L596.4,456.8 L597.6,457.3 L598.9,458.0 L600.1,458.8 L601.4,459.8 L602.6,460.9 L603.9,462.1 L605.1,463.6 L606.4,465.2 L607.6,467.0 L608.9,468.9 L610.1,470.9 L611.4,473.0 L612.6,475.1 L613.9,477.3 L615.1,479.3 L616.4,481.3 L617.6,483.2 L618.9,484.9 L620.1,486.4 L621.4,487.8 L622.6,489.1 L623.9,490.1 L625.1,491.1 L626.4,491.9 L627.6,492.7 L628.9,493.3 L630.1,493.9 L631.4,494.4 L632.6,494.9 L633.9,495.3 L635.1,495.7 L636.4,496.0" fill="none" stroke="#eca831" stroke-width="0.45" opacity="0.62"/><path d="M559.9,482.4 L561.1,481.9 L562.4,481.3 L563.6,480.5 L564.9,479.5 L566.1,478.3 L567.4,476.9 L568.6,475.3 L569.9,473.5 L571.1,471.6 L572.4,469.5 L573.6,467.4 L574.9,465.4 L576.1,463.4 L577.4,461.6 L578.6,460.0 L579.9,458.5 L581.1,457.3 L582.4,456.3 L583.6,455.5 L584.9,454.9 L586.1,454.5 L587.4,454.2 L588.6,454.0 L589.9,454.0 L591.1,454.1 L592.4,454.3 L593.6,454.6 L594.9,455.1 L596.1,455.6 L597.4,456.3 L598.6,457.2 L599.9,458.2 L601.1,459.4 L602.4,460.7 L603.6,462.3 L604.9,464.2 L606.1,466.2 L607.4,468.4 L608.6,470.8 L609.9,473.3 L611.1,475.8 L612.4,478.3 L613.6,480.8 L614.9,483.1 L616.1,485.3 L617.4,487.2 L618.6,489.0 L619.9,490.5 L621.1,491.8 L622.4,493.0 L623.6,494.0 L624.9,494.9 L626.1,495.6 L627.4,496.3 L628.6,496.8 L629.9,497.3 L631.1,497.8 L632.4,498.2 L633.6,498.6 L634.9,498.9" fill="none" stroke="#efa130" stroke-width="0.45" opacity="0.62"/><path d="M558.4,485.5 L559.6,485.0 L560.9,484.4 L562.1,483.5 L563.4,482.5 L564.6,481.1 L565.9,479.5 L567.1,477.7 L568.4,475.5 L569.6,473.2 L570.9,470.7 L572.1,468.2 L573.4,465.7 L574.6,463.3 L575.9,461.1 L577.1,459.1 L578.4,457.4 L579.6,456.0 L580.9,454.8 L582.1,453.9 L583.4,453.2 L584.6,452.8 L585.9,452.5 L587.1,452.3 L588.4,452.3 L589.6,452.4 L590.9,452.6 L592.1,452.9 L593.4,453.3 L594.6,453.9 L595.9,454.5 L597.1,455.4 L598.4,456.4 L599.6,457.7 L600.9,459.1 L602.1,460.9 L603.4,462.9 L604.6,465.2 L605.9,467.7 L607.1,470.5 L608.4,473.4 L609.6,476.4 L610.9,479.4 L612.1,482.3 L613.4,485.0 L614.6,487.5 L615.9,489.7 L617.1,491.7 L618.4,493.3 L619.6,494.8 L620.9,496.0 L622.1,497.0 L623.4,497.9 L624.6,498.6 L625.9,499.3 L627.1,499.8 L628.4,500.3 L629.6,500.7 L630.9,501.1 L632.1,501.4 L633.4,501.8" fill="none" stroke="#ef982f" stroke-width="0.45" opacity="0.62"/><path d="M556.9,488.7 L558.1,488.2 L559.4,487.6 L560.6,486.8 L561.9,485.7 L563.1,484.2 L564.4,482.5 L565.6,480.3 L566.9,477.8 L568.1,475.1 L569.4,472.1 L570.6,469.0 L571.9,465.9 L573.1,463.0 L574.4,460.3 L575.6,458.0 L576.9,456.0 L578.1,454.4 L579.4,453.2 L580.6,452.2 L581.9,451.5 L583.1,451.0 L584.4,450.7 L585.6,450.5 L586.9,450.5 L588.1,450.6 L589.4,450.8 L590.6,451.1 L591.9,451.5 L593.1,452.0 L594.4,452.7 L595.6,453.5 L596.9,454.5 L598.1,455.8 L599.4,457.3 L600.6,459.2 L601.9,461.3 L603.1,463.9 L604.4,466.8 L605.6,470.0 L606.9,473.4 L608.1,477.0 L609.4,480.5 L610.6,484.0 L611.9,487.1 L613.1,490.0 L614.4,492.5 L615.6,494.6 L616.9,496.4 L618.1,497.9 L619.4,499.1 L620.6,500.1 L621.9,501.0 L623.1,501.7 L624.4,502.3 L625.6,502.8 L626.9,503.2 L628.1,503.6 L629.4,504.0 L630.6,504.3 L631.9,504.6" fill="none" stroke="#ee8d2f" stroke-width="0.45" opacity="0.62"/><path d="M555.4,491.9 L556.7,491.6 L557.9,491.0 L559.2,490.2 L560.4,489.1 L561.7,487.6 L562.9,485.7 L564.2,483.3 L565.4,480.5 L566.7,477.2 L567.9,473.6 L569.2,469.8 L570.4,466.1 L571.7,462.6 L572.9,459.4 L574.2,456.7 L575.4,454.4 L576.7,452.7 L577.9,451.3 L579.2,450.3 L580.4,449.6 L581.7,449.1 L582.9,448.9 L584.2,448.7 L585.4,448.7 L586.7,448.8 L587.9,449.0 L589.2,449.3 L590.4,449.7 L591.7,450.2 L592.9,450.8 L594.2,451.6 L595.4,452.5 L596.7,453.8 L597.9,455.3 L599.2,457.2 L600.4,459.5 L601.7,462.3 L602.9,465.6 L604.2,469.3 L605.4,473.3 L606.7,477.5 L607.9,481.7 L609.2,485.8 L610.4,489.4 L611.7,492.7 L612.9,495.4 L614.2,497.7 L615.4,499.6 L616.7,501.1 L617.9,502.4 L619.2,503.3 L620.4,504.1 L621.7,504.8 L622.9,505.3 L624.2,505.8 L625.4,506.2 L626.7,506.6 L627.9,506.9 L629.2,507.2 L630.4,507.5" fill="none" stroke="#ed822e" stroke-width="0.45" opacity="0.62"/><path d="M553.9,495.2 L555.2,494.9 L556.4,494.5 L557.7,493.8 L558.9,492.8 L560.2,491.3 L561.4,489.3 L562.7,486.7 L563.9,483.5 L565.2,479.7 L566.4,475.4 L567.7,470.8 L568.9,466.2 L570.2,462.0 L571.4,458.2 L572.7,455.1 L573.9,452.6 L575.2,450.7 L576.4,449.3 L577.7,448.3 L578.9,447.6 L580.2,447.2 L581.4,447.0 L582.7,447.0 L583.9,447.0 L585.2,447.1 L586.4,447.3 L587.7,447.6 L588.9,447.9 L590.2,448.4 L591.4,448.9 L592.7,449.6 L593.9,450.5 L595.2,451.6 L596.4,453.1 L597.7,454.9 L598.9,457.3 L600.2,460.3 L601.4,463.9 L602.7,468.2 L603.9,472.9 L605.2,477.9 L606.4,483.0 L607.7,487.8 L608.9,492.0 L610.2,495.7 L611.4,498.7 L612.7,501.2 L613.9,503.1 L615.2,504.6 L616.4,505.7 L617.7,506.6 L618.9,507.3 L620.2,507.9 L621.4,508.4 L622.7,508.8 L623.9,509.1 L625.2,509.5 L626.4,509.8 L627.7,510.0 L628.9,510.3" fill="none" stroke="#ec782e" stroke-width="0.45" opacity="0.62"/><path d="M552.4,498.4 L553.7,498.3 L554.9,498.0 L556.2,497.4 L557.4,496.6 L558.7,495.2 L559.9,493.3 L561.2,490.6 L562.4,487.1 L563.7,482.6 L564.9,477.5 L566.2,471.9 L567.4,466.3 L568.7,461.1 L569.9,456.7 L571.2,453.1 L572.4,450.4 L573.7,448.4 L574.9,447.1 L576.2,446.2 L577.4,445.7 L578.7,445.4 L579.9,445.3 L581.2,445.2 L582.4,445.3 L583.7,445.5 L584.9,445.7 L586.2,446.0 L587.4,446.3 L588.7,446.6 L589.9,447.1 L591.2,447.7 L592.4,448.4 L593.7,449.4 L594.9,450.7 L596.2,452.4 L597.4,454.8 L598.7,457.9 L599.9,461.8 L601.2,466.6 L602.4,472.2 L603.7,478.3 L604.9,484.3 L606.2,490.0 L607.4,495.0 L608.7,499.1 L609.9,502.4 L611.2,504.8 L612.4,506.7 L613.7,508.1 L614.9,509.1 L616.2,509.9 L617.4,510.5 L618.7,511.0 L619.9,511.4 L621.2,511.7 L622.4,512.1 L623.7,512.3 L624.9,512.6 L626.2,512.9 L627.4,513.1" fill="none" stroke="#ec6d2e" stroke-width="0.45" opacity="0.62"/><path d="M550.9,501.5 L552.2,501.5 L553.4,501.4 L554.7,501.1 L555.9,500.4 L557.2,499.3 L558.4,497.6 L559.7,495.0 L560.9,491.2 L562.2,486.2 L563.4,480.1 L564.7,473.2 L565.9,466.2 L567.2,459.9 L568.4,454.7 L569.7,450.7 L570.9,447.9 L572.2,446.0 L573.4,444.8 L574.7,444.1 L575.9,443.7 L577.2,443.6 L578.4,443.5 L579.7,443.6 L580.9,443.8 L582.2,443.9 L583.4,444.2 L584.7,444.4 L585.9,444.7 L587.2,445.0 L588.4,445.4 L589.7,445.8 L590.9,446.4 L592.2,447.2 L593.4,448.3 L594.7,449.8 L595.9,451.9 L597.2,455.0 L598.4,459.1 L599.7,464.5 L600.9,471.1 L602.2,478.4 L603.4,485.8 L604.7,492.7 L605.9,498.5 L607.2,503.0 L608.4,506.3 L609.7,508.7 L610.9,510.4 L612.2,511.6 L613.4,512.5 L614.7,513.1 L615.9,513.6 L617.2,514.0 L618.4,514.3 L619.7,514.6 L620.9,514.9 L622.2,515.2 L623.4,515.4 L624.7,515.7 L625.9,515.9" fill="none" stroke="#eb622d" stroke-width="0.45" opacity="0.62"/><path d="M549.5,504.5 L550.7,504.6 L552.0,504.7 L553.2,504.6 L554.5,504.2 L555.7,503.5 L557.0,502.1 L558.2,499.8 L559.5,496.1 L560.7,490.7 L562.0,483.4 L563.2,474.8 L564.5,465.9 L565.7,458.1 L567.0,452.0 L568.2,447.8 L569.5,445.0 L570.7,443.4 L572.0,442.5 L573.2,442.0 L574.5,441.8 L575.7,441.8 L577.0,441.9 L578.2,442.1 L579.5,442.3 L580.7,442.5 L582.0,442.7 L583.2,442.9 L584.5,443.2 L585.7,443.5 L587.0,443.8 L588.2,444.1 L589.5,444.5 L590.7,445.1 L592.0,445.9 L593.2,447.1 L594.5,448.9 L595.7,451.6 L597.0,455.7 L598.2,461.5 L599.5,469.2 L600.7,478.2 L602.0,487.5 L603.2,495.9 L604.5,502.5 L605.7,507.4 L607.0,510.6 L608.2,512.8 L609.5,514.2 L610.7,515.1 L612.0,515.8 L613.2,516.2 L614.5,516.6 L615.7,516.9 L617.0,517.2 L618.2,517.5 L619.5,517.7 L620.7,518.0 L622.0,518.2 L623.2,518.5 L624.5,518.7" fill="none" stroke="#ea572d" stroke-width="0.45" opacity="0.62"/><path d="M548.0,507.4 L549.2,507.6 L550.5,507.8 L551.7,507.8 L553.0,507.8 L554.2,507.5 L555.5,506.7 L556.7,505.0 L558.0,501.7 L559.2,496.2 L560.5,487.7 L561.7,476.8 L563.0,465.4 L564.2,455.6 L565.5,448.6 L566.7,444.3 L568.0,442.0 L569.2,440.8 L570.5,440.3 L571.7,440.1 L573.0,440.1 L574.2,440.3 L575.5,440.4 L576.7,440.6 L578.0,440.9 L579.2,441.1 L580.5,441.3 L581.7,441.5 L583.0,441.8 L584.2,442.0 L585.5,442.3 L586.7,442.6 L588.0,442.9 L589.2,443.2 L590.5,443.8 L591.7,444.5 L593.0,445.8 L594.2,447.9 L595.5,451.6 L596.7,457.5 L598.0,466.3 L599.2,477.6 L600.5,489.6 L601.7,499.9 L603.0,507.4 L604.2,512.2 L605.5,515.1 L606.7,516.8 L608.0,517.8 L609.2,518.5 L610.5,518.9 L611.7,519.2 L613.0,519.5 L614.2,519.8 L615.5,520.0 L616.7,520.3 L618.0,520.5 L619.2,520.8 L620.5,521.0 L621.7,521.2 L623.0,521.5" fill="none" stroke="#e94d2c" stroke-width="0.45" opacity="0.62"/><path d="M546.5,510.2 L547.7,510.5 L549.0,510.7 L550.2,510.9 L551.5,511.0 L552.7,511.0 L554.0,510.8 L555.2,510.0 L556.5,507.8 L557.7,503.0 L559.0,493.8 L560.2,479.8 L561.5,464.2 L562.7,451.7 L564.0,444.3 L565.2,440.6 L566.5,439.0 L567.7,438.5 L569.0,438.3 L570.2,438.4 L571.5,438.6 L572.7,438.8 L574.0,439.0 L575.2,439.3 L576.5,439.5 L577.7,439.7 L579.0,439.9 L580.2,440.2 L581.5,440.4 L582.7,440.7 L584.0,440.9 L585.2,441.1 L586.5,441.4 L587.7,441.6 L589.0,442.0 L590.2,442.4 L591.5,443.1 L592.7,444.4 L594.0,447.0 L595.2,452.2 L596.5,461.8 L597.7,476.2 L599.0,492.3 L600.2,505.3 L601.5,513.3 L602.7,517.5 L604.0,519.5 L605.2,520.6 L606.5,521.2 L607.7,521.5 L609.0,521.8 L610.2,522.1 L611.5,522.4 L612.7,522.6 L614.0,522.8 L615.2,523.1 L616.5,523.3 L617.7,523.5 L619.0,523.8 L620.2,524.0 L621.5,524.2" fill="none" stroke="#e8422c" stroke-width="0.45" opacity="0.62"/><path d="M545.0,513.0 L546.2,513.2 L547.5,513.5 L548.8,513.7 L550.0,513.9 L551.2,514.1 L552.5,514.3 L553.8,514.2 L555.0,513.5 L556.2,510.7 L557.5,502.5 L558.8,484.7 L560.0,461.8 L561.2,446.0 L562.5,439.3 L563.8,437.1 L565.0,436.6 L566.2,436.6 L567.5,436.8 L568.8,437.0 L570.0,437.2 L571.2,437.4 L572.5,437.7 L573.8,437.9 L575.0,438.1 L576.2,438.4 L577.5,438.6 L578.8,438.8 L580.0,439.1 L581.2,439.3 L582.5,439.5 L583.8,439.8 L585.0,440.0 L586.2,440.2 L587.5,440.5 L588.8,440.7 L590.0,441.1 L591.2,441.6 L592.5,442.8 L593.8,446.0 L595.0,454.6 L596.2,472.9 L597.5,496.4 L598.8,512.6 L600.0,519.8 L601.2,522.4 L602.5,523.4 L603.8,523.9 L605.0,524.2 L606.2,524.4 L607.5,524.7 L608.8,524.9 L610.0,525.1 L611.2,525.4 L612.5,525.6 L613.8,525.8 L615.0,526.1 L616.2,526.3 L617.5,526.5 L618.8,526.8 L620.0,527.0" fill="none" stroke="#e8382c" stroke-width="0.45" opacity="0.62"/>
<path d="M619.8,528.4 C624,512 628,499 637.1,478.6 C645,462 655,446 670.7,422" fill="none" stroke="#e83030" stroke-width="0.8" stroke-dasharray="1.2,1.2"/>
<path d="M577,460.6 C600,462 620,465 637,467" fill="none" stroke="#e83030" stroke-width="0.8" stroke-dasharray="1.2,1.2"/>
<path d="M623.0,527.0 L624.9,525.3 L626.9,523.1 L628.8,520.7 L630.7,518.1 L632.7,515.3 L634.6,512.4 L636.5,509.4 L638.5,506.3 L640.4,503.1 L642.3,499.8 L644.3,496.4 L646.2,493.0 L648.1,489.4 L650.1,485.9 L652.0,482.2 L653.9,478.5 L655.9,474.8 L657.8,471.0 L659.7,467.1 L661.7,463.2 L663.6,459.2 L665.5,455.2 L667.5,451.2 L669.4,447.1 L671.3,442.9 L673.3,438.7 L675.2,434.5 L677.1,430.2 L679.1,425.9 L681.0,421.6" fill="none" stroke="#f01010" stroke-width="1.8"/>
<path d="M545.5,425 L545.5,513 L620,527.3" fill="none" stroke="#333" stroke-width="0.8"/>
<line x1="543" y1="426" x2="545.5" y2="426" stroke="#333" stroke-width="0.8"/>
<line x1="543" y1="469.5" x2="545.5" y2="469.5" stroke="#333" stroke-width="0.8"/>
<line x1="543" y1="513" x2="545.5" y2="513" stroke="#333" stroke-width="0.8"/>
<text x="540" y="430" font-family="Liberation Sans, sans-serif" font-size="10" text-anchor="end">2π</text>
<text x="540" y="473" font-family="Liberation Sans, sans-serif" font-size="10" text-anchor="end">π</text>
<text x="540" y="518" font-family="Liberation Sans, sans-serif" font-size="10" text-anchor="end">0</text>
<text transform="translate(523,466) rotate(-90)" font-family="Liberation Sans, sans-serif" font-size="9.8" text-anchor="middle">Phase (rad)</text>
<text x="574.6" y="533" font-family="Liberation Sans, sans-serif" font-size="10" text-anchor="middle">π/2</text>
<text x="618.3" y="538.5" font-family="Liberation Sans, sans-serif" font-size="10" text-anchor="middle">π</text>
<text transform="translate(571.5,547) rotate(12)" font-family="Liberation Sans, sans-serif" font-size="9.8" text-anchor="middle">Angular orientation</text>
<text x="570" y="558.5" font-family="Liberation Sans, sans-serif" font-size="9.8" text-anchor="middle"><tspan font-family="Liberation Serif, serif" font-style="italic">θ</tspan> (rad)</text>
<rect x="0" y="-2.2" width="63.5" height="4.4" fill="url(#gRain)" transform="translate(624.4,530.5) rotate(-18.8)"/>
<text transform="translate(660,534) rotate(-19.6)" font-family="Liberation Sans, sans-serif" font-size="10" text-anchor="middle">Wavelength</text>

</svg></body></html>
